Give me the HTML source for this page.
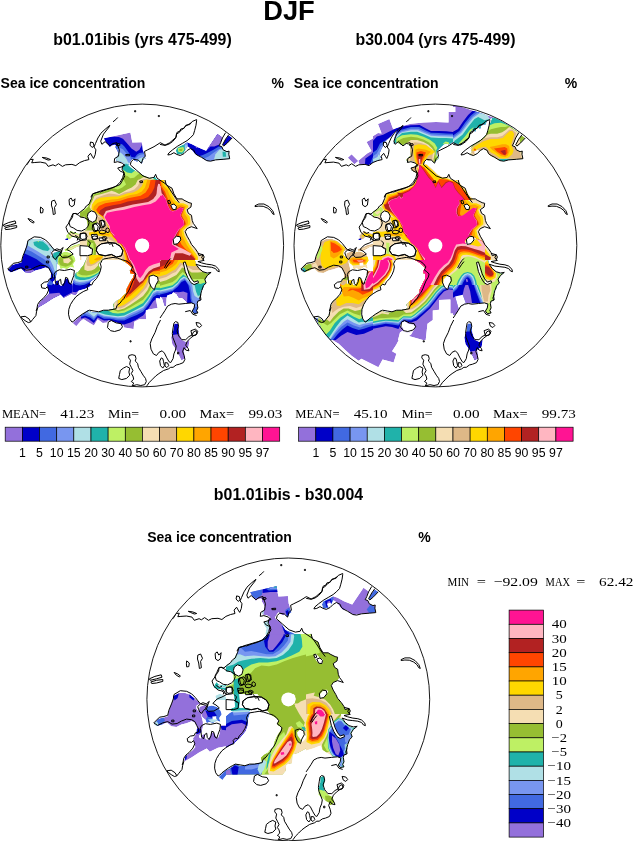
<!DOCTYPE html>
<html><head><meta charset="utf-8"><title>DJF sea ice concentration</title>
<style>html,body{margin:0;padding:0;background:#fff}svg{display:block}.hb{font-family:"Liberation Sans",Arial,Helvetica,sans-serif;font-weight:bold;fill:#000}.h{font-family:"Liberation Sans",Arial,Helvetica,sans-serif;fill:#000}.s{font-family:"Liberation Serif","Times New Roman",serif;fill:#000}</style></head><body>
<svg width="634" height="841" viewBox="0 0 634 841">
<rect width="634" height="841" fill="#fff"/>
<text class="hb" x="289" y="20.2" font-size="27.3" text-anchor="middle">DJF</text>
<text class="hb" x="142.5" y="45" font-size="15.9" text-anchor="middle">b01.01ibis (yrs 475-499)</text>
<text class="hb" x="435.5" y="45" font-size="15.9" text-anchor="middle">b30.004 (yrs 475-499)</text>
<text class="hb" x="288.5" y="499.5" font-size="15.9" text-anchor="middle">b01.01ibis - b30.004</text>
<text class="hb" x="0.6" y="88.3" font-size="14">Sea ice concentration</text>
<text class="hb" x="284" y="88.3" font-size="14" text-anchor="end">%</text>
<text class="hb" x="293.8" y="88.3" font-size="14">Sea ice concentration</text>
<text class="hb" x="577.2" y="88.3" font-size="14" text-anchor="end">%</text>
<text class="hb" x="147.2" y="542" font-size="14">Sea ice concentration</text>
<text class="hb" x="430.6" y="542" font-size="14" text-anchor="end">%</text>
<g transform="translate(142.2 245.5)">
<clipPath id="clip0"><circle r="141.4"/></clipPath>
<g clip-path="url(#clip0)">
<clipPath id="m1r1"><path d="M-38.3 -107.2 -11.8 -113.1 -9.9 -102.9 -0.4 -103.3 0.4 -95.8 1.8 -91.8 3.1 -87.1 1 -85.9 -0.4 -82 -2 -83.2 -3.2 -85.1 -5.1 -84 -7.5 -85.1 -9.9 -87.1 -11 -85.7 -12.6 -83.2 -13.7 -80.8 -17.8 -81.4 -19.3 -83.2 -22.5 -84.3 -25.6 -84.7 -26.4 -87.5 -24.5 -89.5 -23.7 -92.6 -25.2 -95.8 -26.8 -98.5 -26 -99.7 -27.2 -100.9 -30.8 -100.1 -32.3 -98.5 -34.3 -101.3 -35.9 -102.9Z"/></clipPath>
<clipPath id="m1r1b"><rect x="-42.2" y="-115.5" width="50" height="50"/></clipPath>
<g clip-path="url(#m1r1b)">
<g clip-path="url(#m1r1)">
<path fill="#9370DB" d="M-38.3 -107.2 -11.8 -113.1 -9.9 -102.9 -0.4 -103.3 0.4 -95.8 1.8 -91.8 3.1 -87.1 1 -85.9 -0.4 -82 -2 -83.2 -3.2 -85.1 -5.1 -84 -7.5 -85.1 -9.9 -87.1 -11 -85.7 -12.6 -83.2 -13.7 -80.8 -17.8 -81.4 -19.3 -83.2 -22.5 -84.3 -25.6 -84.7 -26.4 -87.5 -24.5 -89.5 -23.7 -92.6 -25.2 -95.8 -26.8 -98.5 -26 -99.7 -27.2 -100.9 -30.8 -100.1 -32.3 -98.5 -34.3 -101.3 -35.9 -102.9Z"/>
<path fill="#0000C8" d="M-38.3 -107.2 -30.4 -108.8 -23.3 -108.6 -19.3 -106.8 -15.4 -102.5 -10.7 -97 -5.9 -93.8 -2.8 -95.8 -0.6 -99.7 0 -103.7 6.7 -103.7 6.7 -78.4 -42.2 -78.4 -42.2 -107.2Z"/>
<path fill="#4169E1" d="M-26 -99.7 -23.3 -101.7 -20.1 -101.3 -17.8 -98.9 -15.4 -95.8 -13 -92.2 -11 -88.7 -7.5 -87.9 -5.1 -91.1 -2.8 -92.6 0.8 -93 6.7 -93 6.7 -78.4 -30.4 -78.4 -30.4 -97.4Z"/>
<path fill="#7896F0" d="M-25.2 -96.2 -22.5 -97.8 -19.3 -96.2 -17 -93.4 -15 -91.1 -13.4 -89.5 -11.8 -88.3 -11.4 -86.2 -7.5 -86.2 -5.5 -88.3 -3.6 -89.9 -1.2 -91.1 6.7 -91.8 6.7 -78.4 -30.4 -78.4 -30.4 -95.8Z"/>
<path fill="#B0E0E6" d="M-24.1 -92.6 -21.7 -93 -19.3 -91.1 -17 -88.3 -15.4 -85.9 -14.6 -84 -13.4 -82.4 -12.2 -84 -9.1 -84 -5.1 -85.1 -2.8 -87.1 -0.4 -87.9 6.7 -88.3 6.7 -78.4 -30.4 -78.4 -30.4 -92.6Z"/>
<path fill="#20B2AA" d="M-18.5 -80.4 -16.2 -82 -14.2 -80.8 -10.7 -80.8 -10.7 -78.4 -22.5 -78.4Z"/>
</g>
</g>
<clipPath id="m1r2"><path d="M44.9 -103.2 49.3 -101.6 55.7 -98.2 63.9 -94.8 75.2 -111.7 80.5 -108 76.9 -100.1 79.6 -98.8 80.9 -95.7 84.7 -93.8 86.9 -94.4 86.6 -91.2 87.5 -86.8 80.9 -86.2 73.3 -85.6 65.7 -84.3 62 -86.2 58.2 -89.3 54.4 -90 51.9 -92.5 50 -95 47.5 -97.6 44.9 -99.4 41.8 -101.3Z"/><path d="M33.6 -95 34.8 -97.8 38.6 -99.8 42.4 -101.6 44.9 -103.2 45.3 -99.4 43 -95 41.1 -91.9 38 -91 34.8 -91.2Z"/><path d="M86.6 -109.9 90 -107.6 85.3 -102.6 81.5 -99.4 80.3 -100.7 83.4 -106.4Z"/></clipPath>
<clipPath id="m1r2b"><rect x="17.8" y="-145.5" width="80" height="80"/></clipPath>
<g clip-path="url(#m1r2b)">
<g clip-path="url(#m1r2)">
<path fill="#0000C8" d="M44.9 -103.2 49.3 -101.6 55.7 -98.2 63.9 -94.8 75.2 -111.7 80.5 -108 76.9 -100.1 79.6 -98.8 80.9 -95.7 84.7 -93.8 86.9 -94.4 86.6 -91.2 87.5 -86.8 80.9 -86.2 73.3 -85.6 65.7 -84.3 62 -86.2 58.2 -89.3 54.4 -90 51.9 -92.5 50 -95 47.5 -97.6 44.9 -99.4 41.8 -101.3Z"/>
<path fill="#20B2AA" d="M33.6 -95 34.8 -97.8 38.6 -99.8 42.4 -101.6 44.9 -103.2 45.3 -99.4 43 -95 41.1 -91.9 38 -91 34.8 -91.2Z"/>
<path fill="#0000C8" d="M86.6 -109.9 90 -107.6 85.3 -102.6 81.5 -99.4 80.3 -100.7 83.4 -106.4Z"/>
<path fill="#9370DB" d="M63.9 -94.8 75.2 -111.7 80.5 -108 77.1 -101.1 72.1 -99.1 68.3 -99.1Z"/>
<path fill="#9370DB" d="M52.9 -99.6 55.7 -98.2 54.1 -97.6Z"/>
<path fill="#4169E1" d="M55.7 -89.1 60.7 -90.4 64.5 -92.3 70.8 -95.4 77.1 -99.2 80.9 -99.8 88.5 -99.8 88.5 -82.4 55.7 -82.4Z"/>
<path fill="#7896F0" d="M61.3 -86.8 66.4 -89.1 71.4 -92.8 76.1 -96 80.3 -97.6 88.5 -97.6 88.5 -82.4 61.3 -82.4Z"/>
<path fill="#7896F0" d="M42.4 -102 45.3 -103.2 45.8 -99.4 43.7 -95.7 42.4 -97.6Z"/>
<path fill="#B0E0E6" d="M71.4 -84.9 73.3 -91.2 77.1 -95.7 80.3 -96.3 88.5 -96.3 88.5 -84.9Z"/>
<path fill="#B0E0E6" d="M43 -100.1 44.6 -100.7 44.3 -96.9 43 -96Z"/>
<path fill="#20B2AA" d="M80.3 -93.8 83.4 -93.8 84 -88.7 80.6 -88.7Z"/>
<path fill="#BEF064" d="M35.5 -97.6 41.1 -98.6 42 -95.7 39.9 -93.1 36.1 -93.8Z"/>
<path fill="#96BE32" d="M36.7 -96.3 40.5 -96.9 39.9 -94.4 37.4 -94.4Z"/>
</g>
</g>
<clipPath id="m1r3"><path d="M-19.9 -65.5 -23.1 -60.5 -28.1 -58.6 -34.4 -56.7 -42 -53.5 -49.6 -52.3 -50.2 -47.8 -52.7 -43.4 -54.6 -39 -58.4 -35.8 -62.2 -34 -62.2 15.3 18.6 15.3 18.6 -66.1 -19.9 -66.1Z"/></clipPath>
<clipPath id="m1r3b"><rect x="-62.2" y="-65.5" width="80" height="80"/></clipPath>
<g clip-path="url(#m1r3b)">
<g clip-path="url(#m1r3)">
<path fill="#BEF064" d="M-19.9 -65.5 -23.1 -60.5 -28.1 -58.6 -34.4 -56.7 -42 -53.5 -49.6 -52.3 -50.2 -47.8 -52.7 -43.4 -54.6 -39 -58.4 -35.8 -62.2 -34 -62.2 15.3 18.6 15.3 18.6 -66.1 -19.9 -66.1Z"/>
<path fill="#96BE32" d="M-18.7 -66.1 -16.1 -61.1 -19.9 -57.9 -24.3 -56 -29.4 -57.3 -33.2 -56 -40.7 -52.9 -48.3 -51 -49.6 -47.8 -52.1 -42.8 -54 -38.4 -57.2 -35.2 -62.2 -32.7 -62.2 15.3 18.6 15.3 18.6 -66.1Z"/>
<path fill="#F5DEB3" d="M-4.2 -66.1 -6.7 -61.1 -10.5 -57.9 -14.9 -56 -19.3 -53.5 -23.1 -51.6 -26.9 -53.5 -30.7 -54.8 -33.8 -53.5 -40.7 -51.6 -47.7 -49.7 -49 -46.6 -51.5 -41.5 -52.7 -38.4 -50.8 -35.2 -45.8 -27.6 -44.5 -15 -62.2 -15 -62.2 15.3 18.6 15.3 18.6 -66.1Z"/>
<path fill="#DEB887" d="M-1.6 -66.1 -4.2 -59.8 -7.9 -56 -13 -54.1 -18 -52.9 -23.1 -50.4 -28.1 -51.6 -33.2 -51.9 -39.5 -50.1 -45.8 -47.8 -48.3 -44 -50.2 -40.3 -50.2 -35.8 -45.8 -31.4 -40.7 -27.6 -37 -17.6 -37 -12.5 -33.2 -6.2 -20.6 0.1 -18 5.2 -20.6 15.3 18.6 15.3 18.6 -66.1Z"/>
<path fill="#FFD700" d="M2.2 -66.1 -0.4 -59.2 -4.2 -55.4 -9.2 -52.9 -14.3 -52.3 -19.3 -50.4 -24.3 -49.1 -29.4 -49.1 -35.7 -48.5 -42 -47.8 -47.1 -45.3 -50.2 -40.9 -50.8 -36.5 -45.8 -32.4 -40.1 -28.3 -36.3 -23.9 -33.8 -17.6 -33.2 -12.5 -30.7 -8.7 -26.9 -4.9 -21.8 -1.1 -19.3 3.3 -18 8.9 -17 15.3 18.6 15.3 18.6 -66.1Z"/>
<path fill="#FFA500" d="M5.3 -66.1 2.8 -57.9 -0.4 -54.1 -5.4 -51.6 -11.7 -50.4 -18 -48.5 -24.3 -46.6 -30.7 -45.9 -38.2 -44.7 -44.5 -42.8 -48.6 -39 -49 -35.8 -44.5 -32.4 -39.5 -28.7 -35.7 -23.9 -33.2 -18.2 -32.2 -12.5 -29.4 -8.7 -25.6 -4.9 -21.2 -1.1 -18.7 3.3 -17 8.9 -15.8 15.3 18.6 15.3 18.6 -66.1Z"/>
<path fill="#FF4500" d="M8.5 -66.1 6.6 -57.9 3.4 -52.9 -1.6 -49.7 -7.9 -48.5 -14.3 -47.2 -21.8 -44.7 -29.4 -43.4 -37 -42.2 -43.3 -39.6 -46 -35.8 -43.9 -32.4 -38.9 -28.7 -35.4 -23.9 -32.9 -18.2 -31.9 -13.1 -28.8 -9.1 -25 -4.9 -20.8 -1.1 -18 3.3 -16.1 8.9 -14.5 15.3 18.6 15.3 18.6 -66.1Z"/>
<path fill="#B22222" d="M13.5 -66.1 12.2 -57.9 9.7 -52.9 5.9 -48.5 0.9 -46.6 -6.7 -45.3 -14.3 -44 -21.8 -41.5 -29.4 -40.3 -37 -38.4 -42 -35.2 -43.3 -32.1 -38.2 -28.7 -35.2 -23.9 -32.7 -18.2 -31.5 -13.5 -28.4 -9.3 -24.6 -5.2 -20.6 -1.1 -17.5 3.3 -15.5 8.9 -13.5 15.3 18.6 15.3 18.6 -66.1Z"/>
<path fill="#FFB6C1" d="M18.6 -56.7 14.8 -51.6 11 -46.6 5.9 -43.4 -1.6 -42.2 -9.2 -40.9 -19.3 -38.4 -28.1 -36.7 -36.3 -34.6 -38.9 -29.5 -37 -25.1 -33.8 -20.1 -32.4 -15.7 -30.7 -12.5 -28.1 -9.6 -24.3 -5.4 -20.3 -1.4 -17.3 3 -15 8.7 -12.7 15.3 18.6 15.3Z"/>
<path fill="#FF1493" d="M18.6 -49.7 13.5 -44 8.5 -41.5 0.9 -40.3 -7.9 -38.4 -18 -35.8 -26.9 -34.6 -35.1 -32.7 -37.6 -28.3 -35.1 -23.9 -32.5 -19.4 -31.9 -15 -30 -12.5 -27.5 -10 -29.1 -9.2 -26.2 -6.2 -24.3 -2.4 -20.3 -1.7 -17 2.6 -14.5 8.3 -11.7 15.3 18.6 15.3Z"/>
<path fill="#FFB6C1" d="M14.1 -49.5 15 -57.9 16 -61.7 18.1 -61.1 18.6 -57.9 18.6 -49.5Z"/>
<path fill="#DEB887" d="M-45.2 -28.9 -40.7 -27.6 -37 -23.9 -37 -15 -41.4 -15 -43.3 -22.6Z"/>
<path fill="#FFD700" d="M-53.4 -13.1 -45.8 -14.4 -37 -13.8 -30.7 -11.2 -30 -8.7 -37 -9.3 -45.8 -10 -52.7 -10Z"/>
<path fill="#FFA500" d="M-42 -12.5 -33.2 -11.5 -32.5 -10 -41.4 -10.6Z"/>
<path fill="#96BE32" d="M-54.6 -6.2 -48.3 -4.9 -45.8 0.1 -46.4 10.2 -45.8 15.3 -54.6 15.3 -53.4 5.2 -55.3 -1.1Z"/>
<path fill="#BEF064" d="M-52.7 -2.4 -49 -2.4 -48.3 5.2 -49 15.3 -52.1 15.3 -51.5 5.2Z"/>
<path fill="#FFFFFF" d="M-54 -32.4 -50.8 -34.6 -47.1 -33.3 -45.2 -29.5 -46.4 -25.1 -49.6 -23.2 -53.4 -25.1 -54.9 -28.9Z"/>
<path fill="#FFFFFF" d="M-62.8 -27.6 -57.8 -28.9 -55.3 -25.1 -54.6 -20.1 -55.9 -15.7 -59.7 -13.8 -62.8 -13.1Z"/>
<path fill="#FFFFFF" d="M-49 -21.3 -44.5 -22.6 -42 -19.4 -43.3 -15 -47.7 -15Z"/>
<path fill="#FFFFFF" d="M-41.4 -25.1 -37.6 -24.5 -37 -19.4 -40.1 -18.8Z"/>
<path fill="#FFFFFF" d="M-50.8 -11 -45.2 -11.2 -44.5 -6.8 -49.6 -6.2Z"/>
<path fill="#FFFFFF" d="M-62.8 -11.9 -56.5 -12.5 -55.9 -5.6 -62.8 -4.9Z"/>
<path fill="#FFFFFF" d="M-43.3 -7.5 -37 -7.7 -36.3 -4.9 -42.6 -4.7Z"/>
<path fill="#FFFFFF" d="M-45.2 1.4 -40.7 -1.8 -33.2 -3 -26.9 -2.4 -21.8 0.7 -19.3 5.2 -20.6 10.2 -25.6 11.5 -30.7 8.9 -37 10.2 -43.3 8.9 -45.8 5.2Z"/>
<path fill="#FFFFFF" d="M-62.8 0.1 -54.6 0.7 -49.6 3.3 -50.2 8.9 -54.6 10.2 -62.8 10.2Z"/>
<path fill="#FFFFFF" d="M-60.9 10.2 -55.9 10.8 -56.5 15.3 -60.9 15.3Z"/>
<path fill="#DEB887" d="M-53.4 10.2 -43.3 10 -40.7 15.3 -54.6 15.3Z"/>
<path fill="#FFD700" d="M-50.2 12.1 -43.3 11.5 -41.4 15.3 -50.8 15.3Z"/>
<path fill="#FFFFFF" d="M6.8 0.1 5.9 3.6 3.4 6.2 -0.1 7.1 -3.7 6.2 -6.2 3.6 -7.1 0.1 -6.2 -3.4 -3.7 -5.9 -0.1 -6.8 3.4 -5.9 5.9 -3.4Z"/>
</g>
</g>
<clipPath id="m1r4"><path d="M22.8 -66.1 24.1 -60.5 29.8 -57.3 31.7 -51.6 34.8 -46.6 39.9 -46.6 41.8 -45.3 46.8 -42.8 49.3 -42.2 48.7 -38.4 44.9 -35.8 46.2 -32.1 49.3 -30.2 50 -25.1 51.2 -22 49.3 -18.8 44.9 -16.9 43 -13.8 44.9 -9.3 47.5 -4.9 49.3 -1.1 53.1 3.3 55.7 7.1 56.9 10.2 60.7 8.9 62 11.5 60.7 15.3 17.2 15.3 17.2 -66.1Z"/></clipPath>
<clipPath id="m1r4b"><rect x="17.8" y="-65.5" width="80" height="80"/></clipPath>
<g clip-path="url(#m1r4b)">
<g clip-path="url(#m1r4)">
<path fill="#F5DEB3" d="M22.8 -66.1 24.1 -60.5 29.8 -57.3 31.7 -51.6 34.8 -46.6 39.9 -46.6 41.8 -45.3 46.8 -42.8 49.3 -42.2 48.7 -38.4 44.9 -35.8 46.2 -32.1 49.3 -30.2 50 -25.1 51.2 -22 49.3 -18.8 44.9 -16.9 43 -13.8 44.9 -9.3 47.5 -4.9 49.3 -1.1 53.1 3.3 55.7 7.1 56.9 10.2 60.7 8.9 62 11.5 60.7 15.3 17.2 15.3 17.2 -66.1Z"/>
<path fill="#FFD700" d="M21.6 -66.1 22.8 -60.5 27.9 -56.7 29.8 -51 32.9 -45.3 36.7 -42.2 41.1 -42.2 45.6 -40.3 46.2 -38.4 43 -35.8 44.3 -32.1 47.5 -28.9 48.1 -25.1 48.1 -21.3 44.3 -18.2 41.1 -15 42.4 -10 44.9 -4.9 47.5 -0.5 50.6 3.9 53.8 8.3 55.7 11.5 55.7 15.3 17.2 15.3 17.2 -66.1Z"/>
<path fill="#FFA500" d="M19.7 -66.1 21 -59.8 25.4 -55.4 27.3 -50.4 30.4 -44.7 34.2 -40.3 39.3 -40.9 43.7 -39 41.8 -35.2 42.4 -31.4 44.9 -28.3 45.8 -24.5 45.6 -21.3 42.4 -18.8 39.3 -15.7 39.9 -10 42.4 -4.9 44.9 0.1 48.1 4.5 51.2 8.9 53.8 12.7 53.8 15.3 17.2 15.3 17.2 -66.1Z"/>
<path fill="#FF4500" d="M18.4 -66.1 19.3 -59.2 22.8 -54.1 24.7 -49.1 27.9 -41.5 30.4 -35.8 34.2 -36.7 38 -39 42.4 -38 40.8 -34 39.5 -30.2 41.1 -27 43 -23.9 43.7 -21.3 41.1 -19.1 38 -16.3 36.7 -11.2 36.7 -6.2 39.3 -1.1 43 3.3 48.1 7.7 51.9 11.5 52.5 15.3 17.2 15.3 17.2 -66.1Z"/>
<path fill="#B22222" d="M17.2 -61.7 18.8 -57.9 21.6 -52.9 23.5 -47.8 26 -40.3 28.5 -35.2 30.4 -34.5 34.2 -35.7 38 -38.2 41.8 -37.5 40.3 -34 38.6 -30.2 40.3 -27 42 -23.9 42.5 -21.1 39.9 -18.6 37.4 -16.3 35.5 -12.5 33.6 -8.1 34.2 -2.4 38 2.6 43 6.4 49.3 10.2 53.1 13.4 51.9 15.3 17.2 15.3Z"/>
<path fill="#FFB6C1" d="M17.2 -52.9 20.3 -51.6 23.5 -47.2 25.6 -40.3 28.1 -35.2 30.4 -34.2 34.2 -35.5 38 -38 41.5 -37.2 40 -34 38.2 -30.2 39.6 -27.6 41.5 -24.9 42 -20.7 39.5 -18.1 37 -16 34.5 -12.3 32.7 -8.5 31.4 -3.7 31.9 -1.1 36.7 1.4 43 4.5 49.3 8.3 47.5 10.2 40.5 7.7 32.9 7.7 30.4 15.3 17.2 15.3Z"/>
<path fill="#FF1493" d="M17.2 -50.4 20.3 -51 23.5 -46.6 25.4 -40.3 27.9 -35.2 30.4 -34 34.2 -35.2 38 -37.7 41.1 -37.1 39.9 -34 38 -30.2 39.3 -27.6 41.1 -25.1 41.8 -20.7 39.3 -18.2 36.7 -16.3 34.2 -12.5 32.3 -8.7 30.4 -4.9 29.8 -1.1 36.7 3.6 32.9 5.2 29.2 7.1 27.3 15.3 17.2 15.3Z"/>
<path fill="#FFB6C1" d="M17.2 -61.1 18.4 -59.2 19.3 -52.9 19.7 -49.7 17.2 -49.7Z"/>
<path fill="#FFFFFF" d="M28.5 -40.3 31.7 -41.5 34.2 -39 33.6 -35.8 30.4 -36.2Z"/>
<path fill="#FFFFFF" d="M31 -6.2 34.2 -9.3 38 -8.7 38.6 -5.6 35.5 -1.8 31.7 -1.1Z"/>
</g>
</g>
<clipPath id="m1r5"><path d="M-17.8 -81.7 -15.1 -81.7 -11.3 -77.9 -5.6 -74.1 0.7 -70.4 5.7 -67.8 10.8 -66.6 12.7 -69.7 14 -66.8 18.4 -64.7 18.4 -63.4 -22 -63.4 -21.4 -64.7 -19.5 -67.8 -18.2 -72.9 -20.1 -76 -19.7 -79.2Z"/></clipPath>
<clipPath id="m1r5b"><rect x="-42.2" y="-81.3" width="80" height="15.8"/></clipPath>
<g clip-path="url(#m1r5b)">
<g clip-path="url(#m1r5)">
<path fill="#20B2AA" d="M-17.8 -81.7 -15.1 -81.7 -11.3 -77.9 -5.6 -74.1 0.7 -70.4 5.7 -67.8 10.8 -66.6 12.7 -69.7 14 -66.8 18.4 -64.7 18.4 -63.4 -22 -63.4 -21.4 -64.7 -19.5 -67.8 -18.2 -72.9 -20.1 -76 -19.7 -79.2Z"/>
<path fill="#BEF064" d="M-19.5 -76 -15.1 -72.9 -10.7 -72.3 -7.5 -74.8 -4.3 -73.5 0.7 -69.7 18.4 -64 18.4 -62.8 -23.3 -62.8Z"/>
<path fill="#96BE32" d="M-18.9 -69.1 -15.1 -69.7 -11.9 -67.2 -8.1 -67.8 -4.3 -71 -1.8 -72.3 1.3 -70.1 18.4 -64 18.4 -62.8 -23.3 -62.8Z"/>
<path fill="#F5DEB3" d="M-4.2 -62.8 -5 -65.3 -1.8 -66.6 1.3 -68.5 5.1 -67.2 10.8 -65.9 18.4 -64 18.4 -62.8Z"/>
<path fill="#DEB887" d="M-1.6 -62.8 0.7 -66.6 5.1 -66.6 12.1 -65.3 18.4 -64 18.4 -62.8Z"/>
<path fill="#FFD700" d="M2.2 -62.8 3.9 -65.9 8.3 -65.3 13.3 -64.7 18.4 -62.8Z"/>
<path fill="#FFA500" d="M5.2 -62.8 7.6 -65.3 12.1 -64.7 15.8 -62.8Z"/>
<path fill="#FF4500" d="M8.5 -62.8 10.8 -65.1 14 -64.7 15.8 -62.8Z"/>
<path fill="#B22222" d="M13.4 -62.8 14.6 -64.3 17.1 -62.8Z"/>
</g>
</g>
<clipPath id="m1r6"><path d="M-134.6 24.4 -129.6 19.3 -124.5 18.1 -120.7 16.8 -119.5 11.8 -117.6 6.1 -115.7 1 -115.1 -3.4 -109.4 -6.5 -103.1 -6.5 -98 -4.6 -93.6 -0.8 -90.5 1.7 -87.9 4.2 -91.7 6.1 -92 9.2 -89.8 11.8 -86.7 13.7 -86.7 17.4 -85.4 22.5 -85.4 27.5 -86.7 32.6 -89.2 36.4 -93 36.4 -91.7 32.6 -91.1 27.5 -93.6 23.1 -96.8 21.9 -101.8 23.8 -106.9 25 -111.9 27.5 -117 26.9 -121.4 23.1 -125.8 25 -131.5 26.9Z"/><path d="M-85.4 12.4 -81.6 7.4 -76.6 6.1 -71.5 7.4 -67.8 11.1 -66.5 14.9 -69 18.7 -67.8 22.5 -71.5 21.2 -75.3 23.8 -79.1 22.5 -81.6 23.8 -82.9 20 -86 17.4Z"/><path d="M-88.6 7.4 -82.9 5.5 -80.4 7.4 -82.9 9.9 -84.8 13 -86 17.4 -85.4 22.5 -86.7 17.4 -86.7 13.7 -89.8 11.8Z"/></clipPath>
<clipPath id="m1r6b"><rect x="-142.2" y="-65.5" width="80" height="101"/></clipPath>
<g clip-path="url(#m1r6b)">
<g clip-path="url(#m1r6)">
<path fill="#0000C8" d="M-134.6 24.4 -129.6 19.3 -124.5 18.1 -120.7 16.8 -119.5 11.8 -117.6 6.1 -115.7 1 -115.1 -3.4 -109.4 -6.5 -103.1 -6.5 -98 -4.6 -93.6 -0.8 -90.5 1.7 -87.9 4.2 -91.7 6.1 -92 9.2 -89.8 11.8 -86.7 13.7 -86.7 17.4 -85.4 22.5 -85.4 27.5 -86.7 32.6 -89.2 36.4 -93 36.4 -91.7 32.6 -91.1 27.5 -93.6 23.1 -96.8 21.9 -101.8 23.8 -106.9 25 -111.9 27.5 -117 26.9 -121.4 23.1 -125.8 25 -131.5 26.9Z"/>
<path fill="#BEF064" d="M-85.4 12.4 -81.6 7.4 -76.6 6.1 -71.5 7.4 -67.8 11.1 -66.5 14.9 -69 18.7 -67.8 22.5 -71.5 21.2 -75.3 23.8 -79.1 22.5 -81.6 23.8 -82.9 20 -86 17.4Z"/>
<path fill="#20B2AA" d="M-88.6 7.4 -82.9 5.5 -80.4 7.4 -82.9 9.9 -84.8 13 -86 17.4 -85.4 22.5 -86.7 17.4 -86.7 13.7 -89.8 11.8Z"/>
<path fill="#9370DB" d="M-117 23.8 -111.9 23.1 -107.5 25 -111.9 27.8 -117 27.2Z"/>
<path fill="#4169E1" d="M-118.9 7.4 -113.2 9.9 -105.6 13.7 -100.6 17.4 -96.8 20 -92.4 23.8 -89.2 28.8 -89.2 37.6 -84.8 37.6 -84.8 -17.9 -118.9 -17.9Z"/>
<path fill="#7896F0" d="M-117 3.6 -110.7 6.1 -104.3 9.9 -98 13.7 -93.6 17.4 -91.1 22.5 -87.9 28.8 -84.8 28.8 -84.8 -17.9 -117 -17.9Z"/>
<path fill="#B0E0E6" d="M-115.1 -0.2 -110.7 2.3 -104.3 6.1 -98 9.9 -93 12.4 -89.2 20 -87.3 26.3 -84.8 26.3 -84.8 -17.9 -115.1 -17.9Z"/>
<path fill="#20B2AA" d="M-108.8 -3.4 -104.3 -4.6 -99.3 -4 -94.9 -0.2 -92.4 3.6 -94.3 5.5 -99.3 4.8 -104.3 2.6 -108.1 -0.2Z"/>
<path fill="#BEF064" d="M-105 -4.3 -103.1 -4.5 -103.7 -3.2Z"/>
<path fill="#0000C8" d="M-93 32.6 -86.7 31.3 -86 36.4 -94.3 37Z"/>
<path fill="#96BE32" d="M-82.9 12.4 -77.8 9.2 -71.5 10.5 -68.4 15.6 -70.9 19.3 -76.6 21.2 -81.6 20 -83.9 16.2Z"/>
<path fill="#F5DEB3" d="M-79.1 13.7 -73.4 12.4 -70.9 14.9 -74.1 18.1 -78.5 17.2Z"/>
<path fill="#20B2AA" d="M-88.6 7.4 -82.9 5.5 -80.4 7.4 -82.9 9.9 -84.8 13 -86 17.4 -86.7 13.7 -89.8 11.8Z"/>
</g>
</g>
<clipPath id="m1r7"><path d="M-92.4 34.7 -95.3 39.1 -94.3 43.5 -93 47.6 -95.5 50.5 -99.3 53.6 -103.1 57.4 -104.3 62.4 -96.8 58 -89.2 53 -81.6 49.2 -78.5 52.4 -70.3 48.3 -61.4 46.7 -61.4 25.9 -67.8 25.9 -68.4 33.4 -70.3 38.5 -72.2 37.2 -74.1 33.4 -77.2 32.8 -78.5 37.2 -81 40.4 -82.9 39.1 -83.9 34.7 -86 35.3 -87.3 39.1 -89.2 37.8 -88.8 34.7Z"/><path d="M-69.6 77.6 -61.4 69.4 -61.4 75.1 -65.9 80.7Z"/></clipPath>
<clipPath id="m1r7b"><rect x="-142.2" y="24.5" width="72.2" height="70"/></clipPath>
<g clip-path="url(#m1r7b)">
<g clip-path="url(#m1r7)">
<path fill="#0000C8" d="M-92.4 34.7 -95.3 39.1 -94.3 43.5 -93 47.6 -95.5 50.5 -99.3 53.6 -103.1 57.4 -104.3 62.4 -96.8 58 -89.2 53 -81.6 49.2 -78.5 52.4 -70.3 48.3 -61.4 46.7 -61.4 25.9 -67.8 25.9 -68.4 33.4 -70.3 38.5 -72.2 37.2 -74.1 33.4 -77.2 32.8 -78.5 37.2 -81 40.4 -82.9 39.1 -83.9 34.7 -86 35.3 -87.3 39.1 -89.2 37.8 -88.8 34.7Z"/>
<path fill="#9370DB" d="M-69.6 77.6 -61.4 69.4 -61.4 75.1 -65.9 80.7Z"/>
<path fill="#4169E1" d="M-95.5 39.1 -92.4 34.1 -88.6 37.8 -90.5 39.7Z"/>
<path fill="#9370DB" d="M-104.3 62.4 -103.7 58 -93.6 48.3 -82.9 47.3 -79.1 51.7 -70.9 47.3 -61.4 45.4 -61.4 47.9 -70.3 48.3 -78.5 52.4 -81.6 49.2 -89.2 53 -96.8 58Z"/>
</g>
</g>
<clipPath id="m1r8"><path d="M-21.8 13.9 -16.8 16.4 -13 19.5 -9.2 23.3 -12.4 25.2 -11.7 27.7 -7.9 28.4 -9.2 32.2 -11.7 36 -13.6 39.7 -15.5 43.5 -16.1 47.9 -19.3 50.5 -21.8 53.6 -25.6 55.5 -28.8 58.7 -28.1 63.1 -31.9 64.3 -37 65 -40.7 65.6 -44.5 66.9 -49.6 66.9 -54.6 65 -57.2 67.5 -60.9 70 -62.8 71.5 -62.8 75.1 -58.4 73.8 -54.6 76.3 -48.3 80.1 -44.5 73.8 -39.5 77.6 -35.1 77 -33.8 75.1 -24.3 77.6 -18.7 80.1 -18 82 -8.6 83.6 -7.9 76.3 -2.9 73.8 4 73.8 3.4 65 4.7 64.3 15.4 62.4 13.5 52.4 18.6 53.6 18.6 13.9Z"/></clipPath>
<clipPath id="m1r8b"><rect x="-62.2" y="14.5" width="80" height="80"/></clipPath>
<g clip-path="url(#m1r8b)">
<g clip-path="url(#m1r8)">
<path fill="#9370DB" d="M-21.8 13.9 -16.8 16.4 -13 19.5 -9.2 23.3 -12.4 25.2 -11.7 27.7 -7.9 28.4 -9.2 32.2 -11.7 36 -13.6 39.7 -15.5 43.5 -16.1 47.9 -19.3 50.5 -21.8 53.6 -25.6 55.5 -28.8 58.7 -28.1 63.1 -31.9 64.3 -37 65 -40.7 65.6 -44.5 66.9 -49.6 66.9 -54.6 65 -57.2 67.5 -60.9 70 -62.8 71.5 -62.8 75.1 -58.4 73.8 -54.6 76.3 -48.3 80.1 -44.5 73.8 -39.5 77.6 -35.1 77 -33.8 75.1 -24.3 77.6 -18.7 80.1 -18 82 -8.6 83.6 -7.9 76.3 -2.9 73.8 4 73.8 3.4 65 4.7 64.3 15.4 62.4 13.5 52.4 18.6 53.6 18.6 13.9Z"/>
<path fill="#0000C8" d="M-62.8 73.8 -57.2 71.9 -53.4 73.8 -48.3 77.6 -44.5 71.9 -38.2 75.1 -31.9 74.8 -24.3 77.6 -18 79.1 -11.7 77 -5.4 73.8 0.9 70 5.9 63.7 11 56.1 14.8 52.4 18.6 52.4 18.6 13.9 -62.8 13.9Z"/>
<path fill="#4169E1" d="M-62.8 71.9 -57.2 70 -52.1 71.9 -48.3 75.1 -44.5 70 -38.2 73.2 -31.9 73.2 -24.3 75.1 -18 75.1 -11.7 71.9 -5.4 69.4 0.9 66.2 5.9 59.9 11 51.7 14.8 49.2 18.6 49.8 18.6 13.9 -62.8 13.9Z"/>
<path fill="#7896F0" d="M-57.2 68.1 -52.1 70 -48.3 73.2 -44.5 68.8 -38.2 71.5 -31.9 71.9 -24.3 73.2 -18 73.2 -11.7 70 -5.4 67.2 0.9 64 5.9 57.7 11 49.2 14.8 47.1 18.6 47.6 18.6 13.9 -57.2 13.9Z"/>
<path fill="#B0E0E6" d="M-54.6 66.2 -48.3 71.3 -44.5 67.7 -38.2 70.3 -31.9 70.9 -24.3 71.9 -18 71.5 -11.7 68.1 -5.4 65.2 0.9 62.2 5.9 55.9 11 47.6 14.8 45.4 18.6 46 18.6 13.9 -54.6 13.9Z"/>
<path fill="#20B2AA" d="M-43.3 66.9 -37 69 -31.9 69.8 -24.3 70.7 -18 70 -11.7 66.9 -5.4 63.7 0.9 60.6 5.9 54.2 11 46 13.5 44.2 18.6 44.8 18.6 13.9 -43.3 13.9Z"/>
<path fill="#BEF064" d="M-34.4 65 -29.4 67.5 -24.3 68.1 -18 67.2 -11.7 64.3 -5.4 60.9 0.9 57.4 5.9 51.1 9.7 45.4 12.2 42.3 18.6 42.3 18.6 13.9 -34.4 13.9Z"/>
<path fill="#96BE32" d="M-29.1 64.3 -24.3 66.2 -18 65 -11.7 61.8 -5.4 58 0.9 54.2 5.9 47.9 9.1 42.3 11 38.5 18.6 38.5 18.6 13.9 -29.1 13.9Z"/>
<path fill="#F5DEB3" d="M-28.1 63.1 -24.3 64.7 -18 63.1 -11.7 59.3 -5.4 54.9 0.9 50.5 5.3 44.8 7.8 39.1 9.7 35.3 18.6 35.3 18.6 13.9 -28.1 13.9Z"/>
<path fill="#DEB887" d="M-25.6 62.4 -21.8 63.1 -18 61.4 -11.7 56.8 -5.4 52.1 0.9 46 4.7 41.6 6.9 36.6 8.5 33.4 18.6 33.4 18.6 13.9 -25.6 13.9Z"/>
<path fill="#FFD700" d="M-24.3 61.4 -18 59.3 -11.7 54.9 -5.4 49.8 0.9 42.9 4 37.8 5.9 33.4 7.2 30.9 18.6 30.9 18.6 13.9 -24.3 13.9Z"/>
<path fill="#FFA500" d="M-19.9 54.9 -11.7 50.5 -5.4 44.8 0.9 39.7 4 34.7 5.9 30.9 8.5 28.4 13.5 28.4 18.6 29 18.6 13.9 -19.9 13.9Z"/>
<path fill="#FF4500" d="M-16.1 52.4 -9.2 46 -2.9 39.1 0.9 37.2 2.2 33.4 5.3 28.4 11 25.9 18.6 25.2 18.6 13.9 -16.1 13.9Z"/>
<path fill="#B22222" d="M-13.2 13.9 -10.2 21.1 -8.2 28.6 -7.9 36 -10.5 43.5 -14.3 48.6 -11.7 47.9 -6 42.9 -0.4 37.8 3.4 33.4 6.6 29 11 25.6 18.6 23.3 18.6 13.9Z"/>
<path fill="#FFB6C1" d="M-12.7 13.9 -9.2 20.2 -6.9 27.1 -5.7 32.8 -2.9 37.2 0.9 34.7 3.4 30.3 6.6 25.9 11 23.1 18.6 20.6 18.6 13.9Z"/>
<path fill="#FF1493" d="M-11.7 13.9 -7.9 20.2 -5.4 27.1 -3.5 31.5 -1.9 32.5 0.9 29 3.4 24.6 6.6 21.1 11 19 18.6 16.8 18.6 13.9Z"/>
<path fill="#FFFFFF" d="M6.9 30.9 11 29.6 15.4 31.5 16 35.3 13.5 39.7 12.2 44.2 9.1 41.6 6.9 36.6Z"/>
</g>
</g>
<clipPath id="m1r9"><path d="M17.2 13.9 52.5 13.9 53.8 19.5 56.9 23.3 60.7 26.5 65.1 28.4 68.3 27.1 64.7 30.3 62.6 34.7 63.9 37.2 61.3 39.7 60.7 43.5 58.2 45.4 58.8 49.2 57.5 52.4 58.2 54.9 55.7 55.5 55 58 55.7 62.4 54.4 65 55.7 67.5 51.9 68.1 50 65.6 51.9 62.4 52.5 58.7 49.3 57.4 44.9 57.4 43 54.9 39.9 52.4 36.7 52.4 34.2 48.6 31 46.7 29.8 48.6 25.4 49.8 24.1 52.4 23.9 60.6 22.2 60.2 20.1 52.4 17.2 51.1Z"/></clipPath>
<clipPath id="m1r9b"><rect x="17.8" y="14.5" width="80" height="80"/></clipPath>
<g clip-path="url(#m1r9b)">
<g clip-path="url(#m1r9)">
<path fill="#0000C8" d="M17.2 13.9 52.5 13.9 53.8 19.5 56.9 23.3 60.7 26.5 65.1 28.4 68.3 27.1 64.7 30.3 62.6 34.7 63.9 37.2 61.3 39.7 60.7 43.5 58.2 45.4 58.8 49.2 57.5 52.4 58.2 54.9 55.7 55.5 55 58 55.7 62.4 54.4 65 55.7 67.5 51.9 68.1 50 65.6 51.9 62.4 52.5 58.7 49.3 57.4 44.9 57.4 43 54.9 39.9 52.4 36.7 52.4 34.2 48.6 31 46.7 29.8 48.6 25.4 49.8 24.1 52.4 23.9 60.6 22.2 60.2 20.1 52.4 17.2 51.1Z"/>
<path fill="#4169E1" d="M17.2 49.2 24.1 47.6 30.4 45.4 35.5 41.3 39.3 36.6 43 34.7 46.2 39.7 47.8 47.3 48.3 53.6 50 58.7 50.6 68.8 98.6 68.8 98.6 13.9 17.2 13.9Z"/>
<path fill="#7896F0" d="M17.2 47.6 24.1 46 30.4 44.2 35.5 39.7 39 35.3 42.4 33.4 48.1 41 49.3 47.3 49.3 52.4 51.2 58 52.5 61.2 55.7 61.8 98.6 61.8 98.6 13.9 17.2 13.9Z"/>
<path fill="#B0E0E6" d="M17.2 46 24.1 44.8 30.4 42.9 35.5 38.5 38.6 34.4 42.4 32.2 50 39.1 50.9 46 52.5 50.5 55.7 52.4 98.6 52.4 98.6 13.9 17.2 13.9Z"/>
<path fill="#20B2AA" d="M17.2 44.8 24.1 43.3 30.4 41.6 35.5 37.2 38.2 33.4 41.8 30.9 46.8 33.4 52.5 39.7 53.8 46 55.7 50.5 58.8 49.2 98.6 49.2 98.6 13.9 17.2 13.9Z"/>
<path fill="#BEF064" d="M17.2 42.9 24.1 41.3 30.4 39.7 34.8 36 37.7 32.2 41.1 29 46.8 33.4 51.9 38.5 55.7 37.8 58.2 38.5 62 37.2 98.6 37.2 98.6 13.9 17.2 13.9Z"/>
<path fill="#96BE32" d="M17.2 40.4 24.1 38.5 30.4 36.6 34.2 33.4 37.4 29.6 40.5 26.5 46.2 30.9 49.3 33.4 55.7 33.4 61.3 33.4 98.6 33.4 98.6 13.9 17.2 13.9Z"/>
<path fill="#F5DEB3" d="M17.2 36.6 24.1 34.7 30.4 31.5 34.2 29.6 36.7 26.5 39.9 22.1 46.2 24.6 49.3 27.1 55.7 27.1 60.7 26.5 98.6 26.5 98.6 13.9 17.2 13.9Z"/>
<path fill="#DEB887" d="M17.2 33.4 24.1 31.5 30.4 27.7 33.6 26.5 36.1 23.3 39.3 19.5 46.2 22.1 50.6 24.6 58.2 24.6 98.6 24.6 98.6 13.9 17.2 13.9Z"/>
<path fill="#FFD700" d="M17.2 30.9 24.1 29 30.4 25.2 32.9 24 35.5 20.8 38 17 46.2 20.2 51.9 20.8 54.4 20.2 98.6 20.2 98.6 13.9 17.2 13.9Z"/>
<path fill="#FFA500" d="M17.2 27.1 24.1 25.2 30.4 21.4 34.2 18.3 36.7 13.9 17.2 13.9Z"/>
<path fill="#FF4500" d="M17.2 24.6 24.1 22.3 30.4 18.3 32.9 13.9 17.2 13.9Z"/>
<path fill="#B22222" d="M17.2 22.1 22.8 19.5 27.9 13.9 17.2 13.9Z"/>
<path fill="#FFB6C1" d="M17.2 16.4 19.7 13.9 17.2 13.9Z"/>
<path fill="#9370DB" d="M18.8 51.5 24.4 51.5 23.9 60.6 22.2 60.2Z"/>
<path fill="#9370DB" d="M31 46.4 34.2 48.6 36.7 52.4 39.9 52.4 43 54.9 44.9 57.4 45.3 47.6 41.1 46 36.7 46.7Z"/>
<path fill="#FFFFFF" d="M41.1 17 43 16.4 44.9 22.1 46.8 28.4 49.3 33.4 51.9 36.6 55.7 35.3 56.3 37.2 51.9 39.1 48.7 37.2 45.6 32.2 43 25.9Z"/>
</g>
</g>
<clipPath id="m1r10"><path d="M32.4 78 35.9 78 37 87.2 39.3 94.2 44 96.5 47.4 94.2 46.3 101.2 41.7 104.6 42.8 112.7 39.3 115.1 35.9 108.1 33.5 103.5 30.1 98.8 28.9 91.9 31.2 84.9Z"/></clipPath>
<clipPath id="m1r10b"><rect x="17.8" y="74.5" width="47" height="45"/></clipPath>
<g clip-path="url(#m1r10b)">
<g clip-path="url(#m1r10)">
<path fill="#9370DB" d="M32.4 78 35.9 78 37 87.2 39.3 94.2 44 96.5 47.4 94.2 46.3 101.2 41.7 104.6 42.8 112.7 39.3 115.1 35.9 108.1 33.5 103.5 30.1 98.8 28.9 91.9 31.2 84.9Z"/>
<path fill="#0000C8" d="M31.5 78 36.3 78 36.6 88.4 30.5 89.6Z"/>
</g>
</g>
<clipPath id="m1r11"><path d="M-76.1 -10.1 -71.4 -14.8 -67.6 -12.9 -63.8 -12 -61.9 -11.5 -61.9 -7.3 -65.7 -7.7 -69.5 -9.1 -72.3 -6.3 -75.6 -6.3Z"/><path d="M-78 3.6 -73.3 2.2 -68.5 -0.2 -63.8 -1.6 -61.9 -2 -61.9 0.8 -65.7 1.7 -69.5 4.1 -73.3 5.5 -77.1 5.5Z"/><path d="M-77.1 -6.8 -74.2 -7.3 -74 -5.5 -76.9 -5.4Z"/></clipPath>
<clipPath id="m1r11b"><rect x="-92.2" y="-55.5" width="30" height="70"/></clipPath>
<g clip-path="url(#m1r11b)">
<g clip-path="url(#m1r11)">
<path fill="#BEF064" d="M-76.1 -10.1 -71.4 -14.8 -67.6 -12.9 -63.8 -12 -61.9 -11.5 -61.9 -7.3 -65.7 -7.7 -69.5 -9.1 -72.3 -6.3 -75.6 -6.3Z"/>
<path fill="#BEF064" d="M-78 3.6 -73.3 2.2 -68.5 -0.2 -63.8 -1.6 -61.9 -2 -61.9 0.8 -65.7 1.7 -69.5 4.1 -73.3 5.5 -77.1 5.5Z"/>
<path fill="#0000C8" d="M-77.1 -6.8 -74.2 -7.3 -74 -5.5 -76.9 -5.4Z"/>
<path fill="#F5DEB3" d="M-73.7 -10.1 -70.9 -12.5 -67.6 -11.5 -61.9 -10.6 -61.9 -8.7 -66.6 -9.1 -70 -10.1 -72.3 -8.2Z"/>
<path fill="#F5DEB3" d="M-74.2 3.6 -68.5 1.3 -61.9 -1.1 -61.9 -0.2 -67.6 2.2 -73.3 4.6Z"/>
</g>
</g>
<clipPath id="m1r12"><path d="M-53 9.2 -55.4 13.2 -57 16.3 -58.5 19.5 -60.9 22.6 -63.3 25.8 -66.4 27.8 -68 30.5 -68.4 34.5 -69.6 37.6 -70.4 41.6 -70.4 48.7 -66.4 49.5 -64.8 47.1 -63.3 45.1 -59.3 43.9 -56.2 43.1 -53 41.6 -50.7 39.2 -52.2 38.4 -51.4 36 -48.3 33.7 -45.1 30.5 -42.8 27.4 -41.6 23.4 -43.6 20.3 -42.8 17.1 -40.4 14.8 -39.2 11.6 -39.6 9.2Z"/></clipPath>
<clipPath id="m1r12b"><rect x="-70" y="9.5" width="32.8" height="42"/></clipPath>
<g clip-path="url(#m1r12b)">
<g clip-path="url(#m1r12)">
<path fill="#0000C8" d="M-53 9.2 -55.4 13.2 -57 16.3 -58.5 19.5 -60.9 22.6 -63.3 25.8 -66.4 27.8 -68 30.5 -68.4 34.5 -69.6 37.6 -70.4 41.6 -70.4 48.7 -66.4 49.5 -64.8 47.1 -63.3 45.1 -59.3 43.9 -56.2 43.1 -53 41.6 -50.7 39.2 -52.2 38.4 -51.4 36 -48.3 33.7 -45.1 30.5 -42.8 27.4 -41.6 23.4 -43.6 20.3 -42.8 17.1 -40.4 14.8 -39.2 11.6 -39.6 9.2Z"/>
<path fill="#4169E1" d="M-69.2 37.6 -66.4 39.6 -62.5 40 -57.8 39.2 -53.8 37.6 -50.3 35.4 -47.9 33.7 -38 28.2 -38 4.5 -69.2 4.5Z"/>
<path fill="#7896F0" d="M-68.6 35.7 -66.4 37.6 -62.5 38.3 -57.8 37.6 -53.4 36.2 -49.5 34.1 -46.7 32.1 -45.1 30.5 -38 26.6 -38 4.5 -68.6 4.5Z"/>
<path fill="#B0E0E6" d="M-68.2 33.3 -66.4 35.7 -62.5 36.4 -57.8 36 -53 34.9 -48.7 32.7 -45.8 30.9 -44.3 29.3 -38 25.8 -38 4.5 -68.2 4.5Z"/>
<path fill="#20B2AA" d="M-67.6 30.5 -66.4 33.3 -62.5 34.5 -57.8 34.5 -53 33.5 -48.3 31.3 -45.1 29.3 -43.2 27.8 -38 25 -38 4.5 -67.6 4.5Z"/>
<path fill="#BEF064" d="M-66 27.8 -65.2 30.5 -61.7 31.7 -57 32.1 -52.2 31.3 -47.5 29.3 -44.3 27.4 -42.4 25.8 -38 24.2 -38 4.5 -66 4.5Z"/>
<path fill="#96BE32" d="M-63.3 25.8 -64.1 28.2 -60.1 29.7 -55.4 30.1 -50.7 28.9 -46.7 27.4 -43.6 25.4 -42 23.8 -38 22.6 -38 4.5 -63.3 4.5Z"/>
<path fill="#F5DEB3" d="M-56.2 14.8 -57.8 20.3 -57.8 24.2 -54.6 25.4 -50.7 25 -47.5 23.4 -44.3 20.3 -43.6 17.5 -38 14 -38 4.5 -56.2 4.5Z"/>
<path fill="#DEB887" d="M-54.6 12.4 -55.8 17.1 -55 20.3 -51.4 20.7 -47.5 19.1 -43.6 16.3 -41.2 14.4 -38 11.6 -38 4.5 -54.6 4.5Z"/>
<path fill="#FFD700" d="M-53 12.4 -53 16.3 -51.4 19.1 -48.3 17.9 -44.3 15.5 -41.2 14 -39.2 11.2 -38 4.5 -53 4.5Z"/>
<path fill="#FFA500" d="M-48.3 14 -45.1 12 -39.2 11.2 -42 14 -45.9 15.1Z"/>
<path fill="#9370DB" d="M-70.4 46.3 -66.4 46.7 -63.3 45.1 -64.8 47.1 -66.4 49.5 -68.4 51.8 -70.4 48.7Z"/>
</g>
</g>
<clipPath id="m1r13"><path d="M-69.6 77.6 -61.4 69.4 -60.8 74.8 -65.9 80.7Z"/></clipPath>
<clipPath id="m1r13b"><rect x="-72.2" y="66.5" width="12" height="16"/></clipPath>
<g clip-path="url(#m1r13b)">
<g clip-path="url(#m1r13)">
<path fill="#9370DB" d="M-69.6 77.6 -61.4 69.4 -60.8 74.8 -65.9 80.7Z"/>
</g>
</g>
<circle r="7" fill="#fff"/>
<g fill="none" stroke="#000" stroke-width="1" stroke-linejoin="round">
<path d="M-115.3 -80.7 -112.1 -85.9 -109 -86.2 -110.5 -82.7 -107.4 -83 -101.9 -83.4 -96.3 -82.3 -94 -79.1 -89.2 -80.7 -86.9 -79.6 -83.7 -81.8 -79.8 -79.1 -76.6 -80.7 -70.3 -81.1 -66.4 -79.9 -62.4 -83 -57.7 -84.9 -53.3 -85.9 -54.2 -89.3 -51.7 -92.2 -50.1 -89.3 -48.6 -87 -47 -90.9 -46.3 -95.7 -48.2 -98.5 -46.7 -102 -44.3 -107.5 -41.3 -112.2M-100 -88.1 -95.6 -87.5 -91.6 -85.9 -94 -85.4 -97.9 -87ZM-51.7 -103.5 -49 -102.8 -48.2 -99.6 -50.1 -98 -52.2 -100.4ZM-41.4 -112.2 -37.1 -116.2 -32.4 -120.1 -32.7 -119 -38.7 -111.4 -41.5 -104.3 -40.3 -101.2 -37.1 -103.9 -32.4 -99.6 -29.2 -102 -25.3 -102.8 -22.9 -95.7 -23.7 -89.3 -27.6 -87 -28 -83 -24.5 -83.8 -19.8 -82.3 -17.4 -79.9 -21.3 -78.3 -24.5 -77.5 -22.1 -74.4 -18.2 -72.8 -17.4 -69.6 -19.8 -64.9 -22.1 -61 -27.6 -58.6 -35.5 -56.2 -43.4 -53.9 -49.7 -51.5 -51.3 -48.3M-29.2 -123.7 -26.4 -125.9 -24.5 -128M-7.6 -134.8 -6.5 -134.8 -6.5 -133.7 -7.6 -133.7ZM16.1 -130 17.2 -130 17.2 -128.9 16.1 -128.9ZM-26.1 -101.2 -22.9 -102 -22.1 -100.4 -25.3 -99.6ZM-16.6 -90.9 -12.7 -91.2 -12.7 -89.7 -16.3 -89.7ZM37 -42.8 33.9 -46.8 30.7 -51.5 27.6 -56.2 24.4 -61 19.7 -64.1 14.9 -67.3 13.4 -71.2 11.8 -68.1 7.1 -67.3 0.8 -69.6 -5.6 -75.2 -11.9 -80.7 -11.1 -83.8 -8.7 -86.2 -4 -85.4 -0.8 -82.3 0.8 -87 3.1 -89.3 2.3 -94.1 5.5 -95.7 11.8 -98.8 18.1 -102.8 22.8 -100.4 27.6 -102.8 33.9 -108.3 34.7 -113 39.4 -115.4 43.3 -119.3 48.7 -122.5M17.8 -101.1 22.8 -100.1 26.6 -101.3 30.4 -103.9 33.6 -107.6 34.2 -111.4 37.4 -113.3 38.6 -116.5 41.8 -117.1 43.7 -120.3 47.5 -120.9 50 -124 54.4 -125.9 54.4 -124.7 53.8 -120.3 52.5 -115.2 51.2 -110.8 48.1 -107.6 44.9 -104.9 40.5 -102.3 35.5 -99.4 30.4 -95.7 26.6 -92.5 25.6 -90.5 28.5 -91 31.7 -92.8 34.8 -91 38 -90 41.8 -91.9 44.9 -95 48.1 -96.9 51.9 -95 53.1 -91.9 55.7 -90 59.4 -88.1 64.5 -84.9 68.3 -84.3 73.3 -85.6 80.9 -86.2 87.5 -86.8 86.6 -91.2 86.9 -94.4 84.7 -93.8 80.9 -95.7 79.6 -98.8 76.9 -99.8 78.4 -102.6 80.3 -107.6 83.4 -112.9M86.6 -110.8 83.4 -106.4 80.3 -100.7 81.5 -99.4 85.3 -102.6 90 -107.6M-17.8 -81.5 -19.7 -79.2 -20.1 -76 -18.2 -72.9 -19.5 -67.8 -22 -63.4 -25.8 -59.6 -30.8 -57.1 -37.2 -55.2 -42.2 -53.3M-2.5 -64.3 0.1 -64.7 0.4 -63 -2.1 -62.8ZM22.8 -65.5 24.1 -60.5 29.8 -57.3 31.7 -51.6 34.8 -46.6 39.9 -46.6 41.8 -45.3 46.8 -42.8 49.3 -42.2 48.7 -38.4 44.9 -35.8 46.2 -32.1 49.3 -30.2 50 -25.1 51.2 -22 55 -16.9 49.3 -18.8 44.9 -16.9 43 -13.8 44.9 -9.3 47.5 -4.9 49.3 -1.1 53.1 3.3 55.7 7.1 56.9 10.2 60.7 8.9 62 11.5 60.7 14.5M28.5 -40.3 31.7 -41.5 34.2 -39 33.6 -35.8 30.4 -36.2ZM25.4 -44.7 27.3 -45.3 28.5 -42.2 26.6 -41.5ZM31 -6.2 34.2 -9.3 38 -8.7 38.6 -5.6 35.5 -1.8 31.7 -1.1ZM-106.1 65.6 -105.2 62.6 -104.5 58.8 -102.3 55.6 -99.2 53.1 -95.4 48.7 -93.5 44.3 -94.8 41.1 -96.7 43 -100.4 42.4 -101.1 39.2 -97.9 36.7 -94.1 36.1 -92.9 33.5 -89.7 32.3 -89.7 29.8 -91.6 26 -93.5 22.2 -96.7 20.3 -101.7 19.7 -106.8 21.6 -111.2 24.1 -116.2 24.7 -120.6 22.2 -125.7 23.5 -130.7 26 -134.5 23.5 -128.8 17.8 -124.4 17.1 -120.6 15.9 -119.4 10.8 -116.8 4.5 -115 -0.5 -114.3 -4.9 -108 -8.7 -101.7 -8.1 -96.7 -5.6 -92.9 -1.8 -90.4 1.4 -87.8 4.5 -85.3 3.3 -82.1 4.5 -79 2M-90.6 7.1 -87.8 4.5 -82.8 5.8 -80.3 5.2 -81.5 8.9 -84.7 10.8 -86.6 14 -88.5 12.7 -89.7 10.2ZM-116.6 20.7 -114.3 20.7 -114.3 22.4 -116.6 22.4ZM-95.1 10.6 -92.9 10.6 -92.9 12.4 -95.1 12.4ZM-95.8 15.6 -93.5 15.6 -93.5 17.4 -95.8 17.4ZM-86.7 26.2 -82.9 24.3 -77.9 25 -71.5 23.7 -67.8 25 -68.4 30 -70.3 35.1 -71.5 38.8 -73.4 37.6 -74.7 32.5 -76.6 31.9 -77.2 36.3 -79.1 40.1 -81 38.2 -81.6 33.8 -83.5 35.1 -84.8 39.5 -86.7 37.6 -87.3 32.5 -88 28.8ZM18.3 74.5 15.1 80.8 12.8 87.1 9.6 93.4 8 98.2 8.8 103.7 11.2 108.4 14.3 110 16.7 106.8 19.9 105.3 22.2 107.6 24.6 112.4 26.9 116.3 28.5 117.1 30.9 113.1 31.7 108.4 33.3 104.5 34 100.5 32.5 96.6 30.6 91.9 30.1 87.9 30.9 82.4 31.7 77.7 33.3 76.1 35.6 76.9 36.4 80.8 34.8 85.5 36.4 90.3 39.6 94.2 43.5 94.2 46.7 91.1 49.8 89.5 51.4 86.3 53.8 85.2 54.9 88.4 51.4 90.3 48.2 92.6 45.1 95.8 43.5 99.7 45.9 102.9 46.7 105.3 43.5 104.5 41.9 102.1 40.4 106 41.9 110 42.7 113.9 41.1 117.1 37.2 118.7 34 119.5 30.9 121.8 28.5 121.8 26.2 123.4 21.4 125 16.7 128.1 13.5 130.5 10.4 133.6 7.2 136.8 4.9 140 3.3 142M19.1 112.4 17.5 115.5 18.3 120.2 20.6 122.6 22.2 120.2 21.4 116.3 20.6 113.1ZM23 117.1 25.4 117.4 26.5 120.2 24.6 122.1 22.7 120.6ZM-13.3 110 -10.1 109.2 -7 110 -6.2 113.1 -7 115.5 -4.6 117.9 -3.8 121.8 -1.4 125.8 0.9 129.7 3.3 132.9 4.1 136 2.5 139.2 -1.4 140 -5.4 139.2 -10.1 140.4 -8.5 137.6 -10.9 136 -8.5 133.6 -9.3 130.5 -10.9 128.1 -9.3 125 -10.9 121.8 -12.5 118.7 -11.7 114.7 -13.6 112.4ZM-21.9 125 -18.8 122.6 -15.6 121 -12.5 122.6 -13.3 126.6 -12.5 129.7 -15.6 132.9 -20.4 134.1 -23.5 132.9 -22.7 128.9ZM-12.2 95.3 -11.1 95.3 -11.1 96.4 -12.2 96.4ZM35.3 106.8 36.6 106.8 36.6 108.4 35.3 108.4ZM-38.7 13.5 -33.9 12.7 -29.2 11.9 -24.5 12.7 -19.7 14.3 -15 15.8 -11.9 18.2 -9.5 21.4 -11.1 24.5 -8.7 26.1 -6.3 28.5 -7.1 31.6 -9.5 35.6 -11.1 39.5 -12.6 43.4 -14.2 46.6 -16.6 49.7 -18.2 52.9 -20.5 55.3 -22.1 57.6 -25.3 60 -26.1 63.2 -29.2 63.9 -33.9 64.7 -38.7 64.7 -43.4 66.3 -48.1 65.5 -52.9 64.7 -56 66.3 -60 68.7 -63.1 71 -66.3 73.4 -68.6 75.8 -70.2 76.6 -72.6 73.4 -73.7 68.7 -73.4 63.9 -71.8 59.2 -69.4 55.3 -66.3 51.3 -62.3 48.2 -58.4 45.8 -54.4 44.2 -55.2 41.1 -52.9 38.7 -50.5 39.5 -48.9 36.3 -45.8 33.2 -43.4 29.2 -41.8 25.3 -41 21.4 -41.8 18.2 -40.2 15ZM-33.9 76.6 -30.8 75 -26.1 77.4 -21.3 78.1 -19.7 81.3 -22.1 84.4 -27.6 86 -31.6 85.2 -34.7 82.1ZM6.9 30.9 11 29.6 15.4 31.5 16 35.3 13.5 39.7 12.2 44.2 9.1 41.6 6.9 36.6ZM-45.3 1.5 -40.8 -1.6 -33.3 -2.9 -27 -2.2 -21.9 0.9 -19.4 5.3 -20.7 10.4 -25.7 11.6 -30.8 9.1 -37.1 10.4 -43.4 9.1 -45.9 5.3ZM55.7 7.9 60.7 9.2 59.4 12.4 62 14.9 55.7 16.1 59.4 17.4 64.5 18.7 69.5 19.3 73.3 20.6 76.5 23.7 77.1 26.2 75.2 25.6 73.3 23.1 69.5 21.8 64.5 21.2 59.4 20.6 55.7 19.3 53.8 18.7 56.9 23.1 60.7 26.2 65.1 27.5 68.9 26.9 65.1 30 62.6 33.8 63.9 37.6 61.3 40.1 59.4 45.2 58.2 50.2 58.8 54.5M58.8 49.2 57.5 52.4 58.2 54.9 55.7 55.5 55 58 55.7 62.4 54.4 65 55.7 67.5 51.9 68.1 50 65.6 51.9 62.4 52.5 58.7 49.3 57.4 43 58 36.7 58.7 32.9 58 29.2 58.7 25.4 60.6 22.8 65 20.3 68.8 17.8 72.5M41.1 17 43 16.4 44.9 22.1 46.8 28.4 49.3 33.4 51.9 36.6 55.7 35.3 56.3 37.2 51.9 39.1 48.7 37.2 45.6 32.2 43 25.9ZM43 66.2 48.1 65 50.6 68.8 54.4 70M53.8 77 57.5 77.6 59.4 80.1 57.5 82 55 80.7ZM48.7 85.2 53.1 83.6 55.7 85.8 53.8 89.6 50 90.2ZM112.8 -39.8 116.6 -41.5 121.7 -41.5 126.7 -38.9 130.5 -34.8 132 -31 130.5 -31.6 128.6 -34.8 125.5 -37.3 121 -39.2 116.6 -39.4 112.8 -38.9ZM-42.3 -53.7 -49.3 -51.8 -50.7 -47.1 -53.1 -41.4 -55.9 -39.5 -57.8 -36.7 -61.6 -33.8 -64.4 -31.5 -67.3 -32 -69.2 -32 -69.7 -28.2 -72 -24.9 -73 -23M-73 -23 -76.3 -18.4 -74.4 -13.1 -70.3 -9.4 -66.3 -8.4 -61.7 -4.9 -66.3 -2.4 -70.3 -0.9 -72.3 0.6 -75.4 4 -72.3 5.6 -69 8.5 -74.3 11.6 -79.9 11.9 -82.8 8.7 -80.6 5.4 -79 2M-104.4 61.9 -105.7 66.3 -106.3 70.1 -109.5 73.9 -111.4 76.4 -113.9 77.1 -117.1 75.2 -119.6 73.3 -121.5 71.4M-121.5 71.4 -117.1 70.8 -113.3 73.3 -111.4 76.4M-138.9 -20.6 -133.4 -23 -127.1 -24.6 -126.3 -22.2 -131.8 -20.6 -138.1 -19.1ZM-137.4 -17.5 -131.8 -19.1 -125.5 -19.9 -125.5 -18 -131.8 -16.4 -136.6 -15.9ZM-114.2 -27 -110.5 -25.4 -107.9 -23.3 -109 -22.5 -112.1 -24.3ZM-101.6 -38.5 -99 -36.4 -99.5 -32.8 -101.6 -32.5 -101.9 -35.6ZM-90.5 -44.3 -87.7 -45.4 -85.8 -41.1 -87.7 -38 -86.9 -31.7 -88.9 -30.9 -89.6 -36.4 -90.8 -40.4ZM-73.2 -45.9 -71.1 -47.5 -69.5 -44.3 -67.2 -46.7 -68 -40.4 -70.3 -38.8 -72.7 -40.4ZM-54 -32.4 -50.8 -34.6 -47.1 -33.3 -45.2 -29.5 -46.4 -25.1 -49.6 -23.2 -53.4 -25.1 -54.9 -28.9ZM-49 -21.3 -44.5 -22.6 -42 -19.4 -43.3 -15 -47.7 -15ZM-41.4 -25.1 -37.6 -24.5 -37 -19.4 -40.1 -18.8ZM-50.8 -11 -45.2 -11.2 -44.5 -6.8 -49.6 -6.2ZM-62.2 -11.9 -56.5 -12.5 -55.9 -5.6 -62.2 -4.9ZM-43.3 -7.5 -37 -7.7 -36.3 -4.9 -42.6 -4.7ZM-45.2 1.4 -40.7 -1.8 -33.2 -3 -26.9 -2.4 -21.8 0.7 -19.3 5.2 -20.6 10.2 -25.6 11.5 -30.7 8.9 -37 10.2 -43.3 8.9 -45.8 5.2ZM-62.2 0.1 -54.6 0.7 -49.6 3.3 -50.2 8.9 -54.6 10.2 -62.2 10.2ZM-69.5 -31.5 -67 -32.2 -63.8 -30.3 -61.3 -28.4 -57.5 -27.7 -54.3 -25.8 -53.1 -22.7 -54.3 -18.9 -56.9 -16.4 -60.7 -14.5 -65.1 -15.1 -68.9 -17.6 -72 -18.9 -73.3 -23.3 -71.4 -27.1ZM22.2 22.4 24.1 18.7 26.6 14.9 28.5 13M23.5 23.1 26 19.3 28.5 16.1M-49.6 -20.8 -46.1 -21.7 -44 -18.9 -44.9 -14.5 -48 -13.6 -49.9 -17ZM-42.7 -24.6 -39.2 -25.5 -37.7 -22.1 -38.6 -17.9 -41.7 -17.6ZM-50.3 -8.6 -48 -9.6 -45.3 -9.1 -44.5 -7.3 -46.8 -6 -49.6 -6.3ZM-40.2 -8.1 -37.9 -9.1 -35.4 -8.3 -35.2 -6.8 -37.7 -6 -39.7 -6.3ZM-43.2 -14.1 -40.5 -15.4 -36.9 -14.6 -36.2 -12.9 -39.2 -11.6 -42.5 -12.1ZM-36.2 -16.9 -34.4 -17.6 -32.9 -16.1 -33.1 -13.4 -35.2 -12.9 -36.4 -14.9ZM-61.9 -11.1 -59.1 -12.6 -56.1 -11.8 -55.1 -8.8 -56.6 -6.5 -60.4 -6 -62.2 -8.3ZM-54.3 -5 -51.8 -2.5 -53.1 1.3 -50.6 3.8M-67 -10.1 -63.8 -8.2 -65.1 -5M-72 -13.9 -68.9 -12 -66.3 -13.2M-34.8 -5 -32.9 -1.2 -30.4 -1.9 -29.1 1.3"/>
</g>
</g>
<circle r="141.4" fill="none" stroke="#000" stroke-width="0.9"/>
</g>
<g transform="translate(435.4 245.5)">
<clipPath id="clip1"><circle r="141.4"/></clipPath>
<g clip-path="url(#clip1)">
<clipPath id="m2r1"><path d="M-63 -108.9 -57.4 -112.4 -53.8 -112.1 -57.4 -121.5 -46 -126.6 -42.2 -116.2 -33.4 -119.6 -24.5 -121.8 -11.9 -123 0.7 -123.4 13.1 -123 13.1 -133.5 18.4 -133.5 18.4 -103.9 13.3 -101.3 9.5 -102 5.7 -98.8 2 -95 0.7 -91.2 3.2 -87.5 0.7 -84.9 -1.8 -83 -4.4 -86.2 -6.9 -84.9 -9.4 -86.2 -11.9 -82.4 -13.4 -79.3 -9.4 -76.1 -3.1 -72.3 3.2 -69.2 10.8 -67.3 18.4 -65.2 18.4 -64.7 -19.5 -64.7 -18.2 -69.8 -19.5 -72.9 -23.3 -74.8 -24.5 -76.7 -20.8 -78.6 -18.9 -81.1 -20.8 -83.7 -24.5 -84.9 -28.3 -83.7 -29 -86.2 -26.4 -88.1 -24.5 -91.2 -25.2 -95 -24.5 -99.4 -27.1 -101.3 -30.9 -102 -32.7 -100.1 -35.9 -102 -38.4 -103.2 -41.6 -102 -40.9 -107.6 -38.4 -115.2 -41.6 -112.4 -44.7 -108.9 -48.5 -105.8 -51.7 -102.6 -52.9 -98.8 -54.8 -95 -56.1 -91.2 -54.8 -88.1 -56.7 -85.6 -59.9 -84.3 -63 -83.7Z"/></clipPath>
<clipPath id="m2r1b"><rect x="-62.4" y="-145.5" width="80" height="80"/></clipPath>
<g clip-path="url(#m2r1b)">
<g clip-path="url(#m2r1)">
<path fill="#9370DB" d="M-63 -108.9 -57.4 -112.4 -53.8 -112.1 -57.4 -121.5 -46 -126.6 -42.2 -116.2 -33.4 -119.6 -24.5 -121.8 -11.9 -123 0.7 -123.4 13.1 -123 13.1 -133.5 18.4 -133.5 18.4 -103.9 13.3 -101.3 9.5 -102 5.7 -98.8 2 -95 0.7 -91.2 3.2 -87.5 0.7 -84.9 -1.8 -83 -4.4 -86.2 -6.9 -84.9 -9.4 -86.2 -11.9 -82.4 -13.4 -79.3 -9.4 -76.1 -3.1 -72.3 3.2 -69.2 10.8 -67.3 18.4 -65.2 18.4 -64.7 -19.5 -64.7 -18.2 -69.8 -19.5 -72.9 -23.3 -74.8 -24.5 -76.7 -20.8 -78.6 -18.9 -81.1 -20.8 -83.7 -24.5 -84.9 -28.3 -83.7 -29 -86.2 -26.4 -88.1 -24.5 -91.2 -25.2 -95 -24.5 -99.4 -27.1 -101.3 -30.9 -102 -32.7 -100.1 -35.9 -102 -38.4 -103.2 -41.6 -102 -40.9 -107.6 -38.4 -115.2 -41.6 -112.4 -44.7 -108.9 -48.5 -105.8 -51.7 -102.6 -52.9 -98.8 -54.8 -95 -56.1 -91.2 -54.8 -88.1 -56.7 -85.6 -59.9 -84.3 -63 -83.7Z"/>
<path fill="#0000C8" d="M-63 -103.9 -58.6 -108.9 -52.3 -110.8 -46 -114 -39.7 -117.1 -33.4 -119 -24.5 -120.3 -15.7 -120.5 -9.4 -117.1 -4.4 -114.6 3.2 -114.6 10.8 -114.2 18.4 -113.3 18.4 -64.7 -63 -64.7Z"/>
<path fill="#4169E1" d="M-63 -92.5 -58.6 -95.7 -55.5 -102 -50.4 -105.1 -45.4 -108.3 -39.7 -112.4 -34 -115.8 -24.5 -118.4 -16.3 -118.4 -10 -115.2 -4.4 -112.7 3.2 -112.4 10.8 -112.1 18.4 -111.7 18.4 -64.7 -63 -64.7Z"/>
<path fill="#7896F0" d="M-63 -88.7 -58.6 -91.9 -54.6 -99.4 -49.8 -103.2 -44.7 -107 -39.1 -111.2 -33.4 -114.6 -24.5 -116.7 -17 -116.7 -10.7 -113.7 -4.4 -111.2 3.2 -110.8 10.8 -110.4 18.4 -110.2 18.4 -64.7 -63 -64.7Z"/>
<path fill="#B0E0E6" d="M-63 -85.9 -58 -88.5 -53.6 -96.9 -48.5 -102 -43.5 -106.1 -38.4 -110.2 -33.4 -113.3 -24.5 -115.2 -17.6 -115.2 -11.3 -112.4 -4.4 -109.7 3.2 -109.2 10.8 -108.9 18.4 -108.7 18.4 -64.7 -63 -64.7Z"/>
<path fill="#20B2AA" d="M-43.5 -103.9 -37.2 -108.9 -33.4 -112.4 -24.5 -113.7 -18.2 -113.7 -11.9 -111.2 -4.4 -108.1 3.2 -107.6 10.8 -107.4 18.4 -107 18.4 -64.7 -43.5 -64.7Z"/>
<path fill="#BEF064" d="M-39.1 -107 -33.4 -110.2 -24.5 -111.2 -18.2 -110.8 -11.9 -108.7 -5.6 -105.8 -0.6 -102 2 -97.6 0.7 -95 1.3 -91.2 3.2 -87.5 3.2 -64.7 -39.1 -64.7Z"/>
<path fill="#BEF064" d="M7.6 -102 10.2 -103.9 13.3 -103.2 13.9 -100.7 9.5 -100.1Z"/>
<path fill="#96BE32" d="M-37.2 -104.9 -32.1 -107.6 -24.5 -108.7 -18.2 -108 -11.9 -106.1 -6.9 -103.2 -2.5 -99.4 0.1 -95 0.7 -64.7 -37.2 -64.7Z"/>
<path fill="#F5DEB3" d="M-29.3 -102 -24.5 -105.4 -18.2 -105.4 -11.9 -103.6 -6.9 -100.7 -3.1 -96.9 -0.6 -92.5 -1.8 -86.2 -1.8 -64.7 -29.3 -64.7Z"/>
<path fill="#DEB887" d="M-25.2 -101.1 -20.8 -103.2 -14.5 -102.6 -9.4 -100.7 -5 -96.9 -2.5 -92.5 -3.1 -87.5 -3.1 -64.7 -25.2 -64.7Z"/>
<path fill="#FFD700" d="M-21.4 -99.8 -17 -101.3 -9.4 -100.3 -3.1 -95.7 -0.6 -93.8 -3.1 -91.2 -6.9 -90 -9.4 -86.2 -11.9 -82.4 -13.2 -78.6 -9.4 -74.8 -3.1 -71.1 3.2 -64.7 -20.8 -64.7 -18.9 -69.8 -17.6 -74.8 -18.9 -79.9 -20.8 -86.2 -22 -92.5Z"/>
<path fill="#FFA500" d="M-20.1 -95.7 -17 -96.9 -9.4 -95.7 -4.4 -93.8 -6.9 -91.2 -10 -88.1 -12.6 -83.7 -13.8 -78.6 -10.7 -74.8 -4.4 -69.8 -0.6 -64.7 -20.1 -64.7 -18.2 -69.8 -17.2 -74.8 -18.2 -81.1 -19.8 -88.7Z"/>
<path fill="#FF4500" d="M-18.9 -93.1 -14.5 -94.4 -9.4 -93.1 -11.3 -88.7 -13.2 -84.9 -14.5 -79.9 -11.9 -74.8 -6.9 -69.8 -4.4 -64.7 -19.5 -64.7 -17.6 -69.8 -16.7 -75.5 -17.6 -82.4 -18.9 -88.7Z"/>
<path fill="#B22222" d="M-18 -91.2 -15.1 -91.9 -12.6 -90.6 -13.8 -86.2 -14.7 -81.1 -13.2 -74.8 -9.4 -69.8 -6.9 -64.7 -18.9 -64.7 -17 -71.1 -16.3 -77.4 -17.2 -84.9Z"/>
<path fill="#FFB6C1" d="M-16.7 -86.2 -15.1 -86.8 -15 -81.1 -13.8 -74.8 -10.7 -69.8 -8.1 -64.7 -18.2 -64.7 -16.7 -71.1 -16 -77.4Z"/>
<path fill="#FF1493" d="M-16 -82.4 -15.2 -82.4 -14.2 -74.8 -11.9 -69.8 -8.8 -64.7 -18 -64.7 -16.3 -71.1 -15.7 -77.4Z"/>
</g>
</g>
<clipPath id="m2r2"><path d="M17 -141.7 59.2 -127.8 56.7 -127.5 54.8 -126.6 51.7 -125.3 49.8 -120.9 46.6 -121.5 44.7 -117.1 41.6 -118.4 39.7 -114 37.8 -115.8 35.3 -114 34 -108.9 31.5 -105.1 27.7 -103.9 25.2 -100.1 21.4 -102 17 -101.3Z"/></clipPath>
<clipPath id="m2r2b"><rect x="17.6" y="-145.5" width="80" height="80"/></clipPath>
<g clip-path="url(#m2r2b)">
<g clip-path="url(#m2r2)">
<path fill="#9370DB" d="M17 -141.7 59.2 -127.8 56.7 -127.5 54.8 -126.6 51.7 -125.3 49.8 -120.9 46.6 -121.5 44.7 -117.1 41.6 -118.4 39.7 -114 37.8 -115.8 35.3 -114 34 -108.9 31.5 -105.1 27.7 -103.9 25.2 -100.1 21.4 -102 17 -101.3Z"/>
<path fill="#0000C8" d="M17 -113.3 22.6 -116.5 27.7 -124 32.7 -130.4 37.2 -134.8 42.8 -134.8 68.1 -107.6 17 -95Z"/>
<path fill="#4169E1" d="M17 -109.5 23.9 -114.6 29.6 -122.8 35.3 -129.7 40.3 -133.9 45.4 -133.9 68.1 -107.6 17 -95Z"/>
<path fill="#7896F0" d="M17 -107.6 25.2 -113.7 30.8 -121.5 36.5 -128.5 42.2 -133.1 47.9 -133.1 68.1 -107.6 17 -95Z"/>
<path fill="#B0E0E6" d="M17 -106.1 25.8 -112.4 31.7 -120.3 37.8 -127.8 44.1 -132.3 50.4 -132.3 68.1 -107.6 17 -95Z"/>
<path fill="#20B2AA" d="M18.9 -104.5 27.1 -110.8 32.7 -118.4 39.1 -126.6 42.8 -128.5 49.1 -125.3 54.2 -126.6 58 -127.8 68.1 -107.6 17 -95Z"/>
<path fill="#BEF064" d="M23.3 -102 29.6 -108.9 34.6 -115.8 38.4 -118.4 36.5 -115.2 34.6 -109.5 31.5 -105.1 27.7 -103.2 25.2 -100.1Z"/>
<path fill="#96BE32" d="M27.1 -102 30.2 -106.4 33.4 -107.6 31.5 -104.5 28.3 -102.6Z"/>
<path fill="#FFFFFF" d="M17 -138.6 20.1 -138.6 20.1 -133.5 17 -133.5Z"/>
</g>
</g>
<clipPath id="m2r3"><path d="M56.7 -127.5 54.8 -122.8 52.9 -116.5 51 -111.4 47.9 -107.6 44.1 -105.1 40.3 -102.6 36.5 -99.8 35.3 -96.9 36.5 -93.8 34.6 -91.2 37.8 -90 41.6 -91.9 44.7 -95 47.9 -96.9 51.7 -95 52.9 -91.9 55.5 -90 59.2 -88.1 64.3 -84.9 68.1 -84.3 73.1 -85.6 80.7 -86.2 87.3 -86.8 86.4 -91.2 86.7 -94.4 84.5 -93.8 80.7 -95.7 79.4 -98.8 76.7 -99.8 80.1 -107.6 83.2 -112.9 74.4 -119.6 66.8 -124.3 59.2 -127.8Z"/><path d="M86.4 -109.9 89.8 -107.6 85.1 -102.6 81.3 -99.4 80.1 -100.7 83.2 -106.4Z"/></clipPath>
<clipPath id="m2r3b"><rect x="17.6" y="-145.5" width="80" height="80"/></clipPath>
<g clip-path="url(#m2r3b)">
<g clip-path="url(#m2r3)">
<path fill="#20B2AA" d="M56.7 -127.5 54.8 -122.8 52.9 -116.5 51 -111.4 47.9 -107.6 44.1 -105.1 40.3 -102.6 36.5 -99.8 35.3 -96.9 36.5 -93.8 34.6 -91.2 37.8 -90 41.6 -91.9 44.7 -95 47.9 -96.9 51.7 -95 52.9 -91.9 55.5 -90 59.2 -88.1 64.3 -84.9 68.1 -84.3 73.1 -85.6 80.7 -86.2 87.3 -86.8 86.4 -91.2 86.7 -94.4 84.5 -93.8 80.7 -95.7 79.4 -98.8 76.7 -99.8 80.1 -107.6 83.2 -112.9 74.4 -119.6 66.8 -124.3 59.2 -127.8Z"/>
<path fill="#96BE32" d="M86.4 -109.9 89.8 -107.6 85.1 -102.6 81.3 -99.4 80.1 -100.7 83.2 -106.4Z"/>
<path fill="#BEF064" d="M54.2 -120.3 59.2 -122.2 65.5 -122.8 70.6 -120.9 73.8 -119.6 83.2 -112.9 87.3 -86.8 34 -86.8 34 -97.6 42.8 -103.9 49.1 -108.9Z"/>
<path fill="#96BE32" d="M52.3 -114 55.5 -116.2 60.5 -117.5 65.5 -118.4 70 -118.4 73.1 -119.6 83.2 -112.9 87.3 -86.8 34 -86.8 34 -97.6 42.8 -103.2 49.8 -108.9Z"/>
<path fill="#F5DEB3" d="M51 -110.8 55.5 -111.7 61.8 -111.7 66.8 -113.3 70.6 -115.8 73.8 -118.4 83.2 -112.7 87.3 -86.8 34 -86.8 34.6 -96.9 42.8 -102.6 49.1 -107.6Z"/>
<path fill="#DEB887" d="M49.8 -107.6 55.5 -108.3 61.8 -108.3 66.8 -109.5 70.6 -112.7 73.8 -115.8 76.9 -115.8 80.7 -112.4 80.1 -107.6 76.9 -99.8 79.4 -98.6 80.7 -95.7 84.5 -93.5 86.4 -86.8 55.5 -86.8 51.7 -92.5 47.9 -96.3 42.8 -95 37.8 -91.2 35.3 -95 37.8 -99.4 44.1 -103.2Z"/>
<path fill="#FFD700" d="M48.5 -104.5 55.5 -106.4 61.8 -106.4 67.4 -107.6 71.2 -111.4 74.4 -114.6 76.9 -114.6 78.8 -111.4 77.9 -107.6 75.9 -101.3 76.9 -98.2 78.2 -95 76.9 -91.2 73.1 -88.1 68.1 -86.8 64.3 -87.5 59.2 -91.2 55.5 -93.1 52.9 -96.3 50.4 -98.8 46.6 -98.2 42.8 -96.9 39.7 -94.4 36.5 -95 38.4 -98.2 42.8 -101.3Z"/>
<path fill="#FFA500" d="M54.2 -98.6 60.5 -99.8 66.8 -101.3 70.6 -101.3 73.8 -99.4 74.4 -95 72.5 -90 70 -88.5 65.5 -89.3 60.5 -93.1 56.7 -95.7Z"/>
<path fill="#FF4500" d="M58.6 -96.9 64.3 -97.8 69.3 -98.6 71.9 -96.9 72.1 -92.5 70 -90 66.2 -91 61.8 -93.8Z"/>
<path fill="#B22222" d="M64.9 -94.4 70 -95.7 70.6 -91.2 68.7 -90.6Z"/>
<path fill="#FF4500" d="M38.8 -96.9 40.6 -96.5 40.1 -94.8 38.5 -95.3Z"/>
<path fill="#FFFFFF" d="M38.4 -93.8 42.8 -95.7 43.5 -93.1 40.3 -91Z"/>
</g>
</g>
<clipPath id="m2r4"><path d="M-20.1 -66.1 -23.3 -60.5 -28.3 -58.6 -34.6 -56.7 -42.2 -53.5 -49.8 -52.3 -50.4 -47.8 -52.9 -43.4 -54.8 -39 -58.6 -35.8 -62.4 -34 -63 15.3 18.4 15.3 18.4 -66.1Z"/></clipPath>
<clipPath id="m2r4b"><rect x="-62.4" y="-65.5" width="80" height="80"/></clipPath>
<g clip-path="url(#m2r4b)">
<g clip-path="url(#m2r4)">
<path fill="#F5DEB3" d="M-20.1 -66.1 -23.3 -60.5 -28.3 -58.6 -34.6 -56.7 -42.2 -53.5 -49.8 -52.3 -50.4 -47.8 -52.9 -43.4 -54.8 -39 -58.6 -35.8 -62.4 -34 -63 15.3 18.4 15.3 18.4 -66.1Z"/>
<path fill="#FFD700" d="M-18.9 -66.1 -22 -59.8 -27.7 -57.3 -34 -55.4 -41.6 -52.3 -48.5 -51 -49.2 -47.2 -51.7 -42.8 -53.3 -38.4 -50.4 -34.6 -46 -32.1 -40.9 -27.6 -37.2 -17.6 -37.2 -12.5 -33.4 -6.2 -20.8 0.1 -18.2 5.2 -20.8 15.3 18.4 15.3 18.4 -66.1Z"/>
<path fill="#FFA500" d="M-18.2 -66.1 -21 -59.2 -27.1 -56 -33.4 -54.1 -40.9 -51 -47.3 -49.3 -48.3 -46.6 -50.8 -42.2 -51.7 -38.4 -49.2 -35.2 -44.7 -32.4 -39.9 -28.3 -36.2 -23.9 -33.6 -17.8 -32.7 -12.5 -29.8 -8.7 -26.1 -4.9 -21.8 -1.1 -18.5 3.3 -16.3 8.9 -13.8 15.3 18.4 15.3 18.4 -66.1Z"/>
<path fill="#FF4500" d="M-17.7 -66.1 -20.5 -58.6 -26.6 -55.2 -32.9 -53.3 -40.3 -50.1 -46.2 -48.1 -47.5 -45.6 -49.8 -41.5 -50.4 -38.4 -48.3 -35.5 -44.1 -32.7 -39.4 -28.5 -35.9 -23.9 -33.4 -18.1 -32.4 -13.1 -29.3 -9.1 -25.6 -4.9 -21.4 -1.1 -18.2 3.3 -15.7 8.9 -12.6 15.3 18.4 15.3 18.4 -66.1Z"/>
<path fill="#B22222" d="M-17.5 -66.1 -20 -57.9 -26.1 -54.1 -32.4 -52.3 -39.7 -49.1 -45.4 -46.8 -47 -44.7 -49.2 -40.9 -49.2 -38 -47.5 -35.5 -43.5 -32.9 -38.7 -28.5 -35.5 -23.9 -33 -18.1 -32.1 -13.8 -28.8 -9.2 -25 -5.1 -21 -1.1 -17.9 3.3 -15.3 8.7 -11.7 15.3 18.4 15.3 18.4 -66.1Z"/>
<path fill="#FFB6C1" d="M-17.2 -66.1 -19.2 -60.2 -21 -55.2 -25.8 -52.6 -31.1 -50.1 -34.4 -47.6 -35.6 -50.1 -38.4 -47.6 -43.2 -46.3 -47.5 -43.4 -46 -38.4 -43.2 -33.7 -38.2 -27.6 -35.5 -23.9 -32.9 -19.3 -32.1 -14.8 -30.5 -12 -28.1 -9.9 -24.5 -5.2 -20.6 -0.9 -17.5 3.4 -15 8.2 -10.7 15.3 18.4 15.3 18.4 -66.1Z"/>
<path fill="#FF1493" d="M-17 -66.1 -18.9 -60.5 -20.8 -55.4 -25.8 -52.3 -30.9 -49.7 -34.6 -46.8 -35.9 -49.7 -38.4 -47.2 -43.5 -45.9 -47 -43 -45.4 -38.4 -42.8 -34 -37.8 -27.6 -35.3 -23.9 -32.7 -19.4 -32.1 -15 -30.2 -11.9 -27.7 -10 -29.3 -9.2 -26.4 -6.2 -24.5 -2.4 -20.8 0.1 -17.6 3.3 -15.1 7.7 -11.9 11.5 -8.1 15.3 18.4 15.3 18.4 -66.1Z"/>
<path fill="#FFB6C1" d="M-4.4 -66.1 0.1 -56.7 3.5 -62.3 6.5 -56 12.3 -66.1Z"/>
<path fill="#B22222" d="M-3.3 -66.1 0.1 -58.2 3 -66.1Z"/>
<path fill="#B22222" d="M4.5 -66.1 6.5 -57.7 10.8 -66.1Z"/>
<path fill="#B22222" d="M-38.4 -52.9 -32.1 -52.3 -34 -47.8 -36.5 -50.4Z"/>
<path fill="#B22222" d="M-51.7 -40.9 -46.6 -41.5 -46 -35.8 -49.8 -36.5Z"/>
<path fill="#BEF064" d="M-63 -34 -58.6 -35.8 -54.8 -38.7 -52.3 -36.5 -53.6 -32.7 -57.4 -29.5 -63 -28.9Z"/>
<path fill="#F5DEB3" d="M-61.1 -32.9 -56.1 -35.2 -54.8 -33.3 -58 -30.8Z"/>
<path fill="#FFD700" d="M-63 -14.4 -53.6 -13.8 -46 -14.8 -37.2 -14 -30.9 -11.5 -29.8 -8.5 -37.2 -9 -46 -9.3 -53.6 -8.7 -63 -8.1Z"/>
<path fill="#FFA500" d="M-49.8 -12.5 -33.4 -11.5 -32.7 -9.7 -49.8 -10.2Z"/>
<path fill="#FFD700" d="M-63 6.4 -54.8 7.1 -48.5 10.2 -47.3 15.3 -63 15.3Z"/>
<path fill="#FFD700" d="M-45.4 -28.9 -40.9 -27.6 -37.2 -23.9 -37.2 -15 -41.6 -15 -43.5 -22.6Z"/>
<path fill="#BEF064" d="M-49.2 -3 -46 -2.4 -46.2 10.2 -48.8 10.2Z"/>
<path fill="#FFD700" d="M-54.8 10.2 -48.5 8.3 -40.9 10.2 -38.4 15.3 -56.1 15.3Z"/>
<path fill="#FFB6C1" d="M-52.9 12.1 -47.3 10.2 -42.2 12.1 -40.9 15.3 -54.2 15.3Z"/>
<path fill="#FF1493" d="M-51.7 13.4 -47.3 11.7 -43.5 13.4 -42.8 15.3 -52.3 15.3Z"/>
<path fill="#FFFFFF" d="M-54.2 -32.4 -51 -34.6 -47.3 -33.3 -45.4 -29.5 -46.6 -25.1 -49.8 -23.2 -53.6 -25.1 -55.1 -28.9Z"/>
<path fill="#FFFFFF" d="M-63 -27.6 -58 -28.9 -55.5 -25.1 -54.8 -20.1 -56.1 -15.7 -59.9 -13.8 -63 -13.1Z"/>
<path fill="#FFFFFF" d="M-49.2 -21.3 -44.7 -22.6 -42.2 -19.4 -43.5 -15 -47.9 -15Z"/>
<path fill="#FFFFFF" d="M-41.6 -25.1 -37.8 -24.5 -37.2 -19.4 -40.3 -18.8Z"/>
<path fill="#FFFFFF" d="M-51 -11 -45.4 -11.2 -44.7 -6.8 -49.8 -6.2Z"/>
<path fill="#FFFFFF" d="M-63 -11.9 -56.7 -12.5 -56.1 -5.6 -63 -4.9Z"/>
<path fill="#FFFFFF" d="M-43.5 -7.5 -37.2 -7.7 -36.5 -4.9 -42.8 -4.7Z"/>
<path fill="#FFFFFF" d="M-45.4 1.4 -40.9 -1.8 -33.4 -3 -27.1 -2.4 -22 0.7 -19.5 5.2 -20.8 10.2 -25.8 11.5 -30.9 8.9 -37.2 10.2 -43.5 8.9 -46 5.2Z"/>
<path fill="#FFFFFF" d="M-63 0.1 -54.8 0.7 -49.8 3.3 -50.4 8.9 -54.8 10.2 -63 10.2Z"/>
<path fill="#FFFFFF" d="M6.6 0.1 5.7 3.6 3.2 6.2 -0.3 7.1 -3.9 6.2 -6.4 3.6 -7.3 0.1 -6.4 -3.4 -3.9 -5.9 -0.3 -6.8 3.2 -5.9 5.7 -3.4Z"/>
</g>
</g>
<clipPath id="m2r5"><path d="M22.6 -66.1 23.9 -60.5 29.6 -57.3 31.5 -51.6 34.6 -46.6 39.7 -46.6 41.6 -45.3 46.6 -42.8 49.1 -42.2 48.5 -38.4 44.7 -35.8 46 -32.1 49.1 -30.2 49.8 -25.1 51 -22 49.1 -18.8 44.7 -16.9 42.8 -13.8 44.7 -9.3 47.3 -4.9 49.1 -1.1 52.9 3.3 55.5 7.1 56.7 10.2 60.5 8.9 61.8 11.5 60.5 15.3 17 15.3 17 -66.1Z"/></clipPath>
<clipPath id="m2r5b"><rect x="17.6" y="-65.5" width="80" height="80"/></clipPath>
<g clip-path="url(#m2r5b)">
<g clip-path="url(#m2r5)">
<path fill="#F5DEB3" d="M22.6 -66.1 23.9 -60.5 29.6 -57.3 31.5 -51.6 34.6 -46.6 39.7 -46.6 41.6 -45.3 46.6 -42.8 49.1 -42.2 48.5 -38.4 44.7 -35.8 46 -32.1 49.1 -30.2 49.8 -25.1 51 -22 49.1 -18.8 44.7 -16.9 42.8 -13.8 44.7 -9.3 47.3 -4.9 49.1 -1.1 52.9 3.3 55.5 7.1 56.7 10.2 60.5 8.9 61.8 11.5 60.5 15.3 17 15.3 17 -66.1Z"/>
<path fill="#FFD700" d="M21.4 -66.1 22.6 -60.5 27.7 -56.7 29.6 -51 32.7 -45.3 36.5 -42.2 40.9 -42.2 45.4 -40.3 46 -38.4 42.8 -35.8 44.1 -32.1 47.3 -28.9 47.9 -25.1 47.9 -21.3 44.1 -18.2 40.9 -15 42.2 -10 44.7 -4.9 47.3 -0.5 50.4 3.9 53.6 8.3 55.5 11.5 55.5 15.3 17 15.3 17 -66.1Z"/>
<path fill="#FFA500" d="M19.5 -66.1 20.8 -59.8 25.2 -55.4 27.1 -50.4 30.2 -44.7 34 -40.3 39.1 -40.9 43.5 -39 41.6 -35.2 42.2 -31.4 44.7 -28.3 45.6 -24.5 45.4 -21.3 42.2 -18.8 39.1 -15.7 39.7 -10 42.2 -4.9 44.7 0.1 47.9 4.5 51 8.9 53.6 12.7 53.6 15.3 17 15.3 17 -66.1Z"/>
<path fill="#FF4500" d="M18.2 -66.1 19.1 -59.2 22.6 -54.1 24.5 -49.1 26.4 -42.8 25.2 -36.5 24.5 -31.4 26.4 -28.3 30.2 -30.8 34 -34 37.8 -36.7 42.2 -38 40.6 -34 39.3 -30.2 40.9 -27 42.8 -23.9 43.5 -21.3 40.9 -19.1 37.8 -16.3 36.5 -11.2 36.5 -6.2 39.1 -1.1 42.8 3.3 47.9 7.7 51.7 11.5 52.3 15.3 17 15.3 17 -66.1Z"/>
<path fill="#B22222" d="M17 -61.7 18.6 -57.9 21.4 -52.9 23.3 -47.8 24.5 -42.2 22.6 -37.1 22.4 -32.4 23.9 -28.7 27.7 -29.7 32.7 -33.4 37.8 -37.5 41.6 -37.5 40.1 -34 38.4 -30.2 40.1 -27 41.8 -23.9 42.3 -21.1 39.7 -18.6 37.2 -16.3 35.3 -12.5 33.4 -8.1 34 -2.4 37.8 2.6 42.8 6.4 49.1 10.2 52.9 13.4 51.7 15.3 17 15.3Z"/>
<path fill="#FFB6C1" d="M17 -62 18.9 -58.2 21.4 -51.9 23.4 -46.6 24.2 -41.5 21.8 -37.5 21.1 -32.7 22.9 -28.8 27.7 -29.9 32.7 -33.7 37.8 -37.6 41.3 -37.2 39.8 -34 38 -30.2 39.4 -27.6 41.3 -24.9 41.8 -20.7 39.3 -18.1 36.8 -16 34.3 -12.3 32.5 -8.5 31.2 -3.7 31.7 -1.1 36.5 1.4 42.8 4.5 49.1 8.3 47.3 10.2 40.3 7.7 32.7 7.7 30.2 15.3 17 15.3Z"/>
<path fill="#FF1493" d="M17 -61.7 18.9 -57.9 21.4 -51.6 23.3 -46.6 23.9 -41.5 21.4 -37.7 20.8 -32.7 22.6 -28.9 27.7 -30.2 32.7 -34 37.8 -37.7 40.9 -37.1 39.7 -34 37.8 -30.2 39.1 -27.6 40.9 -25.1 41.6 -20.7 39.1 -18.2 36.5 -16.3 34 -12.5 32.1 -8.7 30.2 -4.9 29 -1.8 36.5 0.1 42.8 3.3 44.7 5.2 42.8 6.4 36.5 3.3 27.7 0.7 17 0.1Z"/>
<path fill="#FFB6C1" d="M17 -0.9 25.2 -0.5 36.5 1.4 44.7 4.9 42.8 7.1 35.3 4.5 25.2 2.6 17 2Z"/>
<path fill="#B22222" d="M17 2 25.2 2.6 35.3 4.5 42.8 6.7 50.4 8.9 55.5 12.1 54.2 15.3 17 15.3Z"/>
<path fill="#FF4500" d="M18.9 15.3 19.5 8.9 23.9 5.8 31.5 5.8 39.1 7.7 45.4 10.2 48.5 15.3Z"/>
<path fill="#FFA500" d="M21.4 15.3 22 10.2 26.4 7.7 32.7 7.9 39.1 10 43.5 12.7 44.7 15.3Z"/>
<path fill="#FFD700" d="M23.3 15.3 24.5 11.5 28.3 9.6 34 9.8 39.1 11.7 41.6 15.3Z"/>
<path fill="#F5DEB3" d="M25.8 15.3 27.1 12.7 30.2 11.2 34.6 11.5 37.8 13.4 38.4 15.3Z"/>
<path fill="#BEF064" d="M29.6 15.3 30.8 13.4 33.4 12.7 35.9 14 36.3 15.3Z"/>
<path fill="#FFFFFF" d="M28.3 -40.3 31.5 -41.5 34 -39 33.4 -35.8 30.2 -36.2Z"/>
<path fill="#FFFFFF" d="M30.8 -6.2 34 -9.3 37.8 -8.7 38.4 -5.6 35.3 -1.8 31.5 -1.1Z"/>
</g>
</g>
<clipPath id="m2r6"><path d="M-134.6 24.4 -129.6 19.3 -124.5 18.1 -120.7 16.8 -119.5 11.8 -117.6 6.1 -115.7 1 -115.1 -3.4 -109.4 -6.5 -103.1 -6.5 -98 -4.6 -93.6 -0.8 -90.5 1.7 -87.9 4.2 -91.7 6.1 -92 9.2 -89.8 11.8 -86.7 13.7 -86.7 17.4 -85.4 22.5 -85.4 27.5 -86.7 32.6 -89.2 36.4 -93 36.4 -91.7 32.6 -91.1 27.5 -93.6 23.1 -96.8 21.9 -101.8 23.8 -106.9 25 -111.9 27.5 -117 26.9 -121.4 23.1 -125.8 25 -131.5 26.9Z"/><path d="M-85.4 12.4 -81.6 7.4 -76.6 6.1 -71.5 7.4 -67.8 11.1 -66.5 14.9 -69 18.7 -67.8 22.5 -71.5 21.2 -75.3 23.8 -79.1 22.5 -81.6 23.8 -82.9 20 -86 17.4Z"/><path d="M-88.6 7.4 -82.9 5.5 -80.4 7.4 -82.9 9.9 -84.8 13 -86 17.4 -86.7 13.7 -89.8 11.8Z"/></clipPath>
<clipPath id="m2r6b"><rect x="-142.4" y="-65.5" width="80" height="101"/></clipPath>
<g clip-path="url(#m2r6b)">
<g clip-path="url(#m2r6)">
<path fill="#DEB887" d="M-134.6 24.4 -129.6 19.3 -124.5 18.1 -120.7 16.8 -119.5 11.8 -117.6 6.1 -115.7 1 -115.1 -3.4 -109.4 -6.5 -103.1 -6.5 -98 -4.6 -93.6 -0.8 -90.5 1.7 -87.9 4.2 -91.7 6.1 -92 9.2 -89.8 11.8 -86.7 13.7 -86.7 17.4 -85.4 22.5 -85.4 27.5 -86.7 32.6 -89.2 36.4 -93 36.4 -91.7 32.6 -91.1 27.5 -93.6 23.1 -96.8 21.9 -101.8 23.8 -106.9 25 -111.9 27.5 -117 26.9 -121.4 23.1 -125.8 25 -131.5 26.9Z"/>
<path fill="#FFD700" d="M-85.4 12.4 -81.6 7.4 -76.6 6.1 -71.5 7.4 -67.8 11.1 -66.5 14.9 -69 18.7 -67.8 22.5 -71.5 21.2 -75.3 23.8 -79.1 22.5 -81.6 23.8 -82.9 20 -86 17.4Z"/>
<path fill="#DEB887" d="M-88.6 7.4 -82.9 5.5 -80.4 7.4 -82.9 9.9 -84.8 13 -86 17.4 -86.7 13.7 -89.8 11.8Z"/>
<path fill="#FFD700" d="M-113.8 3.6 -110.7 -3.4 -105.6 -5.3 -99.3 -4.6 -93.6 -0.2 -90.5 2.6 -91.7 6.1 -92 9.2 -89.8 11.8 -86.7 13.7 -89.2 17.4 -93 19.3 -98 20 -104.3 21.9 -110.7 23.1 -113.8 20 -115.1 12.4Z"/>
<path fill="#FFA500" d="M-105.6 -4.6 -100.6 -4 -95.5 -0.8 -92.4 3.6 -94.3 7.4 -98 11.1 -101.8 13 -105 11.1 -105.6 4.8Z"/>
<path fill="#FF4500" d="M-104.7 -3.4 -100.6 -2.1 -96.1 1 -93.6 4.2 -98 6.7 -101.8 7.4 -104.3 4.8Z"/>
<path fill="#BEF064" d="M-118.9 11.1 -117 6.1 -115.4 1.7 -113.8 -0.8 -112.9 3.6 -115.4 9.9 -117.6 14.3Z"/>
<path fill="#F5DEB3" d="M-123.3 19.3 -119.5 17.2 -117 22.5 -119.5 25.3 -122 23.8Z"/>
<path fill="#96BE32" d="M-134.6 24.4 -129.6 19.3 -124.5 18.1 -123.3 22.5 -125.8 25 -131.5 26.9Z"/>
<path fill="#20B2AA" d="M-134.6 24.4 -131.5 21.9 -129 25 -131.5 26.9Z"/>
<path fill="#7896F0" d="M-134.6 24.4 -132.7 23.1 -131.5 25.7 -132.7 26.5Z"/>
<path fill="#96BE32" d="M-92.4 32.6 -86.7 31.3 -86 37 -93.6 37Z"/>
<path fill="#DEB887" d="M-85.4 12.4 -81.6 7.4 -76.6 6.1 -71.5 7.4 -67.8 11.1 -71.5 11.8 -79.1 11.8Z"/>
<path fill="#FFA500" d="M-86.7 13.7 -81.6 11.8 -74.1 12.4 -68.4 14.3 -70.3 18.1 -76.6 18.7 -82.9 18.1Z"/>
<path fill="#FF4500" d="M-82.9 14.3 -74.1 13.7 -69.6 15.2 -74.1 17.2 -81.6 16.8Z"/>
<path fill="#FFB6C1" d="M-79.1 14.9 -72.8 14.7 -71.5 15.7 -76.6 16.2Z"/>
<path fill="#F5DEB3" d="M-82.9 20 -75.3 19.3 -69 19 -67.8 22.5 -71.5 21.2 -75.3 23.8 -79.1 22.5 -81.6 23.8Z"/>
<path fill="#FFFFFF" d="M-76 17.2 -72.2 16.9 -72 20 -75.6 20.2Z"/>
</g>
</g>
<clipPath id="m2r7"><path d="M-92.4 34.7 -95.3 39.1 -94.3 43.5 -93 47.6 -95.5 50.5 -99.3 53.6 -103.1 57.4 -104.3 61.8 -105 66.2 -106.9 70 -108.8 73.8 -111.9 76.3 -115.1 80.1 -113.2 85.2 -109.4 90.2 -105.6 95.3 -61.4 95.3 -61.4 71.3 -66.5 73.8 -71.5 76.3 -73.4 72.5 -74.7 67.5 -73.4 62.4 -70.3 56.1 -66.5 51.1 -61.4 46 -61.4 25.9 -67.8 25.9 -68.4 33.4 -70.3 38.5 -72.2 37.2 -74.1 33.4 -77.2 32.8 -78.5 37.2 -81 40.4 -82.9 39.1 -83.9 34.7 -86 35.3 -87.3 39.1 -89.2 37.8 -88.8 34.7Z"/><path d="M-120.7 72.5 -117 71.9 -111.9 76.3 -115.1 80.1 -117.6 77.6Z"/></clipPath>
<clipPath id="m2r7b"><rect x="-142.4" y="24.5" width="80" height="70"/></clipPath>
<g clip-path="url(#m2r7b)">
<g clip-path="url(#m2r7)">
<path fill="#9370DB" d="M-92.4 34.7 -95.3 39.1 -94.3 43.5 -93 47.6 -95.5 50.5 -99.3 53.6 -103.1 57.4 -104.3 61.8 -105 66.2 -106.9 70 -108.8 73.8 -111.9 76.3 -115.1 80.1 -113.2 85.2 -109.4 90.2 -105.6 95.3 -61.4 95.3 -61.4 71.3 -66.5 73.8 -71.5 76.3 -73.4 72.5 -74.7 67.5 -73.4 62.4 -70.3 56.1 -66.5 51.1 -61.4 46 -61.4 25.9 -67.8 25.9 -68.4 33.4 -70.3 38.5 -72.2 37.2 -74.1 33.4 -77.2 32.8 -78.5 37.2 -81 40.4 -82.9 39.1 -83.9 34.7 -86 35.3 -87.3 39.1 -89.2 37.8 -88.8 34.7Z"/>
<path fill="#7896F0" d="M-120.7 72.5 -117 71.9 -111.9 76.3 -115.1 80.1 -117.6 77.6Z"/>
<path fill="#0000C8" d="M-100.6 95.3 -94.3 90.2 -87.9 86.4 -79.1 89.6 -71.5 88.3 -61.4 83.9 -61.4 14.5 -117 14.5 -117 95.3Z"/>
<path fill="#4169E1" d="M-103.1 95.3 -98 88.9 -93 83.9 -87.9 80.1 -82.9 82.6 -76.6 84.5 -71.5 83.3 -66.5 81.4 -61.4 80.1 -61.4 14.5 -117 14.5 -117 95.3Z"/>
<path fill="#7896F0" d="M-104.3 93.4 -99.3 87.1 -94.3 81.4 -87.9 77 -81.6 80.1 -75.3 82 -70.3 80.1 -61.4 78.2 -61.4 14.5 -117 14.5 -117 93.4Z"/>
<path fill="#B0E0E6" d="M-106.2 95.3 -101.8 88.3 -96.8 81.4 -91.7 76.3 -87.9 73.8 -81.6 77.3 -76 79.5 -71.5 78.2 -61.4 76.3 -61.4 14.5 -117 14.5 -117 95.3Z"/>
<path fill="#20B2AA" d="M-108.8 95.3 -104.3 88.9 -99.3 81.4 -94.3 75.1 -87.9 70 -81.6 73.8 -76.6 77 -73.4 76.3 -71.5 76.6 -61.4 75.1 -61.4 14.5 -117 14.5 -117 95.3Z"/>
<path fill="#BEF064" d="M-110.7 90.2 -105.6 85.2 -100.6 77.6 -94.9 71.9 -87.9 67.5 -81.6 71.3 -76 73.8 -73.4 72.5 -61.4 72.5 -61.4 14.5 -117 14.5 -117 90.2Z"/>
<path fill="#96BE32" d="M-111.9 77.6 -108.1 80.1 -104.3 77.6 -100.6 73.8 -95.5 68.8 -87.9 65 -81.6 68.1 -75.3 70 -74.3 67.5 -61.4 67.5 -61.4 14.5 -117 14.5 -117 77.6Z"/>
<path fill="#F5DEB3" d="M-108.8 73.8 -105.6 76.3 -101.8 71.3 -96.8 66.2 -91.7 63.1 -86.7 63.1 -80.4 65.6 -74.7 64.3 -73.4 62.4 -61.4 62.4 -61.4 14.5 -117 14.5 -117 73.8Z"/>
<path fill="#DEB887" d="M-104.3 61.8 -103.1 67.5 -99.9 65 -96.8 63.1 -91.7 61.2 -85.4 60.6 -79.1 62.4 -73.4 60.6 -71.5 58 -61.4 58 -61.4 14.5 -117 14.5 -117 61.8Z"/>
<path fill="#FFD700" d="M-99.3 53.6 -98.7 59.9 -95.5 60.6 -89.2 57.4 -82.9 57.4 -76.6 58.7 -71.5 54.9 -68.4 53 -61.4 52.4 -61.4 14.5 -117 14.5 -117 53.6Z"/>
<path fill="#FFA500" d="M-93 47.6 -91.7 51.1 -86.7 50.5 -81.6 52.4 -76.6 54.9 -72.2 52.4 -66.5 50.5 -61.4 49.8 -61.4 36 -66.5 39.7 -79.1 41.6 -91.7 41.6 -93.6 44.8Z"/>
<path fill="#FF4500" d="M-87.9 46 -82.9 44.2 -76.6 46.7 -72.8 49.2 -67.8 47.3 -61.4 44.2 -61.4 37.2 -66.5 40.4 -76.6 42.9 -85.4 42.9Z"/>
<path fill="#B22222" d="M-61.4 18.3 -69 28.4 -74.1 37.2 -74.1 45.4 -66.5 46 -61.4 43.5Z"/>
<path fill="#FFB6C1" d="M-61.4 20.2 -67.8 29 -72.2 37.2 -71.5 44.2 -65.9 43.5 -61.4 39.1Z"/>
<path fill="#FF1493" d="M-61.4 22.1 -66.5 29.6 -70.3 37.2 -69.6 42.9 -66.5 41.6 -61.4 36Z"/>
<path fill="#DEB887" d="M-92.4 34.7 -88.8 34.7 -89.2 37.8 -91.7 39.7 -95.3 39.1Z"/>
<path fill="#FF4500" d="M-96.1 39.1 -94.3 38.7 -94 40.7 -95.8 41Z"/>
</g>
</g>
<clipPath id="m2r8"><path d="M-62.8 13.9 -41.4 13.9 -42 19.5 -43.3 24.6 -45.8 29.6 -49.6 34.7 -50.8 38.5 -53.4 39.7 -55.3 43.5 -57.2 45.4 -59.7 44.8 -62.8 46Z"/></clipPath>
<clipPath id="m2r8b"><rect x="-62.4" y="14.5" width="80" height="80"/></clipPath>
<g clip-path="url(#m2r8b)">
<g clip-path="url(#m2r8)">
<path fill="#F5DEB3" d="M-62.8 13.9 -41.4 13.9 -42 19.5 -43.3 24.6 -45.8 29.6 -49.6 34.7 -50.8 38.5 -53.4 39.7 -55.3 43.5 -57.2 45.4 -59.7 44.8 -62.8 46Z"/>
<path fill="#FFD700" d="M-59.7 13.9 -43.5 13.9 -42.5 18.9 -43.7 25.6 -47.3 31.9 -51.6 36.6 -54.9 40.7 -58.4 42.9 -62.8 44.5 -62.8 23.3 -60.9 19.5Z"/>
<path fill="#FFA500" d="M-58.7 13.9 -44.5 13.9 -43 18.5 -44.3 25.1 -48.1 31.3 -52.4 35.7 -55.9 39.7 -62.8 43.5 -62.8 25.9 -59.9 20.2Z"/>
<path fill="#FF4500" d="M-57.7 13.9 -45.3 13.9 -43.7 18.3 -44.9 24.6 -48.6 30.7 -52.9 34.9 -56.6 39 -62.8 42.5 -62.8 27.7 -61.6 25.9 -58.9 20.6Z"/>
<path fill="#B22222" d="M-56.9 13.9 -46 13.9 -44.3 18.3 -45.5 24.3 -49.1 30.1 -53.4 34.3 -57.2 38.2 -62.8 41.6 -62.8 29.6 -60.9 26.5 -58.2 20.8Z"/>
<path fill="#FFB6C1" d="M-55.9 13.9 -47.1 13.9 -45.2 18.3 -46.4 24 -49.8 29.4 -54 33.4 -57.8 37.2 -62.8 40.4 -62.8 31.5 -60.3 27.1 -57.4 21.4Z"/>
<path fill="#FF1493" d="M-54.6 13.9 -48.3 13.9 -46.4 18.3 -47.7 23.3 -50.8 28.4 -54.6 32.2 -58.4 36 -62.2 38.5 -62.8 33.4 -59.7 28.4 -56.5 22.1Z"/>
</g>
</g>
<clipPath id="m2r9"><path d="M-21.8 13.9 -16.8 16.4 -13 19.5 -9.2 23.3 -12.4 25.2 -11.7 27.7 -7.9 28.4 -9.2 32.2 -11.7 36 -13.6 39.7 -15.5 43.5 -16.1 47.9 -19.3 50.5 -21.8 53.6 -25.6 55.5 -28.8 58.7 -28.1 63.1 -31.9 64.3 -37 65 -40.7 65.6 -44.5 66.9 -49.6 66.9 -54.6 65 -57.2 67.5 -60.9 70 -62.8 71.5 -62.8 95.3 -37.6 95.3 -35.4 87.1 -32.9 85.2 -31.3 86.4 -26.9 87.4 -21.8 85.2 -19.9 81.4 -24.3 88.9 -26.6 90.5 -9.8 95.3 -7.9 78.2 -2.6 74.4 -2.6 65 3.7 64.3 3.7 54.6 15 53.9 15 68.1 18.6 68.1 18.6 13.9Z"/></clipPath>
<clipPath id="m2r9b"><rect x="-62.4" y="14.5" width="80" height="80"/></clipPath>
<g clip-path="url(#m2r9b)">
<g clip-path="url(#m2r9)">
<path fill="#9370DB" d="M-21.8 13.9 -16.8 16.4 -13 19.5 -9.2 23.3 -12.4 25.2 -11.7 27.7 -7.9 28.4 -9.2 32.2 -11.7 36 -13.6 39.7 -15.5 43.5 -16.1 47.9 -19.3 50.5 -21.8 53.6 -25.6 55.5 -28.8 58.7 -28.1 63.1 -31.9 64.3 -37 65 -40.7 65.6 -44.5 66.9 -49.6 66.9 -54.6 65 -57.2 67.5 -60.9 70 -62.8 71.5 -62.8 95.3 -37.6 95.3 -35.4 87.1 -32.9 85.2 -31.3 86.4 -26.9 87.4 -21.8 85.2 -19.9 81.4 -24.3 88.9 -26.6 90.5 -9.8 95.3 -7.9 78.2 -2.6 74.4 -2.6 65 3.7 64.3 3.7 54.6 15 53.9 15 68.1 18.6 68.1 18.6 13.9Z"/>
<path fill="#0000C8" d="M-62.8 83.3 -55.9 82 -49.6 80.7 -43.3 81.4 -37 83.6 -35.1 80.1 -33.8 77 -30.7 75.7 -24.3 77 -18.7 75.1 -11.7 68.8 -5.4 63.1 -0.4 56.8 4 51.1 8.5 46 13.5 43.8 18.6 44.8 18.6 13.9 -62.8 13.9Z"/>
<path fill="#4169E1" d="M-62.8 80.7 -55.9 79.5 -49.6 78.2 -43.3 78.9 -37 80.1 -31.9 75.1 -24.3 75.1 -19.3 72.5 -12.4 66.9 -6 61.2 -1 54.9 3.2 49.6 7.8 44.8 12.2 42.9 18.6 44.2 18.6 13.9 -62.8 13.9Z"/>
<path fill="#7896F0" d="M-62.8 79.5 -55.9 78.2 -49.6 77 -43.3 77.6 -37 78.6 -31.9 73.8 -24.3 74.1 -19.6 71.5 -13 66 -6.7 60.2 -1.6 53.9 2.4 48.6 7.2 43.8 12.2 41.6 18.6 43.3 18.6 13.9 -62.8 13.9Z"/>
<path fill="#B0E0E6" d="M-62.8 78.6 -55.9 77.3 -49.6 76.1 -43.3 76.6 -37 77.3 -31.9 72.8 -24.3 73.2 -19.9 70.7 -13.5 65.2 -7.2 59.4 -2.1 53.1 1.9 47.8 6.7 43 11.6 40.7 18.6 42.3 18.6 13.9 -62.8 13.9Z"/>
<path fill="#20B2AA" d="M-62.8 77.6 -55.9 76.3 -49.6 75.3 -43.3 75.7 -37 76.3 -31.9 71.9 -24.3 72.2 -20.3 69.8 -14 64.5 -7.7 58.7 -2.6 52.4 1.4 47.1 6.2 42.3 11 39.7 18.6 41.3 18.6 13.9 -62.8 13.9Z"/>
<path fill="#BEF064" d="M-62.8 76.1 -55.9 74.8 -49.6 74.1 -43.3 74.1 -37 74.8 -31.9 70.7 -24.3 70.9 -20.8 68.8 -14.8 63.5 -8.4 57.7 -3.4 51.3 0.6 46 5.4 41.3 9.7 39.1 18.6 39.1 18.6 13.9 -62.8 13.9Z"/>
<path fill="#96BE32" d="M-62.8 74.1 -55.9 72.8 -49.6 72.5 -43.3 71.9 -37 71.9 -31.9 69 -25.6 68.8 -21.8 67.5 -15.5 62.4 -9.2 56.8 -4.2 50.5 -0.1 45 4.7 40.4 8.5 38.5 18.6 38.5 18.6 13.9 -62.8 13.9Z"/>
<path fill="#F5DEB3" d="M-62.8 71.9 -57.2 69.8 -53.4 68.1 -47.1 69 -45.2 66.2 -49.6 65 -62.8 65Z"/>
<path fill="#F5DEB3" d="M-32.5 64.7 -29.4 67.5 -24.3 66.9 -22.1 65.6 -16.5 61.2 -10.2 55.5 -5.2 49.2 -1.1 43.8 3.4 39.1 7.2 37 8.5 33.4 18.6 33.4 18.6 13.9 -32.5 13.9Z"/>
<path fill="#DEB887" d="M-26.9 64.3 -23.1 63.7 -17.4 59.9 -11.1 54.2 -6 47.9 -1.9 42.5 2.4 37.8 5.9 35.3 7.2 32.2 18.6 32.2 18.6 13.9 -26.9 13.9Z"/>
<path fill="#FFD700" d="M-26.2 63.1 -23.7 62.4 -18 58.7 -11.7 53 -6.7 46.7 -2.6 41.3 1.5 37 4.7 34.1 6.6 30.9 18.6 30.9 18.6 13.9 -26.2 13.9Z"/>
<path fill="#FFA500" d="M-25.6 61.8 -18.7 57.4 -12.4 51.7 -7.3 45.4 -3.3 40.2 0.9 36 4 32.8 5.9 29.6 18.6 29.6 18.6 13.9 -25.6 13.9Z"/>
<path fill="#FF4500" d="M-25 60.6 -19.3 56.1 -13 50.5 -7.9 44.3 -3.9 39.2 0.3 34.9 3.4 31.5 5.9 27.7 11 25.2 18.6 24 18.6 13.9 -25 13.9Z"/>
<path fill="#B22222" d="M-24.3 59.3 -19.9 54.9 -13.6 49.2 -8.6 43.3 -4.5 38.2 -0.4 33.9 2.8 30.3 5.9 25.9 11 23.3 18.6 22.1 18.6 13.9 -24.3 13.9Z"/>
<path fill="#FFB6C1" d="M-23.7 58 -20.6 53.9 -14.3 48.1 -9.2 42.3 -5.2 37.2 -1 32.9 2.2 29 5.9 24.3 11 21.8 18.6 20.2 18.6 13.9 -23.7 13.9Z"/>
<path fill="#FF1493" d="M-23.1 56.8 -21.2 53 -15.3 48.3 -12.4 46.7 -9.8 44.2 -6.7 41.3 -3.9 37.5 -0.4 33.4 3.4 28.4 8.5 23.3 13.5 20.8 18.6 18.3 18.6 13.9 -23.1 13.9Z"/>
<path fill="#FFFFFF" d="M-33.8 77 -30.7 75.7 -26.9 78.2 -21.8 78.9 -19.9 81.4 -21.8 85.2 -26.9 87.4 -31.3 86.4 -32.5 82.6 -35.4 80.1Z"/>
<path fill="#FFFFFF" d="M6.9 30.9 11 29.6 15.4 31.5 16 35.3 13.5 39.7 12.2 44.2 9.1 41.6 6.9 36.6Z"/>
</g>
</g>
<clipPath id="m2r10"><path d="M17.2 13.9 52.5 13.9 53.8 19.5 56.9 23.3 60.7 26.5 65.1 28.4 68.3 27.1 64.7 30.3 62.6 34.7 63.9 37.2 61.3 39.7 60.7 43.5 58.2 45.4 58.8 49.2 57.5 52.4 58.2 54.9 55.7 55.5 55 58 55.7 62.4 54.4 65 55.7 67.5 51.9 68.1 50 65.6 51.9 62.4 52.5 58.7 49.3 57.4 44.9 57.4 36.7 58 32.9 57.4 29.8 58 25.4 60.6 22.8 65 20.3 68.8 17.2 70Z"/></clipPath>
<clipPath id="m2r10b"><rect x="17.6" y="14.5" width="80" height="80"/></clipPath>
<g clip-path="url(#m2r10b)">
<g clip-path="url(#m2r10)">
<path fill="#0000C8" d="M17.2 13.9 52.5 13.9 53.8 19.5 56.9 23.3 60.7 26.5 65.1 28.4 68.3 27.1 64.7 30.3 62.6 34.7 63.9 37.2 61.3 39.7 60.7 43.5 58.2 45.4 58.8 49.2 57.5 52.4 58.2 54.9 55.7 55.5 55 58 55.7 62.4 54.4 65 55.7 67.5 51.9 68.1 50 65.6 51.9 62.4 52.5 58.7 49.3 57.4 44.9 57.4 36.7 58 32.9 57.4 29.8 58 25.4 60.6 22.8 65 20.3 68.8 17.2 70Z"/>
<path fill="#4169E1" d="M17.2 47.6 21.6 43.5 25.4 37.2 29.2 31.5 31.7 29.6 34.8 31.5 38 38.5 40.5 46 43 52.4 44.9 57.4 98.6 57.4 98.6 13.9 17.2 13.9Z"/>
<path fill="#7896F0" d="M17.2 46 21.3 42 25.1 36 28.9 30.3 31.7 28.6 35.5 30.7 38.6 37.8 41.4 45.4 43.9 51.7 46.2 57.4 98.6 57.4 98.6 13.9 17.2 13.9Z"/>
<path fill="#B0E0E6" d="M17.2 44.8 21 40.7 24.7 34.7 28.7 29.3 31.7 27.7 36.1 29.9 39.5 37.2 42.3 44.8 44.8 51.1 47.5 56.8 98.6 56.8 98.6 13.9 17.2 13.9Z"/>
<path fill="#20B2AA" d="M17.2 43.3 20.6 39.5 24.4 33.4 28.4 28.1 31.7 26.7 36.7 29 40.3 36.6 43 44.2 45.6 50.5 48.7 56.1 98.6 56.1 98.6 13.9 17.2 13.9Z"/>
<path fill="#BEF064" d="M17.2 41.6 20.3 37.8 24.1 32.2 28.1 27.1 31.7 25.6 37.4 28.1 41.1 36 43.9 43.5 46.6 49.8 50 55.5 52.5 58.7 51.9 62.4 50 65.6 51.9 68.1 98.6 68.1 98.6 13.9 17.2 13.9Z"/>
<path fill="#96BE32" d="M17.2 38.5 20.3 35.3 23.5 30.3 27.3 25.9 30.4 23.3 32.9 19.5 34.2 13.9 17.2 13.9Z"/>
<path fill="#F5DEB3" d="M17.2 35.3 20.3 32.8 22.8 29 26 25.2 29.2 22.1 31 18.3 31.7 13.9 17.2 13.9Z"/>
<path fill="#DEB887" d="M17.2 33.4 20.1 31.2 22.3 27.7 25.1 24.3 27.9 21.1 29.4 17.7 29.8 13.9 17.2 13.9Z"/>
<path fill="#FFD700" d="M17.2 31.5 19.7 29.6 21.8 26.5 24.1 23.3 26.4 20.2 27.6 17 27.9 13.9 17.2 13.9Z"/>
<path fill="#FFA500" d="M17.2 28.4 19.7 26.5 21.6 23.6 23.5 20.8 24.7 17.7 25.4 13.9 17.2 13.9Z"/>
<path fill="#FF4500" d="M17.2 24.6 19.7 22.7 21.6 20.2 22.8 17 23.1 13.9 17.2 13.9Z"/>
<path fill="#B22222" d="M17.2 21.4 19.7 19.5 21 17 21.3 13.9 17.2 13.9Z"/>
<path fill="#9370DB" d="M17.2 52.4 19.7 51.1 23.5 64.3 20.3 68.8 17.2 70Z"/>
<path fill="#9370DB" d="M27.3 49.2 28.5 43.5 30.4 38.5 32.9 39.7 34.8 46 36.7 58 30.4 57.4Z"/>
<path fill="#F5DEB3" d="M44.9 22.1 47.5 17.7 50.6 13.9 53.8 19.5 56.9 23.3 60.7 26.5 62 30.9 59.4 36 54.4 37.8 49.3 36.6 46.8 32.2 44.9 27.1Z"/>
<path fill="#FFD700" d="M46.2 22.1 48.7 17.7 51.9 15.1 54.4 20.2 57.5 24.6 60.7 27.7 60.1 32.2 55.7 34.7 50.6 33.4 47.5 29Z"/>
<path fill="#FFA500" d="M47.1 22.1 49.3 18.3 52.5 17.7 55.7 22.1 58.8 26.5 58.8 30.9 55 32.8 50.9 31.5 48.1 27.7Z"/>
<path fill="#FF4500" d="M47.8 22.1 50 19.5 53.1 20.2 56.3 24 58.4 27.7 57.5 30.9 54.4 31.5 51.2 30.3 48.7 27.1Z"/>
<path fill="#B22222" d="M48.7 22.1 50.9 20.8 53.8 22.1 56.9 25.9 57.9 29 55.7 30.7 52.5 29.6 50 27.1Z"/>
<path fill="#F5DEB3" d="M44.9 37.2 55.7 37.8 56.3 45.4 54.4 52.4 54.4 57.4 48.1 57.4 46.2 51.1 44.9 44.8Z"/>
<path fill="#DEB887" d="M45.8 38.5 50.6 38.5 54.4 39.7 55 44.8 53.1 49.8 52.5 56.1 48.7 56.1 47.5 51.1 46.2 44.8Z"/>
<path fill="#FFFFFF" d="M19.7 51.1 27.3 49.2 30.4 57.4 25.4 60.6 23.5 64.3Z"/>
<path fill="#FFFFFF" d="M41.1 17 43 16.4 44.9 22.1 46.8 28.4 49.3 33.4 51.9 36.6 55.7 35.3 56.3 37.2 51.9 39.1 48.7 37.2 45.6 32.2 43 25.9Z"/>
</g>
</g>
<clipPath id="m2r11"><path d="M32.4 78 35.9 78 37 87.2 39.3 94.2 44 96.5 47.4 94.2 46.3 101.2 41.7 104.6 42.8 112.7 39.3 115.1 35.9 108.1 33.5 103.5 30.1 98.8 28.9 91.9 31.2 84.9Z"/></clipPath>
<clipPath id="m2r11b"><rect x="17.6" y="74.5" width="47" height="45"/></clipPath>
<g clip-path="url(#m2r11b)">
<g clip-path="url(#m2r11)">
<path fill="#0000C8" d="M32.4 78 35.9 78 37 87.2 39.3 94.2 44 96.5 47.4 94.2 46.3 101.2 41.7 104.6 42.8 112.7 39.3 115.1 35.9 108.1 33.5 103.5 30.1 98.8 28.9 91.9 31.2 84.9Z"/>
<path fill="#4169E1" d="M31.9 78 36.3 78 36.6 86.1 31.5 86.1Z"/>
<path fill="#9370DB" d="M35.9 105.8 42.1 104.9 42.8 112.7 39.3 115.1 36.6 109.3Z"/>
</g>
</g>
<clipPath id="m2r12"><path d="M-76 -81.4 -77.1 -84.7 -68.3 -91.9 -63.9 -94.6 -68.9 -103.5 -60.6 -107.9 -56.2 -110.1 -53.9 -114.5 -57.3 -121.7 -51.7 -123.9 -51.7 -82.5 -56.2 -83.6 -62.8 -82.5 -67.2 -80.3 -70.5 -81.4Z"/><path d="M-87.6 -87.8 -83.8 -91.3 -77.1 -84.5 -81 -81.2Z"/></clipPath>
<clipPath id="m2r12b"><rect x="-122.4" y="-135.5" width="60" height="70"/></clipPath>
<g clip-path="url(#m2r12b)">
<g clip-path="url(#m2r12)">
<path fill="#9370DB" d="M-76 -81.4 -77.1 -84.7 -68.3 -91.9 -63.9 -94.6 -68.9 -103.5 -60.6 -107.9 -56.2 -110.1 -53.9 -114.5 -57.3 -121.7 -51.7 -123.9 -51.7 -82.5 -56.2 -83.6 -62.8 -82.5 -67.2 -80.3 -70.5 -81.4Z"/>
<path fill="#9370DB" d="M-87.6 -87.8 -83.8 -91.3 -77.1 -84.5 -81 -81.2Z"/>
<path fill="#0000C8" d="M-70.5 -80.8 -70 -86.9 -63.9 -91.3 -59.5 -96.9 -57.8 -103.5 -56.2 -107.9 -51.7 -109.6 -51.7 -82.5 -62.8 -82.5 -67.2 -80.3Z"/>
<path fill="#4169E1" d="M-65 -82.5 -62.8 -88 -58.4 -91.9 -56.2 -96.9 -53.9 -101.3 -51.7 -101.8 -51.7 -83.6Z"/>
<path fill="#7896F0" d="M-62.2 -83.6 -60.6 -87.5 -56.2 -91.3 -53.4 -94.6 -51.7 -95.2 -51.7 -84.5Z"/>
<path fill="#B0E0E6" d="M-60 -84.7 -58.4 -88 -53.9 -89.1 -51.7 -89.1 -51.7 -85.3Z"/>
</g>
</g>
<clipPath id="m2r13"><path d="M-103.3 93.4 -36.1 93.4 -39 99.1 -43.3 105.7 -39 108.2 -41.8 117.1 -52.8 113.9 -57 121.8 -74 113.3 -76.8 115.2 -83.5 110.5 -91 103.8 -96.7 98.2 -103.3 94.4Z"/></clipPath>
<clipPath id="m2r13b"><rect x="-142.4" y="94.5" width="160" height="50"/></clipPath>
<g clip-path="url(#m2r13b)">
<g clip-path="url(#m2r13)">
<path fill="#9370DB" d="M-103.3 93.4 -36.1 93.4 -39 99.1 -43.3 105.7 -39 108.2 -41.8 117.1 -52.8 113.9 -57 121.8 -74 113.3 -76.8 115.2 -83.5 110.5 -91 103.8 -96.7 98.2 -103.3 94.4Z"/>
</g>
</g>
<clipPath id="m2r14"><path d="M-76.1 -10.1 -71.4 -14.8 -67.6 -12.9 -63.8 -12 -61.9 -11.5 -61.9 -7.3 -65.7 -7.7 -69.5 -9.1 -72.3 -6.3 -75.6 -6.3Z"/><path d="M-78 3.6 -73.3 2.2 -68.5 -0.2 -63.8 -1.6 -61.9 -2 -61.9 0.8 -65.7 1.7 -69.5 4.1 -73.3 5.5 -77.1 5.5Z"/><path d="M-77.1 -6.8 -74.2 -7.3 -74 -5.5 -76.9 -5.4Z"/></clipPath>
<clipPath id="m2r14b"><rect x="-92.4" y="-55.5" width="30" height="70"/></clipPath>
<g clip-path="url(#m2r14b)">
<g clip-path="url(#m2r14)">
<path fill="#DEB887" d="M-76.1 -10.1 -71.4 -14.8 -67.6 -12.9 -63.8 -12 -61.9 -11.5 -61.9 -7.3 -65.7 -7.7 -69.5 -9.1 -72.3 -6.3 -75.6 -6.3Z"/>
<path fill="#DEB887" d="M-78 3.6 -73.3 2.2 -68.5 -0.2 -63.8 -1.6 -61.9 -2 -61.9 0.8 -65.7 1.7 -69.5 4.1 -73.3 5.5 -77.1 5.5Z"/>
<path fill="#0000C8" d="M-77.1 -6.8 -74.2 -7.3 -74 -5.5 -76.9 -5.4Z"/>
<path fill="#FFD700" d="M-73.7 -10.1 -70.9 -12.5 -67.6 -11.5 -61.9 -10.6 -61.9 -8.7 -66.6 -9.1 -70 -10.1 -72.3 -8.2Z"/>
<path fill="#F5DEB3" d="M-74.2 3.6 -68.5 1.3 -61.9 -1.1 -61.9 -0.2 -67.6 2.2 -73.3 4.6Z"/>
</g>
</g>
<clipPath id="m2r15"><path d="M-15.8 -81.7 -14.7 -82.3 -10.3 -83.4 -7 -80 -2.6 -76.2 1.8 -71.8 6.2 -69 11.8 -67.9 12.9 -70.7 14.5 -66.8 19.5 -65.7 23.9 -63.5 27.2 -59.1 31.6 -54.6 33.8 -50.2 38.3 -46.4 38.3 -44.7 -33 -44.7 -33 -55.8 -28 -57.4 -23.6 -60.2 -20.3 -64.6 -18.6 -69 -18 -73.4 -17.5 -76.7 -19.2 -80Z"/></clipPath>
<clipPath id="m2r15b"><rect x="-32.4" y="-81" width="70" height="35.5"/></clipPath>
<g clip-path="url(#m2r15b)">
<g clip-path="url(#m2r15)">
<path fill="#F5DEB3" d="M-15.8 -81.7 -14.7 -82.3 -10.3 -83.4 -7 -80 -2.6 -76.2 1.8 -71.8 6.2 -69 11.8 -67.9 12.9 -70.7 14.5 -66.8 19.5 -65.7 23.9 -63.5 27.2 -59.1 31.6 -54.6 33.8 -50.2 38.3 -46.4 38.3 -44.7 -33 -44.7 -33 -55.8 -28 -57.4 -23.6 -60.2 -20.3 -64.6 -18.6 -69 -18 -73.4 -17.5 -76.7 -19.2 -80Z"/>
<path fill="#FFD700" d="M-15.8 -81.4 -10.3 -82.3 -7.2 -78.9 -3 -75.2 1.4 -70.8 6 -68.1 11.8 -67 14.5 -65.9 19.3 -64.8 23.4 -62.7 26.6 -58.4 31 -54 33.2 -49.6 37.6 -45.5 38.3 -44.7 -33 -44.7 -33 -54.9 -27.8 -56.6 -23 -59.5 -19.6 -64.1 -17.9 -68.8 -17.4 -73.4 -16.9 -76.7Z"/>
<path fill="#FF4500" d="M-15.8 -81.1 -10.9 -77.8 -6.8 -72.3 -2.6 -67.3 0.7 -62.4 4 -66.6 11.8 -65.9 14.4 -65 18.8 -63.7 22.6 -61.8 25.7 -57.7 30.1 -53.3 32.3 -48.9 36.1 -45.3 -33 -44.7 -33 -53.5 -27.1 -55.8 -22.2 -59.1 -18.9 -63.5 -17.4 -68.3 -16.8 -73.4 -16.3 -77.8Z"/>
<path fill="#B22222" d="M-15.8 -80.9 -11.4 -75.6 -7 -69 -2.8 -64.4 0.3 -58.2 2.9 -64.6 6.2 -58.5 10.4 -63.5 14 -64.6 17.5 -63.3 19.7 -57.4 23 -52.9 27.4 -48.5 30 -45.3 -33 -44.7 -33 -52.2 -26.3 -54.9 -21.6 -58.8 -19.4 -62.2 -18.3 -66.6 -17.2 -73.4 -16.3 -77.8Z"/>
<path fill="#FF1493" d="M-15.8 -80.6 -16.9 -73.4 -18 -66.8 -19.2 -62.4 -21.4 -59.1 -25.8 -54.6 -33 -51.1 -33 -44.7 29.4 -44.7 27.2 -48 22.8 -52.4 19.5 -56.9 17.3 -62.4 14 -64 10.7 -62.4 6.2 -57.4 2.9 -63.5 0.2 -57.4 -2.6 -63.5 -7 -67.9 -11.4 -74.5Z"/>
</g>
</g>
<clipPath id="m2r16"><path d="M-10.9 -11 34.1 -11 40.7 -6.7 46.4 -4.8 50.2 -0.1 50.2 39.9 -10.9 39.9Z"/></clipPath>
<clipPath id="m2r16b"><rect x="-10.4" y="-10.5" width="60" height="50"/></clipPath>
<g clip-path="url(#m2r16b)">
<g clip-path="url(#m2r16)">
<path fill="#BEF064" d="M-10.9 -11 34.1 -11 40.7 -6.7 46.4 -4.8 50.2 -0.1 50.2 39.9 -10.9 39.9Z"/>
<path fill="#F5DEB3" d="M8.1 39.9 10.4 35.9 13.3 31.6 17 28.3 20.8 25.3 24.2 20.9 26.7 15.5 27.6 12.7 29.3 11.5 33.1 11.1 36.9 11.8 41.2 13.2 45.4 15.2 50.2 17.9 50.2 -11 -10.9 -11 -10.9 39.9Z"/>
<path fill="#FFD700" d="M5.9 39.9 8.3 35.4 11.4 30.8 15.3 27.2 19.1 24 22.5 19.8 24.8 14.6 25.8 11.1 27.5 9.6 31.2 9.2 35 9.8 39.8 11.1 44.5 13.2 50.2 15.5 50.2 -11 -10.9 -11 -10.9 39.9Z"/>
<path fill="#FFA500" d="M4.3 39.9 6.8 34.9 9.9 30 14 26.2 17.8 23.1 21 18.8 23.2 13.6 24.1 9.8 26 8 29.8 7.5 34.1 8 38.8 9.4 43.5 11.3 50.2 13.6 50.2 -11 -10.9 -11 -10.9 39.9Z"/>
<path fill="#FF4500" d="M2.8 39.9 5.5 34.5 8.5 29.2 12.8 25.3 16.6 22.1 19.7 17.9 21.8 12.7 22.7 8.9 24.6 6.5 28.4 5.8 33.1 6.3 37.9 7.7 42.6 9.6 50.2 11.7 50.2 -11 -10.9 -11 -10.9 39.9Z"/>
<path fill="#B22222" d="M1 39.9 3.8 34 7.1 28.3 11.4 24 15.2 20.7 18 16.9 19.9 12.2 20.8 8 22.7 4.6 26.5 3.7 31.2 3.9 36 5.1 40.7 7 45.4 8.9 50.2 9.8 50.2 -11 -10.9 -11 -10.9 39.9Z"/>
<path fill="#FFB6C1" d="M-1.9 39.9 1.9 32.1 5.7 25.9 9.9 21.7 13.7 18.4 16.6 13.6 18 9.4 19.4 5.1 21.8 1.3 25.6 0.4 30.3 0.7 35 2.3 39.8 3.7 44.5 5.1 50.2 7.5 50.2 -11 -10.9 -11 -10.9 39.9Z"/>
<path fill="#FF1493" d="M-5.2 39.9 -0.9 32.1 3.8 24.5 8.5 19.8 12.3 16.9 15.2 12.7 17 8.4 18.5 3.7 20.8 -1 27.5 -2 31.2 -1.5 29.3 -3.9 31.2 -6.7 35 -9.6 36.9 -11 -10.9 -11 -10.9 39.9Z"/>
<path fill="#FFD700" d="M31.2 -1.5 36.9 -0.6 42.6 0.9 46.4 -0.1 42.6 -4.8 36.9 -11 35 -9.6 31.2 -6.7 29.3 -3.9Z"/>
<path fill="#20B2AA" d="M20.8 39.9 22.7 34.9 25.6 30.2 28.4 27.4 32.2 26.4 36 27.4 38.8 30.2 40.7 34.9 41.6 39.9Z"/>
<path fill="#B0E0E6" d="M22.2 39.9 24.1 35.4 26.7 31.1 29.2 28.5 32.2 27.5 35.2 28.5 37.7 31.1 39.4 35.4 40.2 39.9Z"/>
<path fill="#7896F0" d="M23.7 39.9 25.4 35.9 27.6 32.1 29.8 29.7 32.2 28.8 34.6 29.7 36.7 32.1 38.2 35.9 39 39.9Z"/>
<path fill="#4169E1" d="M25.1 39.9 26.7 36.3 28.6 33 30.5 30.9 32.2 30.2 34.1 30.9 35.8 33 37.1 36.3 37.9 39.9Z"/>
<path fill="#0000C8" d="M26.5 39.9 27.9 36.8 29.5 34 31 32.3 32.2 31.7 33.5 32.3 34.8 34 36 36.8 36.7 39.9Z"/>
<path fill="#9370DB" d="M30.3 34 31.7 33 32.7 35.9 31.2 36.8Z"/>
<path fill="#FFFFFF" d="M8.1 34 11.4 30.7 14.7 31.1 15.2 34.9 13.3 39.9 8.5 39.9Z"/>
<path fill="#FFFFFF" d="M41.2 16.9 42.6 16.5 44 20.7 45.4 27.4 46.4 33 45.4 34 43.5 29.2 42.1 22.6Z"/>
<path fill="#FFFFFF" d="M29.8 -3.4 32.2 -6.7 36 -9.1 39.8 -9.6 40.7 -6.7 37.9 -3.9 34.1 -1 31.2 -0.6Z"/>
</g>
</g>
<circle r="7" fill="#fff"/>
<g fill="none" stroke="#000" stroke-width="1" stroke-linejoin="round">
<path d="M-115.3 -80.7 -112.1 -85.9 -109 -86.2 -110.5 -82.7 -107.4 -83 -101.9 -83.4 -96.3 -82.3 -94 -79.1 -89.2 -80.7 -86.9 -79.6 -83.7 -81.8 -79.8 -79.1 -76.6 -80.7 -70.3 -81.1 -66.4 -79.9 -62.4 -83 -57.7 -84.9 -53.3 -85.9 -54.2 -89.3 -51.7 -92.2 -50.1 -89.3 -48.6 -87 -47 -90.9 -46.3 -95.7 -48.2 -98.5 -46.7 -102 -44.3 -107.5 -41.3 -112.2M-100 -88.1 -95.6 -87.5 -91.6 -85.9 -94 -85.4 -97.9 -87ZM-51.7 -103.5 -49 -102.8 -48.2 -99.6 -50.1 -98 -52.2 -100.4ZM-41.4 -112.2 -37.1 -116.2 -32.4 -120.1 -32.7 -119 -38.7 -111.4 -41.5 -104.3 -40.3 -101.2 -37.1 -103.9 -32.4 -99.6 -29.2 -102 -25.3 -102.8 -22.9 -95.7 -23.7 -89.3 -27.6 -87 -28 -83 -24.5 -83.8 -19.8 -82.3 -17.4 -79.9 -21.3 -78.3 -24.5 -77.5 -22.1 -74.4 -18.2 -72.8 -17.4 -69.6 -19.8 -64.9 -22.1 -61 -27.6 -58.6 -35.5 -56.2 -43.4 -53.9 -49.7 -51.5 -51.3 -48.3M-29.2 -123.7 -26.4 -125.9 -24.5 -128M-7.6 -134.8 -6.5 -134.8 -6.5 -133.7 -7.6 -133.7ZM16.1 -130 17.2 -130 17.2 -128.9 16.1 -128.9ZM-26.1 -101.2 -22.9 -102 -22.1 -100.4 -25.3 -99.6ZM-16.6 -90.9 -12.7 -91.2 -12.7 -89.7 -16.3 -89.7ZM37 -42.8 33.9 -46.8 30.7 -51.5 27.6 -56.2 24.4 -61 19.7 -64.1 14.9 -67.3 13.4 -71.2 11.8 -68.1 7.1 -67.3 0.8 -69.6 -5.6 -75.2 -11.9 -80.7 -11.1 -83.8 -8.7 -86.2 -4 -85.4 -0.8 -82.3 0.8 -87 3.1 -89.3 2.3 -94.1 5.5 -95.7 11.8 -98.8 18.1 -102.8 22.8 -100.4 27.6 -102.8 33.9 -108.3 34.7 -113 39.4 -115.4 43.3 -119.3 48.7 -122.5M17.8 -101.1 22.8 -100.1 26.6 -101.3 30.4 -103.9 33.6 -107.6 34.2 -111.4 37.4 -113.3 38.6 -116.5 41.8 -117.1 43.7 -120.3 47.5 -120.9 50 -124 54.4 -125.9 54.4 -124.7 53.8 -120.3 52.5 -115.2 51.2 -110.8 48.1 -107.6 44.9 -104.9 40.5 -102.3 35.5 -99.4 30.4 -95.7 26.6 -92.5 25.6 -90.5 28.5 -91 31.7 -92.8 34.8 -91 38 -90 41.8 -91.9 44.9 -95 48.1 -96.9 51.9 -95 53.1 -91.9 55.7 -90 59.4 -88.1 64.5 -84.9 68.3 -84.3 73.3 -85.6 80.9 -86.2 87.5 -86.8 86.6 -91.2 86.9 -94.4 84.7 -93.8 80.9 -95.7 79.6 -98.8 76.9 -99.8 78.4 -102.6 80.3 -107.6 83.4 -112.9M86.6 -110.8 83.4 -106.4 80.3 -100.7 81.5 -99.4 85.3 -102.6 90 -107.6M-17.8 -81.5 -19.7 -79.2 -20.1 -76 -18.2 -72.9 -19.5 -67.8 -22 -63.4 -25.8 -59.6 -30.8 -57.1 -37.2 -55.2 -42.2 -53.3M-2.5 -64.3 0.1 -64.7 0.4 -63 -2.1 -62.8ZM22.8 -65.5 24.1 -60.5 29.8 -57.3 31.7 -51.6 34.8 -46.6 39.9 -46.6 41.8 -45.3 46.8 -42.8 49.3 -42.2 48.7 -38.4 44.9 -35.8 46.2 -32.1 49.3 -30.2 50 -25.1 51.2 -22 55 -16.9 49.3 -18.8 44.9 -16.9 43 -13.8 44.9 -9.3 47.5 -4.9 49.3 -1.1 53.1 3.3 55.7 7.1 56.9 10.2 60.7 8.9 62 11.5 60.7 14.5M28.5 -40.3 31.7 -41.5 34.2 -39 33.6 -35.8 30.4 -36.2ZM25.4 -44.7 27.3 -45.3 28.5 -42.2 26.6 -41.5ZM31 -6.2 34.2 -9.3 38 -8.7 38.6 -5.6 35.5 -1.8 31.7 -1.1ZM-106.1 65.6 -105.2 62.6 -104.5 58.8 -102.3 55.6 -99.2 53.1 -95.4 48.7 -93.5 44.3 -94.8 41.1 -96.7 43 -100.4 42.4 -101.1 39.2 -97.9 36.7 -94.1 36.1 -92.9 33.5 -89.7 32.3 -89.7 29.8 -91.6 26 -93.5 22.2 -96.7 20.3 -101.7 19.7 -106.8 21.6 -111.2 24.1 -116.2 24.7 -120.6 22.2 -125.7 23.5 -130.7 26 -134.5 23.5 -128.8 17.8 -124.4 17.1 -120.6 15.9 -119.4 10.8 -116.8 4.5 -115 -0.5 -114.3 -4.9 -108 -8.7 -101.7 -8.1 -96.7 -5.6 -92.9 -1.8 -90.4 1.4 -87.8 4.5 -85.3 3.3 -82.1 4.5 -79 2M-90.6 7.1 -87.8 4.5 -82.8 5.8 -80.3 5.2 -81.5 8.9 -84.7 10.8 -86.6 14 -88.5 12.7 -89.7 10.2ZM-116.6 20.7 -114.3 20.7 -114.3 22.4 -116.6 22.4ZM-95.1 10.6 -92.9 10.6 -92.9 12.4 -95.1 12.4ZM-95.8 15.6 -93.5 15.6 -93.5 17.4 -95.8 17.4ZM-86.7 26.2 -82.9 24.3 -77.9 25 -71.5 23.7 -67.8 25 -68.4 30 -70.3 35.1 -71.5 38.8 -73.4 37.6 -74.7 32.5 -76.6 31.9 -77.2 36.3 -79.1 40.1 -81 38.2 -81.6 33.8 -83.5 35.1 -84.8 39.5 -86.7 37.6 -87.3 32.5 -88 28.8ZM18.3 74.5 15.1 80.8 12.8 87.1 9.6 93.4 8 98.2 8.8 103.7 11.2 108.4 14.3 110 16.7 106.8 19.9 105.3 22.2 107.6 24.6 112.4 26.9 116.3 28.5 117.1 30.9 113.1 31.7 108.4 33.3 104.5 34 100.5 32.5 96.6 30.6 91.9 30.1 87.9 30.9 82.4 31.7 77.7 33.3 76.1 35.6 76.9 36.4 80.8 34.8 85.5 36.4 90.3 39.6 94.2 43.5 94.2 46.7 91.1 49.8 89.5 51.4 86.3 53.8 85.2 54.9 88.4 51.4 90.3 48.2 92.6 45.1 95.8 43.5 99.7 45.9 102.9 46.7 105.3 43.5 104.5 41.9 102.1 40.4 106 41.9 110 42.7 113.9 41.1 117.1 37.2 118.7 34 119.5 30.9 121.8 28.5 121.8 26.2 123.4 21.4 125 16.7 128.1 13.5 130.5 10.4 133.6 7.2 136.8 4.9 140 3.3 142M19.1 112.4 17.5 115.5 18.3 120.2 20.6 122.6 22.2 120.2 21.4 116.3 20.6 113.1ZM23 117.1 25.4 117.4 26.5 120.2 24.6 122.1 22.7 120.6ZM-13.3 110 -10.1 109.2 -7 110 -6.2 113.1 -7 115.5 -4.6 117.9 -3.8 121.8 -1.4 125.8 0.9 129.7 3.3 132.9 4.1 136 2.5 139.2 -1.4 140 -5.4 139.2 -10.1 140.4 -8.5 137.6 -10.9 136 -8.5 133.6 -9.3 130.5 -10.9 128.1 -9.3 125 -10.9 121.8 -12.5 118.7 -11.7 114.7 -13.6 112.4ZM-21.9 125 -18.8 122.6 -15.6 121 -12.5 122.6 -13.3 126.6 -12.5 129.7 -15.6 132.9 -20.4 134.1 -23.5 132.9 -22.7 128.9ZM-12.2 95.3 -11.1 95.3 -11.1 96.4 -12.2 96.4ZM35.3 106.8 36.6 106.8 36.6 108.4 35.3 108.4ZM-38.7 13.5 -33.9 12.7 -29.2 11.9 -24.5 12.7 -19.7 14.3 -15 15.8 -11.9 18.2 -9.5 21.4 -11.1 24.5 -8.7 26.1 -6.3 28.5 -7.1 31.6 -9.5 35.6 -11.1 39.5 -12.6 43.4 -14.2 46.6 -16.6 49.7 -18.2 52.9 -20.5 55.3 -22.1 57.6 -25.3 60 -26.1 63.2 -29.2 63.9 -33.9 64.7 -38.7 64.7 -43.4 66.3 -48.1 65.5 -52.9 64.7 -56 66.3 -60 68.7 -63.1 71 -66.3 73.4 -68.6 75.8 -70.2 76.6 -72.6 73.4 -73.7 68.7 -73.4 63.9 -71.8 59.2 -69.4 55.3 -66.3 51.3 -62.3 48.2 -58.4 45.8 -54.4 44.2 -55.2 41.1 -52.9 38.7 -50.5 39.5 -48.9 36.3 -45.8 33.2 -43.4 29.2 -41.8 25.3 -41 21.4 -41.8 18.2 -40.2 15ZM-33.9 76.6 -30.8 75 -26.1 77.4 -21.3 78.1 -19.7 81.3 -22.1 84.4 -27.6 86 -31.6 85.2 -34.7 82.1ZM6.9 30.9 11 29.6 15.4 31.5 16 35.3 13.5 39.7 12.2 44.2 9.1 41.6 6.9 36.6ZM-45.3 1.5 -40.8 -1.6 -33.3 -2.9 -27 -2.2 -21.9 0.9 -19.4 5.3 -20.7 10.4 -25.7 11.6 -30.8 9.1 -37.1 10.4 -43.4 9.1 -45.9 5.3ZM55.7 7.9 60.7 9.2 59.4 12.4 62 14.9 55.7 16.1 59.4 17.4 64.5 18.7 69.5 19.3 73.3 20.6 76.5 23.7 77.1 26.2 75.2 25.6 73.3 23.1 69.5 21.8 64.5 21.2 59.4 20.6 55.7 19.3 53.8 18.7 56.9 23.1 60.7 26.2 65.1 27.5 68.9 26.9 65.1 30 62.6 33.8 63.9 37.6 61.3 40.1 59.4 45.2 58.2 50.2 58.8 54.5M58.8 49.2 57.5 52.4 58.2 54.9 55.7 55.5 55 58 55.7 62.4 54.4 65 55.7 67.5 51.9 68.1 50 65.6 51.9 62.4 52.5 58.7 49.3 57.4 43 58 36.7 58.7 32.9 58 29.2 58.7 25.4 60.6 22.8 65 20.3 68.8 17.8 72.5M41.1 17 43 16.4 44.9 22.1 46.8 28.4 49.3 33.4 51.9 36.6 55.7 35.3 56.3 37.2 51.9 39.1 48.7 37.2 45.6 32.2 43 25.9ZM43 66.2 48.1 65 50.6 68.8 54.4 70M53.8 77 57.5 77.6 59.4 80.1 57.5 82 55 80.7ZM48.7 85.2 53.1 83.6 55.7 85.8 53.8 89.6 50 90.2ZM112.8 -39.8 116.6 -41.5 121.7 -41.5 126.7 -38.9 130.5 -34.8 132 -31 130.5 -31.6 128.6 -34.8 125.5 -37.3 121 -39.2 116.6 -39.4 112.8 -38.9ZM-42.3 -53.7 -49.3 -51.8 -50.7 -47.1 -53.1 -41.4 -55.9 -39.5 -57.8 -36.7 -61.6 -33.8 -64.4 -31.5 -67.3 -32 -69.2 -32 -69.7 -28.2 -72 -24.9 -73 -23M-73 -23 -76.3 -18.4 -74.4 -13.1 -70.3 -9.4 -66.3 -8.4 -61.7 -4.9 -66.3 -2.4 -70.3 -0.9 -72.3 0.6 -75.4 4 -72.3 5.6 -69 8.5 -74.3 11.6 -79.9 11.9 -82.8 8.7 -80.6 5.4 -79 2M-104.4 61.9 -105.7 66.3 -106.3 70.1 -109.5 73.9 -111.4 76.4 -113.9 77.1 -117.1 75.2 -119.6 73.3 -121.5 71.4M-121.5 71.4 -117.1 70.8 -113.3 73.3 -111.4 76.4M-138.9 -20.6 -133.4 -23 -127.1 -24.6 -126.3 -22.2 -131.8 -20.6 -138.1 -19.1ZM-137.4 -17.5 -131.8 -19.1 -125.5 -19.9 -125.5 -18 -131.8 -16.4 -136.6 -15.9ZM-114.2 -27 -110.5 -25.4 -107.9 -23.3 -109 -22.5 -112.1 -24.3ZM-101.6 -38.5 -99 -36.4 -99.5 -32.8 -101.6 -32.5 -101.9 -35.6ZM-90.5 -44.3 -87.7 -45.4 -85.8 -41.1 -87.7 -38 -86.9 -31.7 -88.9 -30.9 -89.6 -36.4 -90.8 -40.4ZM-73.2 -45.9 -71.1 -47.5 -69.5 -44.3 -67.2 -46.7 -68 -40.4 -70.3 -38.8 -72.7 -40.4ZM-54 -32.4 -50.8 -34.6 -47.1 -33.3 -45.2 -29.5 -46.4 -25.1 -49.6 -23.2 -53.4 -25.1 -54.9 -28.9ZM-49 -21.3 -44.5 -22.6 -42 -19.4 -43.3 -15 -47.7 -15ZM-41.4 -25.1 -37.6 -24.5 -37 -19.4 -40.1 -18.8ZM-50.8 -11 -45.2 -11.2 -44.5 -6.8 -49.6 -6.2ZM-62.2 -11.9 -56.5 -12.5 -55.9 -5.6 -62.2 -4.9ZM-43.3 -7.5 -37 -7.7 -36.3 -4.9 -42.6 -4.7ZM-45.2 1.4 -40.7 -1.8 -33.2 -3 -26.9 -2.4 -21.8 0.7 -19.3 5.2 -20.6 10.2 -25.6 11.5 -30.7 8.9 -37 10.2 -43.3 8.9 -45.8 5.2ZM-62.2 0.1 -54.6 0.7 -49.6 3.3 -50.2 8.9 -54.6 10.2 -62.2 10.2ZM-69.5 -31.5 -67 -32.2 -63.8 -30.3 -61.3 -28.4 -57.5 -27.7 -54.3 -25.8 -53.1 -22.7 -54.3 -18.9 -56.9 -16.4 -60.7 -14.5 -65.1 -15.1 -68.9 -17.6 -72 -18.9 -73.3 -23.3 -71.4 -27.1ZM22.2 22.4 24.1 18.7 26.6 14.9 28.5 13M23.5 23.1 26 19.3 28.5 16.1M-49.6 -20.8 -46.1 -21.7 -44 -18.9 -44.9 -14.5 -48 -13.6 -49.9 -17ZM-42.7 -24.6 -39.2 -25.5 -37.7 -22.1 -38.6 -17.9 -41.7 -17.6ZM-50.3 -8.6 -48 -9.6 -45.3 -9.1 -44.5 -7.3 -46.8 -6 -49.6 -6.3ZM-40.2 -8.1 -37.9 -9.1 -35.4 -8.3 -35.2 -6.8 -37.7 -6 -39.7 -6.3ZM-43.2 -14.1 -40.5 -15.4 -36.9 -14.6 -36.2 -12.9 -39.2 -11.6 -42.5 -12.1ZM-36.2 -16.9 -34.4 -17.6 -32.9 -16.1 -33.1 -13.4 -35.2 -12.9 -36.4 -14.9ZM-61.9 -11.1 -59.1 -12.6 -56.1 -11.8 -55.1 -8.8 -56.6 -6.5 -60.4 -6 -62.2 -8.3ZM-54.3 -5 -51.8 -2.5 -53.1 1.3 -50.6 3.8M-67 -10.1 -63.8 -8.2 -65.1 -5M-72 -13.9 -68.9 -12 -66.3 -13.2M-34.8 -5 -32.9 -1.2 -30.4 -1.9 -29.1 1.3"/>
</g>
</g>
<circle r="141.4" fill="none" stroke="#000" stroke-width="0.9"/>
</g>
<g transform="translate(288.3 699.4)">
<clipPath id="clip2"><circle r="141.4"/></clipPath>
<g clip-path="url(#clip2)">
<clipPath id="m3r1"><path d="M-38.3 -107.2 -11.8 -113.1 -9.9 -102.9 -0.4 -103.3 0.4 -95.8 1.8 -91.8 3.1 -87.1 1 -85.9 -0.4 -82 -2 -83.2 -3.2 -85.1 -5.1 -84 -7.5 -85.1 -9.9 -87.1 -11 -85.7 -12.6 -83.2 -13.7 -80.8 -17.8 -81.4 -19.3 -83.2 -22.5 -84.3 -25.6 -84.7 -26.4 -87.5 -24.5 -89.5 -23.7 -92.6 -25.2 -95.8 -26.8 -98.5 -26 -99.7 -27.2 -100.9 -30.8 -100.1 -32.3 -98.5 -34.3 -101.3 -35.9 -102.9Z"/></clipPath>
<clipPath id="m3r1b"><rect x="-42.3" y="-116.4" width="50" height="51"/></clipPath>
<g clip-path="url(#m3r1b)">
<g clip-path="url(#m3r1)">
<path fill="#9370DB" d="M-38.3 -107.2 -11.8 -113.1 -9.9 -102.9 -0.4 -103.3 0.4 -95.8 1.8 -91.8 3.1 -87.1 1 -85.9 -0.4 -82 -2 -83.2 -3.2 -85.1 -5.1 -84 -7.5 -85.1 -9.9 -87.1 -11 -85.7 -12.6 -83.2 -13.7 -80.8 -17.8 -81.4 -19.3 -83.2 -22.5 -84.3 -25.6 -84.7 -26.4 -87.5 -24.5 -89.5 -23.7 -92.6 -25.2 -95.8 -26.8 -98.5 -26 -99.7 -27.2 -100.9 -30.8 -100.1 -32.3 -98.5 -34.3 -101.3 -35.9 -102.9Z"/>
<path fill="#4169E1" d="M-38.3 -107.6 -25.7 -111.3 -26.3 -105 -29.5 -101.9 -32.7 -100.9 -35.9 -102.9Z"/>
<path fill="#0000C8" d="M-25.7 -111.3 -10.6 -113.5 -10.3 -107.5 -18.1 -107.5 -25.7 -106.3Z"/>
<path fill="#4169E1" d="M-24.5 -111.6 -10.6 -113.5 -10.3 -109.4 -19.4 -108.8Z"/>
<path fill="#7896F0" d="M-19.4 -112.3 -10.6 -113.5 -10.4 -110.7 -18.1 -110.3Z"/>
<path fill="#20B2AA" d="M-15 -113.1 -10.6 -113.5 -10.4 -111.6 -14.4 -111.6Z"/>
<path fill="#4169E1" d="M-3 -89.5 0.8 -91.8 3.5 -87.1 1 -82.4 -2 -83.2Z"/>
<path fill="#0000C8" d="M-2.8 -87.9 -0.4 -89.5 1.2 -85.9 -1.2 -84Z"/>
<path fill="#B0E0E6" d="M-26.8 -89.5 -24.5 -89.1 -24.5 -85.1 -26.4 -85.5Z"/>
</g>
</g>
<clipPath id="m3r2"><path d="M-18.7 -86.1 -17.9 -81.5 -19.8 -79.2 -20.2 -76 -18.3 -72.9 -19.6 -67.8 -22.1 -63.4 -25.9 -59.6 -30.9 -57.1 -37.2 -55.2 -42.3 -53.3 -49.6 -52.3 -50.2 -47.9 -52.7 -43.5 -54.6 -39.1 -58.4 -35.9 -62.8 -33.8 -62.8 -4.7 18.6 -4.7 18.6 -64.7 13.9 -66.8 12.6 -69.7 10.7 -66.6 5.7 -67.8 0.6 -70.4 -5.7 -74.1 -11.3 -77.9 -13.6 -81.1 -12.4 -86.1Z"/></clipPath>
<clipPath id="m3r2b"><rect x="-62.3" y="-65.4" width="80" height="60"/></clipPath>
<g clip-path="url(#m3r2b)">
<g clip-path="url(#m3r2)">
<path fill="#96BE32" d="M-18.7 -86.1 -17.9 -81.5 -19.8 -79.2 -20.2 -76 -18.3 -72.9 -19.6 -67.8 -22.1 -63.4 -25.9 -59.6 -30.9 -57.1 -37.2 -55.2 -42.3 -53.3 -49.6 -52.3 -50.2 -47.9 -52.7 -43.5 -54.6 -39.1 -58.4 -35.9 -62.8 -33.8 -62.8 -4.7 18.6 -4.7 18.6 -64.7 13.9 -66.8 12.6 -69.7 10.7 -66.6 5.7 -67.8 0.6 -70.4 -5.7 -74.1 -11.3 -77.9 -13.6 -81.1 -12.4 -86.1Z"/>
<path fill="#BEF064" d="M-62.8 -86.1 18.6 -86.1 18.6 -45.1 13.5 -43.9 4.7 -41.3 -4.2 -38.2 -11.7 -35 -19.3 -33.1 -26.9 -33.8 -33.2 -31.2 -37.6 -26.2 -43.3 -24.9 -49.6 -19.9 -54.6 -14.8 -62.8 -9.8Z"/>
<path fill="#20B2AA" d="M-62.8 -86.1 18.6 -86.1 18.6 -67.8 9.7 -67.2 12.2 -65.3 13.5 -60.3 14.1 -52.7 11 -47.6 3.4 -43.9 -4.2 -40.7 -11.7 -38.2 -20.6 -36.9 -29.4 -36.9 -37 -35 -43.3 -31.2 -48.3 -26.2 -54.6 -24.9 -62.8 -26.2Z"/>
<path fill="#B0E0E6" d="M-62.8 -86.1 8.5 -86.1 4.7 -67.8 5.9 -62.8 4.7 -55.8 0.3 -49.5 -5.4 -44.5 -11.7 -41.3 -19.3 -40.7 -28.1 -41.3 -37 -40.7 -45.8 -38.8 -50.2 -37.6 -54.6 -35 -62.8 -32.5Z"/>
<path fill="#7896F0" d="M-62.8 -86.1 3.4 -86.1 0.9 -69.7 2.8 -64 2.2 -57.7 -1.6 -52.1 -6.7 -47 -13 -43.2 -19.3 -42.6 -26.9 -43.2 -34.4 -43.9 -43.3 -43.2 -48.3 -45.1 -62.8 -43.9Z"/>
<path fill="#4169E1" d="M-62.8 -86.1 0.9 -86.1 -1.6 -71 0.3 -65.3 -0.4 -59 -4.2 -54 -9.2 -48.9 -15.5 -45.1 -21.8 -45.1 -29.4 -47 -37 -48.3 -43.3 -47.6 -47.1 -51.4 -62.8 -50.2Z"/>
<path fill="#0000C8" d="M-24.3 -86.1 -1.6 -86.1 -4.2 -74.1 -2.9 -70.4 -2.9 -62.8 -6 -57.1 -10.5 -52.1 -14.9 -47.6 -19.3 -47.6 -23.1 -52.7 -24.3 -58.4 -21.8 -62.8 -19.9 -67.8Z"/>
<path fill="#9370DB" d="M-18.7 -86.1 -12.4 -86.1 -9.2 -80.5 -5.4 -76.7 -4.2 -71.6 -4.8 -64 -7.9 -59 -11.7 -54 -15.5 -49.5 -18.7 -48.9 -20.6 -51.4 -20.6 -57.7 -18.7 -64 -18 -71.6 -18 -77.9 -19.9 -81.7Z"/>
<path fill="#20B2AA" d="M-54.6 -19.9 -49.6 -21.1 -48.3 -14.8 -50.2 -4.7 -54.6 -4.7Z"/>
<path fill="#FFFFFF" d="M-54 -32.5 -50.8 -34.6 -47.1 -33.4 -45.2 -29.6 -46.4 -25.2 -49.6 -23.3 -53.4 -25.2 -54.9 -29Z"/>
<path fill="#FFFFFF" d="M-62.8 -27.7 -57.8 -29 -55.3 -25.2 -54.6 -20.1 -55.9 -15.7 -59.7 -13.8 -62.8 -13.2Z"/>
<path fill="#FFFFFF" d="M-62.8 -11.9 -56.5 -12.6 -55.9 -5.6 -62.8 -5Z"/>
</g>
</g>
<clipPath id="m3r3"><path d="M-30.7 -6.1 18.6 -6.1 18.6 48.8 9.3 53.8 4.3 55.1 3.7 63.9 -2 65.2 -2.6 71.5 -5.8 75.3 -62.8 75.3 -62.8 70.8 -59.7 69.6 -55.9 67.1 -53.4 64.5 -48.3 66.4 -43.3 66.4 -39.5 65.2 -35.7 64.5 -30.7 63.9 -26.9 62.6 -27.5 58.2 -24.3 55.1 -20.6 53.2 -18 50 -14.9 47.5 -14.3 43.1 -12.4 38.7 -10.5 34.9 -7.9 31.1 -6.7 27.9 -9.8 26.7 -11.7 24.2 -9.2 21.6 -11.7 19.1 -16.8 16 -21.8 10.9 -19.3 5.2 -21.8 0.8 -26.9 -2.3 -30.7 -4.2Z"/></clipPath>
<clipPath id="m3r3b"><rect x="-62.3" y="-5.4" width="80" height="87"/></clipPath>
<g clip-path="url(#m3r3b)">
<g clip-path="url(#m3r3)">
<path fill="#96BE32" d="M-30.7 -6.1 18.6 -6.1 18.6 48.8 9.3 53.8 4.3 55.1 3.7 63.9 -2 65.2 -2.6 71.5 -5.8 75.3 -62.8 75.3 -62.8 70.8 -59.7 69.6 -55.9 67.1 -53.4 64.5 -48.3 66.4 -43.3 66.4 -39.5 65.2 -35.7 64.5 -30.7 63.9 -26.9 62.6 -27.5 58.2 -24.3 55.1 -20.6 53.2 -18 50 -14.9 47.5 -14.3 43.1 -12.4 38.7 -10.5 34.9 -7.9 31.1 -6.7 27.9 -9.8 26.7 -11.7 24.2 -9.2 21.6 -11.7 19.1 -16.8 16 -21.8 10.9 -19.3 5.2 -21.8 0.8 -26.9 -2.3 -30.7 -4.2Z"/>
<path fill="#F5DEB3" d="M18.6 -0.5 12.2 2.1 6.6 6.5 11 14.7 16 22.3 18.6 24.8Z"/>
<path fill="#BEF064" d="M-12.4 38.7 -7.9 36.1 -4.2 32.4 -2.9 36.1 -5.4 42.4 -9.2 50 -13 57.6 -18 65.2 -20.6 70.2 -24.3 75.3 -29.4 75.3 -24.3 65.2 -20.6 53.2 -18 50 -14.9 47.5 -14.3 43.1Z"/>
<path fill="#20B2AA" d="M-19.3 55.1 -17.4 53.8 -18.7 60.1 -20.6 67.7 -22.1 70.2 -21.2 62.6Z"/>
<path fill="#F5DEB3" d="M5.6 4 11.2 13.4 16.9 21.6 15.6 26.1 17.5 29.2 15.6 31.7 18.2 37.4 14.4 41.2 9.3 43.7 8.1 38.7 5.6 33.6 4.9 28.6 3 26.7 0.5 27.9 -2 34.9 -7.1 41.2 -12.1 47.5 -17.2 57.6 -19.7 65.2 -20.3 72.7 -17.2 80.3 -12.1 85.4 -6.4 85.4 -5.8 75.3 -2.6 71.5 -2 65.2 3.7 63.9 4.3 55.1 9.3 53.8 18.2 48.8 23.2 46.2 33.3 47.5 33.9 52.5 37.7 53.2 38.4 42.5 40.3 29.8 42.1 17.2 48.5 16 48.5 4Z"/>
<path fill="#BEF064" d="M7.4 23.5 11.2 21.6 15 25.4 16.3 29.8 13.1 28.6 9.3 27.3Z"/>
<path fill="#20B2AA" d="M13.1 27.3 16.3 27.9 17.5 31.7 15 31.1Z"/>
<path fill="#FFD700" d="M-18.4 71.5 -17.8 63.9 -14.6 57.6 -9.6 48.8 -4.5 41.2 0.5 33.6 3.7 27.9 5.6 29.8 7.4 37.4 8.7 43.7 6.8 50 4.3 55.1 1.8 60.1 -3.3 65.2 -9.6 69 -14.6 72.1Z"/>
<path fill="#FFA500" d="M-17.4 69.6 -16.7 63.3 -13.6 57.3 -8.6 48.8 -3.5 41.4 1.1 34.6 3.7 30.5 5.1 32.4 6.6 38 7.4 43.7 5.8 49.4 3.3 54.4 0.8 59.1 -3.9 63.9 -9.8 67.4 -14.4 70.2Z"/>
<path fill="#FF4500" d="M-16.7 67.9 -15.6 62.6 -12.6 57.1 -7.6 48.8 -2.5 41.7 1.8 35.6 3.8 33 4.5 34.9 5.6 38.7 6.3 43.7 4.8 48.8 2.3 53.8 -0.2 58.2 -4.5 62.6 -10.1 65.9 -14.1 68.4Z"/>
<path fill="#B22222" d="M-15.9 66.4 -14.6 62 -11.6 56.8 -6.6 48.8 -1.5 42 2 37.7 3.5 37.2 4.5 39.9 5.1 43.7 3.8 48.1 1.3 53.2 -1.3 57.3 -5.3 61.4 -10.3 64.4 -13.9 66.7Z"/>
<path fill="#FFB6C1" d="M-14.6 63.9 -13.4 60.8 -10.6 56.6 -5.5 49 -0.8 42.7 2 41.2 3.5 42.5 3.3 46.9 0.8 51.9 -2 56.1 -6.1 59.6 -10.6 62.4 -13.4 64.2Z"/>
<path fill="#FF1493" d="M-7.7 53.2 -4.5 52.5 -3.9 54.8 -7.1 55.7Z"/>
<path fill="#FF1493" d="M0.8 44.3 2.4 44 2.5 46 1 46.2Z"/>
<path fill="#FFD700" d="M18.2 42.5 18.8 36.1 18.2 29.8 17.5 23.5 19.4 17.2 23.2 10.9 27 5.9 30.8 4 42.1 4 43.4 9.6 42.1 17.2 40.3 24.8 38.4 32.4 35.8 38.7 30.8 43.7 23.2 45Z"/>
<path fill="#FFA500" d="M19.4 41.2 20.1 35.5 19.4 29.8 18.8 23.5 20.7 17.2 24.2 11.5 27.8 6.9 31.4 4 41.1 4 42.1 9.6 40.9 17 39 24.5 37.1 31.7 34.6 37.7 30.2 42.2 23.5 43.2Z"/>
<path fill="#FF4500" d="M20.7 39.9 21.3 34.9 20.7 29.8 20.1 23.5 22 17.5 25.2 12.2 28.5 7.9 31.8 5.6 40.1 5.4 41.1 9.9 39.9 16.7 38 24.2 36.1 31.1 33.6 36.7 29.5 40.7 23.9 41.6Z"/>
<path fill="#B22222" d="M22 38.7 22.6 34.4 22 29.8 21.5 23.5 23.2 17.7 26.2 12.8 29.3 8.9 32.3 6.6 39.1 6.4 40.1 10.2 38.9 16.5 37 23.8 35.1 30.5 32.6 35.6 28.9 39.2 24.2 39.9Z"/>
<path fill="#FFB6C1" d="M23.9 36.8 24.2 33.6 23.9 29.8 23.2 24.8 24.7 19.7 27.3 14.7 30 10.7 32.8 8.4 37.9 8.1 38.6 10.9 37.4 16.2 35.6 23.3 33.6 29.6 31.3 34.1 28.3 37.2 25.1 37.7Z"/>
<path fill="#FF1493" d="M30.2 12.2 33.3 9.6 36.8 10.3 37.4 14.1 35.2 17.2 32.1 17.2 30.2 15.3Z"/>
<path fill="#FF1493" d="M26.4 22.3 28.9 21.6 28.9 24.8 26.8 24.8Z"/>
<path fill="#FFFFFF" d="M8.7 33 11.9 29.8 15.6 30.5 16.3 34.3 18.2 37.4 16.3 40.6 13.8 42.5 11.2 38.7 9.3 36.1Z"/>
<path fill="#4169E1" d="M-62.8 70.8 -59.7 69.6 -55.9 67.1 -53.4 64.5 -48.3 66.4 -43.3 66.4 -39.5 65.2 -35.7 64.5 -30.7 63.9 -26.9 62.6 -24.3 65.2 -25.6 70.2 -26.9 75.3 -62.8 75.3Z"/>
<path fill="#0000C8" d="M-57.2 68.9 -53.4 65.8 -49.6 67.7 -50.8 75.3 -55.9 75.3Z"/>
<path fill="#7896F0" d="M-43.3 67.1 -30.7 64.5 -28.1 67.7 -37 70.2 -43.3 70.2Z"/>
<path fill="#B0E0E6" d="M-29.4 65.2 -24.3 60.1 -21.8 62.6 -24.3 70.2 -28.1 75.3 -30.7 70.2Z"/>
<path fill="#9370DB" d="M-62.8 71.5 -58.4 70.2 -57.2 75.3 -62.8 75.3Z"/>
<path fill="#FFFFFF" d="M7.5 -0.5 6.6 3.1 4 5.6 0.5 6.5 -3 5.6 -5.5 3.1 -6.4 -0.5 -5.5 -4 -3 -6.5 0.5 -7.4 4 -6.5 6.6 -4Z"/>
</g>
</g>
<clipPath id="m3r4"><path d="M-58.4 13.4 -54.6 11.5 -47.1 10.9 -39.5 10.9 -38.2 13.4 -40.1 19.7 -40.7 26 -42.6 31.7 -48.3 38.7 -54.6 44 -60.9 47.5 -62.8 48.1 -62.8 17.2Z"/><path d="M-54.6 -6.1 -49 -6.1 -48.3 2.1 -49 8.4 -39.5 9 -38.2 11.5 -57.2 11.5 -58.4 9.6 -53.4 7.7 -54 0.8Z"/></clipPath>
<clipPath id="m3r4b"><rect x="-62.3" y="-5.4" width="80" height="80"/></clipPath>
<g clip-path="url(#m3r4b)">
<g clip-path="url(#m3r4)">
<path fill="#4169E1" d="M-58.4 13.4 -54.6 11.5 -47.1 10.9 -39.5 10.9 -38.2 13.4 -40.1 19.7 -40.7 26 -42.6 31.7 -48.3 38.7 -54.6 44 -60.9 47.5 -62.8 48.1 -62.8 17.2Z"/>
<path fill="#20B2AA" d="M-54.6 -6.1 -49 -6.1 -48.3 2.1 -49 8.4 -39.5 9 -38.2 11.5 -57.2 11.5 -58.4 9.6 -53.4 7.7 -54 0.8Z"/>
<path fill="#7896F0" d="M-55.9 12.2 -47.1 10.9 -39.5 11.2 -39.5 14.7 -47.1 15.3 -54.6 16Z"/>
<path fill="#B0E0E6" d="M-57.2 11.5 -39.5 10.7 -39.2 12.4 -54.6 13.2Z"/>
<path fill="#0000C8" d="M-62.8 24.8 -56.5 21.6 -46.4 20.4 -40.5 22.9 -40.7 26 -42.6 31.7 -48.3 38.7 -54.6 44 -60.9 47.5 -62.8 48.1Z"/>
<path fill="#9370DB" d="M-62.8 28.6 -56.5 24.8 -46.4 23.5 -41.4 26 -42.6 31.1 -49 38.7 -55.3 43.7 -62.8 47.5Z"/>
</g>
</g>
<clipPath id="m3r5"><path d="M22.8 -66.1 24.1 -60.5 29.8 -57.3 31.7 -51.6 34.8 -46.6 39.9 -46.6 41.8 -45.3 46.8 -42.8 49.3 -42.2 48.7 -38.4 44.9 -35.8 46.2 -32.1 49.3 -30.2 50 -25.1 51.2 -22 49.3 -18.8 44.9 -16.9 43 -13.8 44.9 -9.3 47.5 -4.9 49.3 -1.1 53.1 3.3 55.7 7.1 56.9 10.2 60.7 8.9 62 11.5 60.7 15.3 17.2 15.3 17.2 -66.1Z"/></clipPath>
<clipPath id="m3r5b"><rect x="17.7" y="-65.4" width="80" height="80"/></clipPath>
<g clip-path="url(#m3r5b)">
<g clip-path="url(#m3r5)">
<path fill="#96BE32" d="M22.8 -66.1 24.1 -60.5 29.8 -57.3 31.7 -51.6 34.8 -46.6 39.9 -46.6 41.8 -45.3 46.8 -42.8 49.3 -42.2 48.7 -38.4 44.9 -35.8 46.2 -32.1 49.3 -30.2 50 -25.1 51.2 -22 49.3 -18.8 44.9 -16.9 43 -13.8 44.9 -9.3 47.5 -4.9 49.3 -1.1 53.1 3.3 55.7 7.1 56.9 10.2 60.7 8.9 62 11.5 60.7 15.3 17.2 15.3 17.2 -66.1Z"/>
<path fill="#BEF064" d="M17.2 -66.1 23.5 -66.1 26.6 -59.2 29.8 -52.9 31.7 -46.6 25.4 -44.7 17.2 -42.8Z"/>
<path fill="#F5DEB3" d="M17.2 -4.9 22.8 -6.2 26.6 -6.8 25.4 -3.7 30.4 -2.4 36.7 0.1 41.8 5.2 44.9 10.2 46.8 15.3 17.2 15.3Z"/>
<path fill="#DEB887" d="M17.2 -0.5 24.1 -1.1 31.7 0.1 38 3.3 42.4 8.9 44.9 15.3 17.2 15.3Z"/>
<path fill="#FFD700" d="M19.1 5.2 24.1 2.6 31.7 2.9 37.4 5.8 41.1 10.2 43 15.3 19.1 15.3Z"/>
<path fill="#FFA500" d="M21.6 15.3 22.2 7.1 25.4 4.9 31.7 5.2 36.7 7.7 39.9 11.5 41.1 15.3Z"/>
<path fill="#B22222" d="M24.7 15.3 25.1 8.9 27.9 7.1 32.3 7.4 36.1 9.6 38.6 13.4 39.3 15.3Z"/>
<path fill="#FFB6C1" d="M26.6 15.3 26.9 10.2 29.2 8.7 32.9 9.2 36.1 11.7 37.4 15.3Z"/>
<path fill="#FF1493" d="M28.1 15.3 28.5 11.5 30.4 10 33.6 10.8 35.5 13.4 36.1 15.3Z"/>
<path fill="#FFFFFF" d="M25.4 -43.4 27.9 -45.3 31.7 -41.5 34.8 -39.6 34.2 -35.8 30.4 -35.8 27.9 -39Z"/>
<path fill="#FFFFFF" d="M30.4 -3.7 34.2 -8.1 38 -10 39.9 -8.1 38.6 -4.9 35.5 -1.8 31.7 -1.1Z"/>
</g>
</g>
<clipPath id="m3r6"><path d="M17.2 13.9 52.5 13.9 53.8 19.5 56.9 23.3 60.7 26.5 65.1 28.4 68.3 27.1 64.7 30.3 62.6 34.7 63.9 37.2 61.3 39.7 60.7 43.5 58.2 45.4 58.8 49.2 57.5 52.4 58.2 54.9 55.7 55.5 55 58 55.7 62.4 54.4 65 55.7 67.5 51.9 68.1 50 65.6 51.9 62.4 52.5 58.7 49.3 57.4 44.9 57.4 43.7 57.1 41.1 54.9 38 53 34.2 50.5 32.3 46 25.4 48.8 17.2 51.3Z"/></clipPath>
<clipPath id="m3r6b"><rect x="17.7" y="14.6" width="80" height="80"/></clipPath>
<g clip-path="url(#m3r6b)">
<g clip-path="url(#m3r6)">
<path fill="#F5DEB3" d="M17.2 13.9 52.5 13.9 53.8 19.5 56.9 23.3 60.7 26.5 65.1 28.4 68.3 27.1 64.7 30.3 62.6 34.7 63.9 37.2 61.3 39.7 60.7 43.5 58.2 45.4 58.8 49.2 57.5 52.4 58.2 54.9 55.7 55.5 55 58 55.7 62.4 54.4 65 55.7 67.5 51.9 68.1 50 65.6 51.9 62.4 52.5 58.7 49.3 57.4 44.9 57.4 43.7 57.1 41.1 54.9 38 53 34.2 50.5 32.3 46 25.4 48.8 17.2 51.3Z"/>
<path fill="#FFD700" d="M18.2 42.5 18.8 36.1 18.2 29.8 17.5 23.5 19.4 17.2 23.2 10.9 27 5.9 30.8 4 42.1 4 43.4 9.6 42.1 17.2 40.3 24.8 38.4 32.4 35.8 38.7 30.8 43.7 23.2 45Z"/>
<path fill="#FFA500" d="M19.4 41.2 20.1 35.5 19.4 29.8 18.8 23.5 20.7 17.2 24.2 11.5 27.8 6.9 31.4 4 41.1 4 42.1 9.6 40.9 17 39 24.5 37.1 31.7 34.6 37.7 30.2 42.2 23.5 43.2Z"/>
<path fill="#FF4500" d="M20.7 39.9 21.3 34.9 20.7 29.8 20.1 23.5 22 17.5 25.2 12.2 28.5 7.9 31.8 5.6 40.1 5.4 41.1 9.9 39.9 16.7 38 24.2 36.1 31.1 33.6 36.7 29.5 40.7 23.9 41.6Z"/>
<path fill="#B22222" d="M22 38.7 22.6 34.4 22 29.8 21.5 23.5 23.2 17.7 26.2 12.8 29.3 8.9 32.3 6.6 39.1 6.4 40.1 10.2 38.9 16.5 37 23.8 35.1 30.5 32.6 35.6 28.9 39.2 24.2 39.9Z"/>
<path fill="#FFB6C1" d="M23.9 36.8 24.2 33.6 23.9 29.8 23.2 24.8 24.7 19.7 27.3 14.7 30 10.7 32.8 8.4 37.9 8.1 38.6 10.9 37.4 16.2 35.6 23.3 33.6 29.6 31.3 34.1 28.3 37.2 25.1 37.7Z"/>
<path fill="#FF1493" d="M30.2 12.2 33.3 9.6 36.8 10.3 37.4 14.1 35.2 17.2 32.1 17.2 30.2 15.3Z"/>
<path fill="#FF1493" d="M26.4 22.3 28.9 21.6 28.9 24.8 26.8 24.8Z"/>
<path fill="#96BE32" d="M33.6 45.4 38 37.2 41.1 29.6 44.9 22.1 48.7 17.7 52.5 13.9 54.4 13.9 49.3 20.8 45.6 27.1 43 34.7 41.1 42.3 40.5 52.4 38 53 34.2 50.5Z"/>
<path fill="#BEF064" d="M35.5 46 39.9 36 43 28.4 46.8 22.1 50.6 18.3 49.3 21.4 45.8 27.7 43.7 35.3 41.8 42.9 41.1 52.4 38.6 51.7Z"/>
<path fill="#20B2AA" d="M39.9 30.3 44.9 22.7 50 18.9 53.8 19.5 56.9 23.3 60.7 26.5 65.1 28.4 68.3 27.1 64.7 30.3 62.6 34.7 63.9 37.2 61.3 39.7 60.7 43.5 58.2 45.4 58.8 49.2 57.5 52.4 58.2 54.9 55.7 55.5 55 58 55.7 62.4 54.4 65 55.7 67.5 51.9 68.1 50 65.6 51.9 62.4 52.5 58.7 49.3 57.4 44.9 57.4 42.4 54.2 39.9 48.6 39.3 39.7Z"/>
<path fill="#B0E0E6" d="M40.5 30.9 45.3 23.6 50 19.8 53.5 20.3 56.7 24.1 60.4 27.1 64.5 28.9 64 30.7 62 34.7 63 37.2 60.7 39.7 59.9 43.5 57.4 45.4 58.1 49.2 56.8 52.4 57.4 54.9 55.2 55.5 54.4 58 55 62.4 53.8 65 54.6 67 52.1 67.5 50.6 65.6 52.4 62.4 52.9 58.4 49.3 56.8 45.3 56.8 42.9 53.9 40.5 48.3 39.9 39.7Z"/>
<path fill="#7896F0" d="M41.1 31.5 45.8 24.3 50 20.8 53.1 21.1 56.3 24.8 60.2 27.9 63.2 29.4 61.3 34.7 62.2 37.2 60.1 39.7 59.2 43.5 56.7 45.4 57.3 49.2 56 52.4 56.7 54.6 54.6 55.1 53.8 58 54.4 62.4 53.1 64.7 53.8 66.5 52.4 66.9 51.2 65.6 52.9 62.4 53.3 58 49.3 56.1 45.6 56.1 43.4 53.4 41.1 48.1 40.5 39.7Z"/>
<path fill="#4169E1" d="M41.8 32.2 46.3 25.1 50 21.8 52.9 21.8 55.9 25.6 59.9 28.6 62.2 29.9 60.7 34.7 61.5 37.2 59.4 39.7 58.4 43.5 55.9 45.4 56.5 49.2 55.3 52.4 55.9 54.4 54.1 54.9 53.1 58 53.8 62.4 52.6 64.5 52.9 66 51.9 65.6 53.4 62.4 53.6 57.7 49.3 55.5 45.8 55.5 43.9 52.9 41.8 47.8 41.1 39.7Z"/>
<path fill="#7896F0" d="M56.3 36 62.6 34.7 63.2 37.8 61.3 39.7 60.1 43.5 56.9 42.9Z"/>
<path fill="#0000C8" d="M41.1 32.2 46.2 36 50.6 43.5 54.4 51.1 55.7 56.1 51.9 58 47.5 56.8 44.3 52.4 41.8 46 40.5 38.5Z"/>
<path fill="#0000C8" d="M57.5 25.6 60.7 28.6 57.9 31.9 54.6 28.6Z"/>
<path fill="#9370DB" d="M43.7 36 47.5 39.1 51.2 45.4 51.9 51.1 50 56.1 47.5 54.9 44.9 48.6 43.7 42.3Z"/>
<path fill="#FFFFFF" d="M41.1 17 43 16.4 44.9 22.1 46.8 28.4 49.3 33.4 51.9 36.6 55.7 35.3 56.3 37.2 51.9 39.1 48.7 37.2 45.6 32.2 43 25.9Z"/>
</g>
</g>
<clipPath id="m3r7"><path d="M31.9 77.5 35.7 76.6 36.7 81.3 35.2 87.9 36.7 91.7 31 92.7 30 89.8 31.9 83.2Z"/><path d="M30 89.8 36.7 91.7 40.5 95.5 44.2 97.4 46.1 103.1 42.3 105.9 40.5 103.1 36.7 101.2 32.9 97.4 30 95.5Z"/></clipPath>
<clipPath id="m3r7b"><rect x="17.7" y="60.6" width="44" height="52"/></clipPath>
<g clip-path="url(#m3r7b)">
<g clip-path="url(#m3r7)">
<path fill="#20B2AA" d="M31.9 77.5 35.7 76.6 36.7 81.3 35.2 87.9 36.7 91.7 31 92.7 30 89.8 31.9 83.2Z"/>
<path fill="#BEF064" d="M30 89.8 36.7 91.7 40.5 95.5 44.2 97.4 46.1 103.1 42.3 105.9 40.5 103.1 36.7 101.2 32.9 97.4 30 95.5Z"/>
<path fill="#96BE32" d="M36.7 96.4 41.4 96.4 45.2 98.3 47.1 104 43.3 105.9 40.5 106.9 37.6 103.1Z"/>
</g>
</g>
<clipPath id="m3r8"><path d="M-134.6 24.4 -129.6 19.3 -124.5 18.1 -120.7 16.8 -119.5 11.8 -117.6 6.1 -115.7 1 -115.1 -3.4 -109.4 -6.5 -103.1 -6.5 -98 -4.6 -93.6 -0.8 -90.5 1.7 -87.9 4.2 -91.7 6.1 -92 9.2 -89.8 11.8 -86.7 13.7 -86.7 17.4 -85.4 22.5 -85.4 27.5 -86.7 32.6 -89.2 36.4 -93 36.4 -91.7 32.6 -91.1 27.5 -93.6 23.1 -96.8 21.9 -101.8 23.8 -106.9 25 -111.9 27.5 -117 26.9 -121.4 23.1 -125.8 25 -131.5 26.9Z"/><path d="M-85.4 12.4 -81.6 7.4 -76.6 6.1 -71.5 7.4 -67.8 11.1 -66.5 14.9 -69 18.7 -67.8 22.5 -71.5 21.2 -75.3 23.8 -79.1 22.5 -81.6 23.8 -82.9 20 -86 17.4Z"/><path d="M-88.6 7.4 -82.9 5.5 -80.4 7.4 -82.9 9.9 -84.8 13 -86 17.4 -86.7 13.7 -89.8 11.8Z"/></clipPath>
<clipPath id="m3r8b"><rect x="-142.3" y="-65.4" width="80" height="101"/></clipPath>
<g clip-path="url(#m3r8b)">
<g clip-path="url(#m3r8)">
<path fill="#9370DB" d="M-134.6 24.4 -129.6 19.3 -124.5 18.1 -120.7 16.8 -119.5 11.8 -117.6 6.1 -115.7 1 -115.1 -3.4 -109.4 -6.5 -103.1 -6.5 -98 -4.6 -93.6 -0.8 -90.5 1.7 -87.9 4.2 -91.7 6.1 -92 9.2 -89.8 11.8 -86.7 13.7 -86.7 17.4 -85.4 22.5 -85.4 27.5 -86.7 32.6 -89.2 36.4 -93 36.4 -91.7 32.6 -91.1 27.5 -93.6 23.1 -96.8 21.9 -101.8 23.8 -106.9 25 -111.9 27.5 -117 26.9 -121.4 23.1 -125.8 25 -131.5 26.9Z"/>
<path fill="#4169E1" d="M-85.4 12.4 -81.6 7.4 -76.6 6.1 -71.5 7.4 -67.8 11.1 -66.5 14.9 -69 18.7 -67.8 22.5 -71.5 21.2 -75.3 23.8 -79.1 22.5 -81.6 23.8 -82.9 20 -86 17.4Z"/>
<path fill="#9370DB" d="M-88.6 7.4 -82.9 5.5 -80.4 7.4 -82.9 9.9 -84.8 13 -86 17.4 -86.7 13.7 -89.8 11.8Z"/>
<path fill="#4169E1" d="M-134.6 24.4 -129.6 19.3 -124.5 18.1 -123.3 21.2 -125.8 25 -131.5 26.9Z"/>
<path fill="#B0E0E6" d="M-134.6 24.4 -131.5 21.9 -129.6 25 -131.5 26.9Z"/>
<path fill="#0000C8" d="M-115.1 -3.4 -109.4 -5.9 -110.7 -1.5 -113.8 1Z"/>
<path fill="#0000C8" d="M-99.3 -5.3 -93.6 -0.8 -94.9 1 -98.7 -2.1Z"/>
<path fill="#0000C8" d="M-93.6 30.1 -89.2 28.8 -86.7 32.6 -91.7 35.1Z"/>
<path fill="#9370DB" d="M-86 12.4 -81.6 11.1 -79.1 14.9 -82.9 20 -86 17.4Z"/>
<path fill="#0000C8" d="M-82.9 11.1 -74.1 12.4 -71.5 16.2 -75.3 18.7 -80.4 17.4Z"/>
<path fill="#B0E0E6" d="M-80.4 20 -71.5 19.3 -70.3 21.9 -76.6 23.1Z"/>
<path fill="#FFFFFF" d="M-76 17.2 -72.2 16.9 -72 20 -75.6 20.2Z"/>
</g>
</g>
<clipPath id="m3r9"><path d="M-92.4 34.7 -95.3 39.1 -94.3 43.5 -93 47.6 -95.5 50.5 -99.3 53.6 -103.1 57.4 -104.3 62.4 -96.8 58 -89.2 53 -81.6 49.2 -78.5 52.4 -70.3 48.3 -61.4 46.7 -61.4 25.9 -67.8 25.9 -68.4 33.4 -70.3 38.5 -72.2 37.2 -74.1 33.4 -77.2 32.8 -78.5 37.2 -81 40.4 -82.9 39.1 -83.9 34.7 -86 35.3 -87.3 39.1 -89.2 37.8 -88.8 34.7Z"/><path d="M-69.6 77.6 -61.4 69.4 -61.4 75.1 -65.9 80.7Z"/></clipPath>
<clipPath id="m3r9b"><rect x="-142.3" y="24.6" width="80" height="70"/></clipPath>
<g clip-path="url(#m3r9b)">
<g clip-path="url(#m3r9)">
<path fill="#9370DB" d="M-92.4 34.7 -95.3 39.1 -94.3 43.5 -93 47.6 -95.5 50.5 -99.3 53.6 -103.1 57.4 -104.3 62.4 -96.8 58 -89.2 53 -81.6 49.2 -78.5 52.4 -70.3 48.3 -61.4 46.7 -61.4 25.9 -67.8 25.9 -68.4 33.4 -70.3 38.5 -72.2 37.2 -74.1 33.4 -77.2 32.8 -78.5 37.2 -81 40.4 -82.9 39.1 -83.9 34.7 -86 35.3 -87.3 39.1 -89.2 37.8 -88.8 34.7Z"/>
<path fill="#4169E1" d="M-69.6 77.6 -61.4 69.4 -61.4 75.1 -65.9 80.7Z"/>
<path fill="#0000C8" d="M-92.4 29.6 -89.2 30.9 -91.7 34.7 -93.6 33.4Z"/>
<path fill="#0000C8" d="M-103.7 56.1 -101.2 54.9 -101.8 59.3 -103.7 61.4Z"/>
<path fill="#0000C8" d="M-67.8 26.5 -61.4 26.5 -61.4 30.9 -66.5 30.3Z"/>
</g>
</g>
<clipPath id="m3r10"><path d="M44.9 -103.2 49.3 -101.6 55.7 -98.2 63.9 -94.8 75.2 -111.7 80.5 -108 76.9 -100.1 79.6 -98.8 80.9 -95.7 84.7 -93.8 86.9 -94.4 86.6 -91.2 87.5 -86.8 80.9 -86.2 73.3 -85.6 65.7 -84.3 62 -86.2 58.2 -89.3 54.4 -90 51.9 -92.5 50 -95 47.5 -97.6 44.9 -99.4 41.8 -101.3Z"/><path d="M33.6 -95 34.8 -97.8 38.6 -99.8 42.4 -101.6 44.9 -103.2 45.3 -99.4 43 -95 41.1 -91.9 38 -91 34.8 -91.2Z"/><path d="M86.6 -109.9 90 -107.6 85.3 -102.6 81.5 -99.4 80.3 -100.7 83.4 -106.4Z"/></clipPath>
<clipPath id="m3r10b"><rect x="17.7" y="-145.4" width="80" height="80"/></clipPath>
<g clip-path="url(#m3r10b)">
<g clip-path="url(#m3r10)">
<path fill="#9370DB" d="M44.9 -103.2 49.3 -101.6 55.7 -98.2 63.9 -94.8 75.2 -111.7 80.5 -108 76.9 -100.1 79.6 -98.8 80.9 -95.7 84.7 -93.8 86.9 -94.4 86.6 -91.2 87.5 -86.8 80.9 -86.2 73.3 -85.6 65.7 -84.3 62 -86.2 58.2 -89.3 54.4 -90 51.9 -92.5 50 -95 47.5 -97.6 44.9 -99.4 41.8 -101.3Z"/>
<path fill="#4169E1" d="M33.6 -95 34.8 -97.8 38.6 -99.8 42.4 -101.6 44.9 -103.2 45.3 -99.4 43 -95 41.1 -91.9 38 -91 34.8 -91.2Z"/>
<path fill="#4169E1" d="M86.6 -109.9 90 -107.6 85.3 -102.6 81.5 -99.4 80.3 -100.7 83.4 -106.4Z"/>
<path fill="#0000C8" d="M36.7 -98.2 42.4 -100.7 43.7 -97.6 41.8 -93.8 38 -92.5Z"/>
<path fill="#9370DB" d="M39 -97.6 41.8 -98.6 42 -95.7 39.5 -94.8Z"/>
<path fill="#FFFFFF" d="M38.6 -95.7 42.4 -96.9 43 -93.8 40.3 -91.5Z"/>
<path fill="#4169E1" d="M78.4 -90 82.2 -95 84.7 -93.5 86.6 -91.2 86.9 -87.2 80.9 -86.4Z"/>
<path fill="#0000C8" d="M51.9 -93.1 55.7 -90 58.2 -89.1 54.4 -89.7Z"/>
</g>
</g>
<clipPath id="m3r11"><path d="M-19.4 -81.7 -13.7 -82.3 -11.8 -79.8 -8 -77.3 -5.5 -73.5 -3 -69.7 -1.7 -64.6 -19.4 -64.6 -20 -69.7 -18.8 -74.7 -20.7 -78.5Z"/><path d="M-6.8 -75.4 -3 -69.7 3.3 -67.2 8.4 -64.6 -3 -64.6 -4.9 -69.7Z"/><path d="M-24.4 -77.3 -20.7 -78.5 -18.8 -74.7 -20 -69.7 -19.4 -64.6 -23.2 -64.6 -21.9 -71 -24.4 -74.7Z"/></clipPath>
<clipPath id="m3r11b"><rect x="-42.3" y="-82.4" width="80" height="17.5"/></clipPath>
<g clip-path="url(#m3r11b)">
<g clip-path="url(#m3r11)">
<path fill="#9370DB" d="M-19.4 -81.7 -13.7 -82.3 -11.8 -79.8 -8 -77.3 -5.5 -73.5 -3 -69.7 -1.7 -64.6 -19.4 -64.6 -20 -69.7 -18.8 -74.7 -20.7 -78.5Z"/>
<path fill="#4169E1" d="M-6.8 -75.4 -3 -69.7 3.3 -67.2 8.4 -64.6 -3 -64.6 -4.9 -69.7Z"/>
<path fill="#B0E0E6" d="M-24.4 -77.3 -20.7 -78.5 -18.8 -74.7 -20 -69.7 -19.4 -64.6 -23.2 -64.6 -21.9 -71 -24.4 -74.7Z"/>
<path fill="#0000C8" d="M-6.8 -75.4 -3 -69.7 0.8 -66.5 2.1 -64.6 -3 -64.6 -4.9 -69.7Z"/>
</g>
</g>
<clipPath id="m3r12"><path d="M-64.4 -31.5 -61.6 -33.8 -57.8 -36.7 -55.9 -39.5 -53.1 -41.4 -49.3 -40.5 -49.3 -31 -53.1 -34.8 -56.9 -32 -60.7 -31 -62.6 -32.4Z"/><path d="M-72 -17.3 -69.2 -14.9 -64.4 -14 -59.7 -15.9 -59.7 -8.3 -61.6 -8.3 -66.3 -10.2 -71.1 -10.2 -74.9 -12.1Z"/><path d="M-73 -3.6 -68.2 -5.9 -62.2 -2.6 -62.2 1.2 -72 1.2Z"/></clipPath>
<clipPath id="m3r12b"><rect x="-92.3" y="-59.4" width="30.1" height="60"/></clipPath>
<g clip-path="url(#m3r12b)">
<g clip-path="url(#m3r12)">
<path fill="#20B2AA" d="M-64.4 -31.5 -61.6 -33.8 -57.8 -36.7 -55.9 -39.5 -53.1 -41.4 -49.3 -40.5 -49.3 -31 -53.1 -34.8 -56.9 -32 -60.7 -31 -62.6 -32.4Z"/>
<path fill="#20B2AA" d="M-72 -17.3 -69.2 -14.9 -64.4 -14 -59.7 -15.9 -59.7 -8.3 -61.6 -8.3 -66.3 -10.2 -71.1 -10.2 -74.9 -12.1Z"/>
<path fill="#B0E0E6" d="M-73 -3.6 -68.2 -5.9 -62.2 -2.6 -62.2 1.2 -72 1.2Z"/>
<path fill="#B0E0E6" d="M-70.1 -14.9 -64.4 -13 -60.7 -14 -60.7 -11.1 -66.3 -11.6 -70.6 -12.6Z"/>
</g>
</g>
<circle r="7" fill="#fff"/>
<g fill="none" stroke="#000" stroke-width="1" stroke-linejoin="round">
<path d="M-115.3 -80.7 -112.1 -85.9 -109 -86.2 -110.5 -82.7 -107.4 -83 -101.9 -83.4 -96.3 -82.3 -94 -79.1 -89.2 -80.7 -86.9 -79.6 -83.7 -81.8 -79.8 -79.1 -76.6 -80.7 -70.3 -81.1 -66.4 -79.9 -62.4 -83 -57.7 -84.9 -53.3 -85.9 -54.2 -89.3 -51.7 -92.2 -50.1 -89.3 -48.6 -87 -47 -90.9 -46.3 -95.7 -48.2 -98.5 -46.7 -102 -44.3 -107.5 -41.3 -112.2M-100 -88.1 -95.6 -87.5 -91.6 -85.9 -94 -85.4 -97.9 -87ZM-51.7 -103.5 -49 -102.8 -48.2 -99.6 -50.1 -98 -52.2 -100.4ZM-41.4 -112.2 -37.1 -116.2 -32.4 -120.1 -32.7 -119 -38.7 -111.4 -41.5 -104.3 -40.3 -101.2 -37.1 -103.9 -32.4 -99.6 -29.2 -102 -25.3 -102.8 -22.9 -95.7 -23.7 -89.3 -27.6 -87 -28 -83 -24.5 -83.8 -19.8 -82.3 -17.4 -79.9 -21.3 -78.3 -24.5 -77.5 -22.1 -74.4 -18.2 -72.8 -17.4 -69.6 -19.8 -64.9 -22.1 -61 -27.6 -58.6 -35.5 -56.2 -43.4 -53.9 -49.7 -51.5 -51.3 -48.3M-29.2 -123.7 -26.4 -125.9 -24.5 -128M-7.6 -134.8 -6.5 -134.8 -6.5 -133.7 -7.6 -133.7ZM16.1 -130 17.2 -130 17.2 -128.9 16.1 -128.9ZM-26.1 -101.2 -22.9 -102 -22.1 -100.4 -25.3 -99.6ZM-16.6 -90.9 -12.7 -91.2 -12.7 -89.7 -16.3 -89.7ZM37 -42.8 33.9 -46.8 30.7 -51.5 27.6 -56.2 24.4 -61 19.7 -64.1 14.9 -67.3 13.4 -71.2 11.8 -68.1 7.1 -67.3 0.8 -69.6 -5.6 -75.2 -11.9 -80.7 -11.1 -83.8 -8.7 -86.2 -4 -85.4 -0.8 -82.3 0.8 -87 3.1 -89.3 2.3 -94.1 5.5 -95.7 11.8 -98.8 18.1 -102.8 22.8 -100.4 27.6 -102.8 33.9 -108.3 34.7 -113 39.4 -115.4 43.3 -119.3 48.7 -122.5M17.8 -101.1 22.8 -100.1 26.6 -101.3 30.4 -103.9 33.6 -107.6 34.2 -111.4 37.4 -113.3 38.6 -116.5 41.8 -117.1 43.7 -120.3 47.5 -120.9 50 -124 54.4 -125.9 54.4 -124.7 53.8 -120.3 52.5 -115.2 51.2 -110.8 48.1 -107.6 44.9 -104.9 40.5 -102.3 35.5 -99.4 30.4 -95.7 26.6 -92.5 25.6 -90.5 28.5 -91 31.7 -92.8 34.8 -91 38 -90 41.8 -91.9 44.9 -95 48.1 -96.9 51.9 -95 53.1 -91.9 55.7 -90 59.4 -88.1 64.5 -84.9 68.3 -84.3 73.3 -85.6 80.9 -86.2 87.5 -86.8 86.6 -91.2 86.9 -94.4 84.7 -93.8 80.9 -95.7 79.6 -98.8 76.9 -99.8 78.4 -102.6 80.3 -107.6 83.4 -112.9M86.6 -110.8 83.4 -106.4 80.3 -100.7 81.5 -99.4 85.3 -102.6 90 -107.6M-17.8 -81.5 -19.7 -79.2 -20.1 -76 -18.2 -72.9 -19.5 -67.8 -22 -63.4 -25.8 -59.6 -30.8 -57.1 -37.2 -55.2 -42.2 -53.3M-2.5 -64.3 0.1 -64.7 0.4 -63 -2.1 -62.8ZM22.8 -65.5 24.1 -60.5 29.8 -57.3 31.7 -51.6 34.8 -46.6 39.9 -46.6 41.8 -45.3 46.8 -42.8 49.3 -42.2 48.7 -38.4 44.9 -35.8 46.2 -32.1 49.3 -30.2 50 -25.1 51.2 -22 55 -16.9 49.3 -18.8 44.9 -16.9 43 -13.8 44.9 -9.3 47.5 -4.9 49.3 -1.1 53.1 3.3 55.7 7.1 56.9 10.2 60.7 8.9 62 11.5 60.7 14.5M28.5 -40.3 31.7 -41.5 34.2 -39 33.6 -35.8 30.4 -36.2ZM25.4 -44.7 27.3 -45.3 28.5 -42.2 26.6 -41.5ZM31 -6.2 34.2 -9.3 38 -8.7 38.6 -5.6 35.5 -1.8 31.7 -1.1ZM-106.1 65.6 -105.2 62.6 -104.5 58.8 -102.3 55.6 -99.2 53.1 -95.4 48.7 -93.5 44.3 -94.8 41.1 -96.7 43 -100.4 42.4 -101.1 39.2 -97.9 36.7 -94.1 36.1 -92.9 33.5 -89.7 32.3 -89.7 29.8 -91.6 26 -93.5 22.2 -96.7 20.3 -101.7 19.7 -106.8 21.6 -111.2 24.1 -116.2 24.7 -120.6 22.2 -125.7 23.5 -130.7 26 -134.5 23.5 -128.8 17.8 -124.4 17.1 -120.6 15.9 -119.4 10.8 -116.8 4.5 -115 -0.5 -114.3 -4.9 -108 -8.7 -101.7 -8.1 -96.7 -5.6 -92.9 -1.8 -90.4 1.4 -87.8 4.5 -85.3 3.3 -82.1 4.5 -79 2M-90.6 7.1 -87.8 4.5 -82.8 5.8 -80.3 5.2 -81.5 8.9 -84.7 10.8 -86.6 14 -88.5 12.7 -89.7 10.2ZM-116.6 20.7 -114.3 20.7 -114.3 22.4 -116.6 22.4ZM-95.1 10.6 -92.9 10.6 -92.9 12.4 -95.1 12.4ZM-95.8 15.6 -93.5 15.6 -93.5 17.4 -95.8 17.4ZM-86.7 26.2 -82.9 24.3 -77.9 25 -71.5 23.7 -67.8 25 -68.4 30 -70.3 35.1 -71.5 38.8 -73.4 37.6 -74.7 32.5 -76.6 31.9 -77.2 36.3 -79.1 40.1 -81 38.2 -81.6 33.8 -83.5 35.1 -84.8 39.5 -86.7 37.6 -87.3 32.5 -88 28.8ZM18.3 74.5 15.1 80.8 12.8 87.1 9.6 93.4 8 98.2 8.8 103.7 11.2 108.4 14.3 110 16.7 106.8 19.9 105.3 22.2 107.6 24.6 112.4 26.9 116.3 28.5 117.1 30.9 113.1 31.7 108.4 33.3 104.5 34 100.5 32.5 96.6 30.6 91.9 30.1 87.9 30.9 82.4 31.7 77.7 33.3 76.1 35.6 76.9 36.4 80.8 34.8 85.5 36.4 90.3 39.6 94.2 43.5 94.2 46.7 91.1 49.8 89.5 51.4 86.3 53.8 85.2 54.9 88.4 51.4 90.3 48.2 92.6 45.1 95.8 43.5 99.7 45.9 102.9 46.7 105.3 43.5 104.5 41.9 102.1 40.4 106 41.9 110 42.7 113.9 41.1 117.1 37.2 118.7 34 119.5 30.9 121.8 28.5 121.8 26.2 123.4 21.4 125 16.7 128.1 13.5 130.5 10.4 133.6 7.2 136.8 4.9 140 3.3 142M19.1 112.4 17.5 115.5 18.3 120.2 20.6 122.6 22.2 120.2 21.4 116.3 20.6 113.1ZM23 117.1 25.4 117.4 26.5 120.2 24.6 122.1 22.7 120.6ZM-13.3 110 -10.1 109.2 -7 110 -6.2 113.1 -7 115.5 -4.6 117.9 -3.8 121.8 -1.4 125.8 0.9 129.7 3.3 132.9 4.1 136 2.5 139.2 -1.4 140 -5.4 139.2 -10.1 140.4 -8.5 137.6 -10.9 136 -8.5 133.6 -9.3 130.5 -10.9 128.1 -9.3 125 -10.9 121.8 -12.5 118.7 -11.7 114.7 -13.6 112.4ZM-21.9 125 -18.8 122.6 -15.6 121 -12.5 122.6 -13.3 126.6 -12.5 129.7 -15.6 132.9 -20.4 134.1 -23.5 132.9 -22.7 128.9ZM-12.2 95.3 -11.1 95.3 -11.1 96.4 -12.2 96.4ZM35.3 106.8 36.6 106.8 36.6 108.4 35.3 108.4ZM-38.7 13.5 -33.9 12.7 -29.2 11.9 -24.5 12.7 -19.7 14.3 -15 15.8 -11.9 18.2 -9.5 21.4 -11.1 24.5 -8.7 26.1 -6.3 28.5 -7.1 31.6 -9.5 35.6 -11.1 39.5 -12.6 43.4 -14.2 46.6 -16.6 49.7 -18.2 52.9 -20.5 55.3 -22.1 57.6 -25.3 60 -26.1 63.2 -29.2 63.9 -33.9 64.7 -38.7 64.7 -43.4 66.3 -48.1 65.5 -52.9 64.7 -56 66.3 -60 68.7 -63.1 71 -66.3 73.4 -68.6 75.8 -70.2 76.6 -72.6 73.4 -73.7 68.7 -73.4 63.9 -71.8 59.2 -69.4 55.3 -66.3 51.3 -62.3 48.2 -58.4 45.8 -54.4 44.2 -55.2 41.1 -52.9 38.7 -50.5 39.5 -48.9 36.3 -45.8 33.2 -43.4 29.2 -41.8 25.3 -41 21.4 -41.8 18.2 -40.2 15ZM-33.9 76.6 -30.8 75 -26.1 77.4 -21.3 78.1 -19.7 81.3 -22.1 84.4 -27.6 86 -31.6 85.2 -34.7 82.1ZM6.9 30.9 11 29.6 15.4 31.5 16 35.3 13.5 39.7 12.2 44.2 9.1 41.6 6.9 36.6ZM-45.3 1.5 -40.8 -1.6 -33.3 -2.9 -27 -2.2 -21.9 0.9 -19.4 5.3 -20.7 10.4 -25.7 11.6 -30.8 9.1 -37.1 10.4 -43.4 9.1 -45.9 5.3ZM55.7 7.9 60.7 9.2 59.4 12.4 62 14.9 55.7 16.1 59.4 17.4 64.5 18.7 69.5 19.3 73.3 20.6 76.5 23.7 77.1 26.2 75.2 25.6 73.3 23.1 69.5 21.8 64.5 21.2 59.4 20.6 55.7 19.3 53.8 18.7 56.9 23.1 60.7 26.2 65.1 27.5 68.9 26.9 65.1 30 62.6 33.8 63.9 37.6 61.3 40.1 59.4 45.2 58.2 50.2 58.8 54.5M58.8 49.2 57.5 52.4 58.2 54.9 55.7 55.5 55 58 55.7 62.4 54.4 65 55.7 67.5 51.9 68.1 50 65.6 51.9 62.4 52.5 58.7 49.3 57.4 43 58 36.7 58.7 32.9 58 29.2 58.7 25.4 60.6 22.8 65 20.3 68.8 17.8 72.5M41.1 17 43 16.4 44.9 22.1 46.8 28.4 49.3 33.4 51.9 36.6 55.7 35.3 56.3 37.2 51.9 39.1 48.7 37.2 45.6 32.2 43 25.9ZM43 66.2 48.1 65 50.6 68.8 54.4 70M53.8 77 57.5 77.6 59.4 80.1 57.5 82 55 80.7ZM48.7 85.2 53.1 83.6 55.7 85.8 53.8 89.6 50 90.2ZM112.8 -39.8 116.6 -41.5 121.7 -41.5 126.7 -38.9 130.5 -34.8 132 -31 130.5 -31.6 128.6 -34.8 125.5 -37.3 121 -39.2 116.6 -39.4 112.8 -38.9ZM-42.3 -53.7 -49.3 -51.8 -50.7 -47.1 -53.1 -41.4 -55.9 -39.5 -57.8 -36.7 -61.6 -33.8 -64.4 -31.5 -67.3 -32 -69.2 -32 -69.7 -28.2 -72 -24.9 -73 -23M-73 -23 -76.3 -18.4 -74.4 -13.1 -70.3 -9.4 -66.3 -8.4 -61.7 -4.9 -66.3 -2.4 -70.3 -0.9 -72.3 0.6 -75.4 4 -72.3 5.6 -69 8.5 -74.3 11.6 -79.9 11.9 -82.8 8.7 -80.6 5.4 -79 2M-104.4 61.9 -105.7 66.3 -106.3 70.1 -109.5 73.9 -111.4 76.4 -113.9 77.1 -117.1 75.2 -119.6 73.3 -121.5 71.4M-121.5 71.4 -117.1 70.8 -113.3 73.3 -111.4 76.4M-138.9 -20.6 -133.4 -23 -127.1 -24.6 -126.3 -22.2 -131.8 -20.6 -138.1 -19.1ZM-137.4 -17.5 -131.8 -19.1 -125.5 -19.9 -125.5 -18 -131.8 -16.4 -136.6 -15.9ZM-114.2 -27 -110.5 -25.4 -107.9 -23.3 -109 -22.5 -112.1 -24.3ZM-101.6 -38.5 -99 -36.4 -99.5 -32.8 -101.6 -32.5 -101.9 -35.6ZM-90.5 -44.3 -87.7 -45.4 -85.8 -41.1 -87.7 -38 -86.9 -31.7 -88.9 -30.9 -89.6 -36.4 -90.8 -40.4ZM-73.2 -45.9 -71.1 -47.5 -69.5 -44.3 -67.2 -46.7 -68 -40.4 -70.3 -38.8 -72.7 -40.4ZM-54 -32.4 -50.8 -34.6 -47.1 -33.3 -45.2 -29.5 -46.4 -25.1 -49.6 -23.2 -53.4 -25.1 -54.9 -28.9ZM-49 -21.3 -44.5 -22.6 -42 -19.4 -43.3 -15 -47.7 -15ZM-41.4 -25.1 -37.6 -24.5 -37 -19.4 -40.1 -18.8ZM-50.8 -11 -45.2 -11.2 -44.5 -6.8 -49.6 -6.2ZM-62.2 -11.9 -56.5 -12.5 -55.9 -5.6 -62.2 -4.9ZM-43.3 -7.5 -37 -7.7 -36.3 -4.9 -42.6 -4.7ZM-45.2 1.4 -40.7 -1.8 -33.2 -3 -26.9 -2.4 -21.8 0.7 -19.3 5.2 -20.6 10.2 -25.6 11.5 -30.7 8.9 -37 10.2 -43.3 8.9 -45.8 5.2ZM-62.2 0.1 -54.6 0.7 -49.6 3.3 -50.2 8.9 -54.6 10.2 -62.2 10.2ZM-69.5 -31.5 -67 -32.2 -63.8 -30.3 -61.3 -28.4 -57.5 -27.7 -54.3 -25.8 -53.1 -22.7 -54.3 -18.9 -56.9 -16.4 -60.7 -14.5 -65.1 -15.1 -68.9 -17.6 -72 -18.9 -73.3 -23.3 -71.4 -27.1ZM22.2 22.4 24.1 18.7 26.6 14.9 28.5 13M23.5 23.1 26 19.3 28.5 16.1M-49.6 -20.8 -46.1 -21.7 -44 -18.9 -44.9 -14.5 -48 -13.6 -49.9 -17ZM-42.7 -24.6 -39.2 -25.5 -37.7 -22.1 -38.6 -17.9 -41.7 -17.6ZM-50.3 -8.6 -48 -9.6 -45.3 -9.1 -44.5 -7.3 -46.8 -6 -49.6 -6.3ZM-40.2 -8.1 -37.9 -9.1 -35.4 -8.3 -35.2 -6.8 -37.7 -6 -39.7 -6.3ZM-43.2 -14.1 -40.5 -15.4 -36.9 -14.6 -36.2 -12.9 -39.2 -11.6 -42.5 -12.1ZM-36.2 -16.9 -34.4 -17.6 -32.9 -16.1 -33.1 -13.4 -35.2 -12.9 -36.4 -14.9ZM-61.9 -11.1 -59.1 -12.6 -56.1 -11.8 -55.1 -8.8 -56.6 -6.5 -60.4 -6 -62.2 -8.3ZM-54.3 -5 -51.8 -2.5 -53.1 1.3 -50.6 3.8M-67 -10.1 -63.8 -8.2 -65.1 -5M-72 -13.9 -68.9 -12 -66.3 -13.2M-34.8 -5 -32.9 -1.2 -30.4 -1.9 -29.1 1.3"/>
</g>
</g>
<circle r="141.4" fill="none" stroke="#000" stroke-width="0.9"/>
</g>
<rect x="5.2" y="427.2" width="17.2" height="14" fill="#9370DB" stroke="#000" stroke-width="0.7"/>
<rect x="22.4" y="427.2" width="17.2" height="14" fill="#0000C8" stroke="#000" stroke-width="0.7"/>
<rect x="39.5" y="427.2" width="17.2" height="14" fill="#4169E1" stroke="#000" stroke-width="0.7"/>
<rect x="56.7" y="427.2" width="17.2" height="14" fill="#7896F0" stroke="#000" stroke-width="0.7"/>
<rect x="73.8" y="427.2" width="17.2" height="14" fill="#B0E0E6" stroke="#000" stroke-width="0.7"/>
<rect x="91" y="427.2" width="17.2" height="14" fill="#20B2AA" stroke="#000" stroke-width="0.7"/>
<rect x="108.1" y="427.2" width="17.2" height="14" fill="#BEF064" stroke="#000" stroke-width="0.7"/>
<rect x="125.3" y="427.2" width="17.2" height="14" fill="#96BE32" stroke="#000" stroke-width="0.7"/>
<rect x="142.4" y="427.2" width="17.2" height="14" fill="#F5DEB3" stroke="#000" stroke-width="0.7"/>
<rect x="159.6" y="427.2" width="17.2" height="14" fill="#DEB887" stroke="#000" stroke-width="0.7"/>
<rect x="176.7" y="427.2" width="17.2" height="14" fill="#FFD700" stroke="#000" stroke-width="0.7"/>
<rect x="193.9" y="427.2" width="17.2" height="14" fill="#FFA500" stroke="#000" stroke-width="0.7"/>
<rect x="211" y="427.2" width="17.2" height="14" fill="#FF4500" stroke="#000" stroke-width="0.7"/>
<rect x="228.2" y="427.2" width="17.2" height="14" fill="#B22222" stroke="#000" stroke-width="0.7"/>
<rect x="245.3" y="427.2" width="17.2" height="14" fill="#FFB6C1" stroke="#000" stroke-width="0.7"/>
<rect x="262.5" y="427.2" width="17.2" height="14" fill="#FF1493" stroke="#000" stroke-width="0.7"/>
<text class="h" x="22.4" y="456.8" font-size="12.3" text-anchor="middle">1</text>
<text class="h" x="39.5" y="456.8" font-size="12.3" text-anchor="middle">5</text>
<text class="h" x="56.7" y="456.8" font-size="12.3" text-anchor="middle">10</text>
<text class="h" x="73.8" y="456.8" font-size="12.3" text-anchor="middle">15</text>
<text class="h" x="91" y="456.8" font-size="12.3" text-anchor="middle">20</text>
<text class="h" x="108.1" y="456.8" font-size="12.3" text-anchor="middle">30</text>
<text class="h" x="125.3" y="456.8" font-size="12.3" text-anchor="middle">40</text>
<text class="h" x="142.4" y="456.8" font-size="12.3" text-anchor="middle">50</text>
<text class="h" x="159.6" y="456.8" font-size="12.3" text-anchor="middle">60</text>
<text class="h" x="176.7" y="456.8" font-size="12.3" text-anchor="middle">70</text>
<text class="h" x="193.9" y="456.8" font-size="12.3" text-anchor="middle">80</text>
<text class="h" x="211" y="456.8" font-size="12.3" text-anchor="middle">85</text>
<text class="h" x="228.2" y="456.8" font-size="12.3" text-anchor="middle">90</text>
<text class="h" x="245.3" y="456.8" font-size="12.3" text-anchor="middle">95</text>
<text class="h" x="262.5" y="456.8" font-size="12.3" text-anchor="middle">97</text>
<text class="s" x="1.9" y="418" font-size="13.4" textLength="44.2" lengthAdjust="spacingAndGlyphs">MEAN=</text>
<text class="s" x="60.3" y="418" font-size="13.4" textLength="33.9" lengthAdjust="spacingAndGlyphs">41.23</text>
<text class="s" x="108.1" y="418" font-size="13.4" textLength="31" lengthAdjust="spacingAndGlyphs">Min=</text>
<text class="s" x="159.6" y="418" font-size="13.4" textLength="26.5" lengthAdjust="spacingAndGlyphs">0.00</text>
<text class="s" x="199.6" y="418" font-size="13.4" textLength="34.6" lengthAdjust="spacingAndGlyphs">Max=</text>
<text class="s" x="248.4" y="418" font-size="13.4" textLength="34" lengthAdjust="spacingAndGlyphs">99.03</text>
<rect x="298.6" y="427.2" width="17.2" height="14" fill="#9370DB" stroke="#000" stroke-width="0.7"/>
<rect x="315.8" y="427.2" width="17.2" height="14" fill="#0000C8" stroke="#000" stroke-width="0.7"/>
<rect x="332.9" y="427.2" width="17.2" height="14" fill="#4169E1" stroke="#000" stroke-width="0.7"/>
<rect x="350.1" y="427.2" width="17.2" height="14" fill="#7896F0" stroke="#000" stroke-width="0.7"/>
<rect x="367.2" y="427.2" width="17.2" height="14" fill="#B0E0E6" stroke="#000" stroke-width="0.7"/>
<rect x="384.4" y="427.2" width="17.2" height="14" fill="#20B2AA" stroke="#000" stroke-width="0.7"/>
<rect x="401.5" y="427.2" width="17.2" height="14" fill="#BEF064" stroke="#000" stroke-width="0.7"/>
<rect x="418.7" y="427.2" width="17.2" height="14" fill="#96BE32" stroke="#000" stroke-width="0.7"/>
<rect x="435.8" y="427.2" width="17.2" height="14" fill="#F5DEB3" stroke="#000" stroke-width="0.7"/>
<rect x="453" y="427.2" width="17.2" height="14" fill="#DEB887" stroke="#000" stroke-width="0.7"/>
<rect x="470.1" y="427.2" width="17.2" height="14" fill="#FFD700" stroke="#000" stroke-width="0.7"/>
<rect x="487.3" y="427.2" width="17.2" height="14" fill="#FFA500" stroke="#000" stroke-width="0.7"/>
<rect x="504.4" y="427.2" width="17.2" height="14" fill="#FF4500" stroke="#000" stroke-width="0.7"/>
<rect x="521.6" y="427.2" width="17.2" height="14" fill="#B22222" stroke="#000" stroke-width="0.7"/>
<rect x="538.7" y="427.2" width="17.2" height="14" fill="#FFB6C1" stroke="#000" stroke-width="0.7"/>
<rect x="555.9" y="427.2" width="17.2" height="14" fill="#FF1493" stroke="#000" stroke-width="0.7"/>
<text class="h" x="315.8" y="456.8" font-size="12.3" text-anchor="middle">1</text>
<text class="h" x="332.9" y="456.8" font-size="12.3" text-anchor="middle">5</text>
<text class="h" x="350.1" y="456.8" font-size="12.3" text-anchor="middle">10</text>
<text class="h" x="367.2" y="456.8" font-size="12.3" text-anchor="middle">15</text>
<text class="h" x="384.4" y="456.8" font-size="12.3" text-anchor="middle">20</text>
<text class="h" x="401.5" y="456.8" font-size="12.3" text-anchor="middle">30</text>
<text class="h" x="418.7" y="456.8" font-size="12.3" text-anchor="middle">40</text>
<text class="h" x="435.8" y="456.8" font-size="12.3" text-anchor="middle">50</text>
<text class="h" x="453" y="456.8" font-size="12.3" text-anchor="middle">60</text>
<text class="h" x="470.1" y="456.8" font-size="12.3" text-anchor="middle">70</text>
<text class="h" x="487.3" y="456.8" font-size="12.3" text-anchor="middle">80</text>
<text class="h" x="504.4" y="456.8" font-size="12.3" text-anchor="middle">85</text>
<text class="h" x="521.6" y="456.8" font-size="12.3" text-anchor="middle">90</text>
<text class="h" x="538.7" y="456.8" font-size="12.3" text-anchor="middle">95</text>
<text class="h" x="555.9" y="456.8" font-size="12.3" text-anchor="middle">97</text>
<text class="s" x="295.3" y="418" font-size="13.4" textLength="44.2" lengthAdjust="spacingAndGlyphs">MEAN=</text>
<text class="s" x="353.7" y="418" font-size="13.4" textLength="33.9" lengthAdjust="spacingAndGlyphs">45.10</text>
<text class="s" x="401.5" y="418" font-size="13.4" textLength="31" lengthAdjust="spacingAndGlyphs">Min=</text>
<text class="s" x="453" y="418" font-size="13.4" textLength="26.5" lengthAdjust="spacingAndGlyphs">0.00</text>
<text class="s" x="493" y="418" font-size="13.4" textLength="34.6" lengthAdjust="spacingAndGlyphs">Max=</text>
<text class="s" x="541.8" y="418" font-size="13.4" textLength="34" lengthAdjust="spacingAndGlyphs">99.73</text>
<rect x="509.1" y="610.1" width="34.4" height="14.2" fill="#FF1493" stroke="#000" stroke-width="0.7"/>
<rect x="509.1" y="624.3" width="34.4" height="14.2" fill="#FFB6C1" stroke="#000" stroke-width="0.7"/>
<rect x="509.1" y="638.5" width="34.4" height="14.2" fill="#B22222" stroke="#000" stroke-width="0.7"/>
<rect x="509.1" y="652.7" width="34.4" height="14.2" fill="#FF4500" stroke="#000" stroke-width="0.7"/>
<rect x="509.1" y="666.9" width="34.4" height="14.2" fill="#FFA500" stroke="#000" stroke-width="0.7"/>
<rect x="509.1" y="681" width="34.4" height="14.2" fill="#FFD700" stroke="#000" stroke-width="0.7"/>
<rect x="509.1" y="695.2" width="34.4" height="14.2" fill="#DEB887" stroke="#000" stroke-width="0.7"/>
<rect x="509.1" y="709.4" width="34.4" height="14.2" fill="#F5DEB3" stroke="#000" stroke-width="0.7"/>
<rect x="509.1" y="723.6" width="34.4" height="14.2" fill="#96BE32" stroke="#000" stroke-width="0.7"/>
<rect x="509.1" y="737.8" width="34.4" height="14.2" fill="#BEF064" stroke="#000" stroke-width="0.7"/>
<rect x="509.1" y="752" width="34.4" height="14.2" fill="#20B2AA" stroke="#000" stroke-width="0.7"/>
<rect x="509.1" y="766.2" width="34.4" height="14.2" fill="#B0E0E6" stroke="#000" stroke-width="0.7"/>
<rect x="509.1" y="780.4" width="34.4" height="14.2" fill="#7896F0" stroke="#000" stroke-width="0.7"/>
<rect x="509.1" y="794.5" width="34.4" height="14.2" fill="#4169E1" stroke="#000" stroke-width="0.7"/>
<rect x="509.1" y="808.7" width="34.4" height="14.2" fill="#0000C8" stroke="#000" stroke-width="0.7"/>
<rect x="509.1" y="822.9" width="34.4" height="14.2" fill="#9370DB" stroke="#000" stroke-width="0.7"/>
<text class="s" x="551.7" y="628.4" font-size="12.2" textLength="15" lengthAdjust="spacingAndGlyphs">40</text>
<text class="s" x="551.7" y="642.6" font-size="12.2" textLength="15" lengthAdjust="spacingAndGlyphs">30</text>
<text class="s" x="551.7" y="656.8" font-size="12.2" textLength="15" lengthAdjust="spacingAndGlyphs">20</text>
<text class="s" x="551.7" y="671" font-size="12.2" textLength="15" lengthAdjust="spacingAndGlyphs">15</text>
<text class="s" x="551.7" y="685.1" font-size="12.2" textLength="15" lengthAdjust="spacingAndGlyphs">10</text>
<text class="s" x="555.7" y="699.3" font-size="12.2" textLength="7" lengthAdjust="spacingAndGlyphs">5</text>
<text class="s" x="555.7" y="713.5" font-size="12.2" textLength="7" lengthAdjust="spacingAndGlyphs">2</text>
<text class="s" x="555.7" y="727.7" font-size="12.2" textLength="7" lengthAdjust="spacingAndGlyphs">0</text>
<text class="s" x="551.5" y="741.9" font-size="12.2" textLength="15.5" lengthAdjust="spacingAndGlyphs">−2</text>
<text class="s" x="551.5" y="756.1" font-size="12.2" textLength="15.5" lengthAdjust="spacingAndGlyphs">−5</text>
<text class="s" x="547.5" y="770.3" font-size="12.2" textLength="23.5" lengthAdjust="spacingAndGlyphs">−10</text>
<text class="s" x="547.5" y="784.5" font-size="12.2" textLength="23.5" lengthAdjust="spacingAndGlyphs">−15</text>
<text class="s" x="547.5" y="798.6" font-size="12.2" textLength="23.5" lengthAdjust="spacingAndGlyphs">−20</text>
<text class="s" x="547.5" y="812.8" font-size="12.2" textLength="23.5" lengthAdjust="spacingAndGlyphs">−30</text>
<text class="s" x="547.5" y="827" font-size="12.2" textLength="23.5" lengthAdjust="spacingAndGlyphs">−40</text>
<text class="s" x="447.6" y="585.9" font-size="13" textLength="21.5" lengthAdjust="spacingAndGlyphs">MIN</text>
<text class="s" x="476.7" y="585.9" font-size="13" textLength="9.2" lengthAdjust="spacingAndGlyphs">=</text>
<text class="s" x="493.5" y="585.9" font-size="13" textLength="44.4" lengthAdjust="spacingAndGlyphs">−92.09</text>
<text class="s" x="545.6" y="585.9" font-size="13" textLength="24.4" lengthAdjust="spacingAndGlyphs">MAX</text>
<text class="s" x="576.2" y="585.9" font-size="13" textLength="9.1" lengthAdjust="spacingAndGlyphs">=</text>
<text class="s" x="599.1" y="585.9" font-size="13" textLength="34.3" lengthAdjust="spacingAndGlyphs">62.42</text>
</svg></body></html>
